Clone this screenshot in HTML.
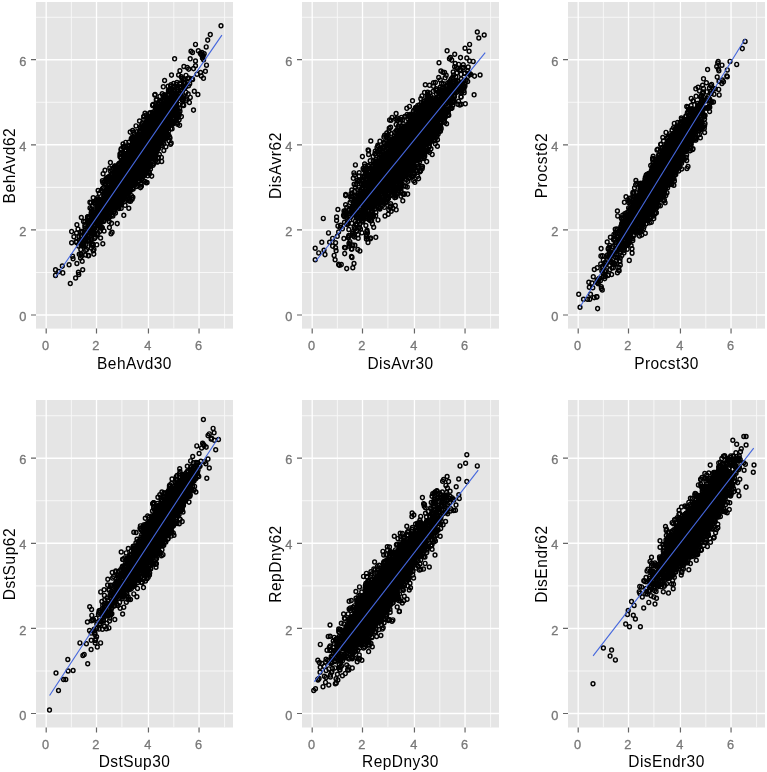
<!DOCTYPE html><html><head><meta charset="utf-8"><style>html,body{margin:0;padding:0;background:#fff;overflow:hidden}svg{display:block}text{font-family:"Liberation Sans",sans-serif}</style></head><body>
<svg width="767" height="772" viewBox="0 0 767 772">
<defs><filter id="gs" x="0" y="0" width="767" height="772" filterUnits="userSpaceOnUse"><feColorMatrix type="saturate" values="0"/></filter><marker id="m" markerWidth="8" markerHeight="8" refX="4" refY="4" markerUnits="userSpaceOnUse" overflow="visible"><ellipse cx="4" cy="4" rx="1.9" ry="2.05" fill="none" stroke="#000" stroke-width="1.45"/></marker></defs>
<rect width="767" height="772" fill="#fff"/>
<rect x="36.0" y="2.0" width="197.0" height="326.6" fill="#e5e5e5"/><path d="M71.35 2.0V328.6M121.90 2.0V328.6M173.80 2.0V328.6M224.60 2.0V328.6" stroke="#f8f8f8" stroke-width="0.95"/><path d="M36.0 272.45H233.0M36.0 187.35H233.0M36.0 102.25H233.0M36.0 17.15H233.0" stroke="#f8f8f8" stroke-width="1.05"/><path d="M46.20 2.0V328.6M96.50 2.0V328.6M148.45 2.0V328.6M199.05 2.0V328.6" stroke="#fff" stroke-width="1.3"/><path d="M36.0 315.00H233.0M36.0 229.90H233.0M36.0 144.80H233.0M36.0 59.70H233.0" stroke="#fff" stroke-width="1.5"/><path d="M160.3 142.0 118.7 169.3 153.1 138.1 134.7 150.3 150.2 116.5 133.8 152.0 141.2 147.8 156.0 112.6 138.6 165.4 139.3 143.0 112.4 186.8 163.8 115.7 136.1 154.1 148.8 137.9 122.3 179.4 172.3 103.7 136.8 175.5 112.1 182.9 146.6 148.2 102.0 205.9 125.7 182.1 146.4 149.8 106.5 210.0 142.9 135.5 98.6 223.7 106.6 211.0 123.1 180.2 118.9 198.8 138.2 169.2 149.8 138.2 122.4 175.6 135.2 152.3 159.1 121.8 126.0 184.5 138.5 175.7 158.9 115.0 161.7 161.4 81.9 236.7 108.0 192.0 148.3 128.9 120.7 156.8 157.6 116.5 144.4 125.5 153.6 156.8 149.5 144.7 139.3 151.4 100.6 238.0 145.1 156.5 151.0 125.0 161.0 132.2 157.4 117.7 151.9 126.0 114.6 176.2 142.3 141.4 147.3 137.7 141.9 143.6 144.7 158.2 153.6 115.0 157.3 133.8 80.8 249.6 156.4 125.4 124.5 192.5 155.8 106.8 134.4 133.7 154.8 118.9 126.6 183.9 97.9 209.0 95.2 214.9 122.1 185.3 172.3 110.7 143.4 143.8 108.7 204.4 130.5 167.4 121.4 179.3 132.7 179.0 96.5 220.0 175.6 107.1 123.5 157.2 119.3 180.9 139.8 148.8 149.0 137.9 136.9 157.4 124.8 173.6 142.0 152.0 146.6 169.3 147.9 141.8 160.4 131.5 121.1 183.3 169.7 121.9 123.5 187.3 90.5 230.2 121.6 178.5 147.8 139.7 168.0 113.1 91.9 221.3 112.7 199.3 147.8 146.0 92.3 214.4 171.8 109.6 151.7 129.7 118.8 182.5 180.1 83.0 138.6 167.0 131.6 159.6 133.2 152.7 121.2 188.9 140.3 151.1 145.6 141.4 159.0 127.6 141.7 139.9 134.0 157.7 154.5 135.6 129.6 157.9 129.9 163.0 105.0 170.3 126.1 191.6 159.3 123.9 122.0 179.2 140.9 152.3 112.9 216.0 132.5 163.1 156.4 137.0 150.8 130.0 143.3 162.3 129.6 148.0 135.1 161.3 146.0 151.4 139.9 148.3 135.7 177.4 123.9 189.0 84.9 226.7 143.4 153.2 126.3 172.0 151.0 165.8 203.5 78.3 129.9 189.0 143.7 119.5 156.6 132.9 107.9 177.3 132.1 169.1 153.0 124.0 131.0 174.0 113.6 201.2 145.8 148.6 140.0 154.1 149.6 165.6 157.3 130.5 138.3 169.0 141.3 166.5 101.5 213.8 138.7 162.0 144.5 149.9 162.7 109.8 172.0 89.3 128.4 150.7 142.2 160.2 118.5 186.9 171.1 113.8 131.7 172.1 136.8 152.2 123.7 168.9 114.6 192.1 162.5 120.6 144.8 125.5 85.6 234.8 143.9 136.0 175.1 103.5 149.6 135.2 155.9 109.4 134.6 168.1 156.3 126.4 128.7 154.8 161.5 121.3 111.4 178.6 152.6 105.4 110.8 178.1 92.4 222.6 106.9 210.3 163.8 116.7 143.4 155.1 167.3 123.2 120.3 172.3 158.8 118.5 111.5 223.3 170.0 116.2 120.6 192.7 146.3 132.1 154.9 127.5 173.5 93.5 163.5 119.8 140.8 142.1 166.3 106.9 129.5 168.5 139.7 143.1 139.3 175.7 76.5 233.0 149.1 156.5 158.8 130.8 133.5 159.6 182.4 90.3 134.2 178.1 151.8 136.4 124.5 201.6 139.6 157.1 111.1 200.6 164.7 100.4 130.1 171.4 146.9 153.3 145.6 154.7 156.3 140.9 137.5 157.8 132.3 162.4 152.7 116.9 106.5 217.4 148.0 136.2 131.1 183.5 145.4 150.2 122.0 166.0 131.0 152.3 155.4 122.0 151.5 144.8 145.6 135.1 138.9 180.8 134.9 167.9 140.8 151.9 179.5 93.8 170.5 106.3 121.4 182.6 158.2 135.8 126.3 166.9 139.8 163.0 123.1 179.7 96.9 207.1 114.5 184.7 135.8 143.7 150.1 128.7 131.2 157.8 154.4 115.2 152.2 152.5 142.6 147.5 168.7 108.1 98.5 215.8 123.6 176.4 126.5 168.1 136.9 162.0 102.8 182.5 145.0 122.7 186.0 92.4 123.0 164.8 165.8 106.2 157.4 123.8 149.6 142.8 132.3 158.0 118.9 181.1 115.2 194.7 149.4 123.5 123.2 174.7 155.5 117.9 173.9 119.7 129.2 177.8 171.2 143.1 105.0 217.3 135.4 153.2 87.8 216.8 180.3 94.0 163.5 109.0 163.3 132.5 158.9 141.3 149.2 124.3 91.7 211.3 167.8 104.8 133.3 167.0 115.0 170.2 169.6 99.5 125.7 142.4 149.2 172.6 161.6 137.2 162.4 111.4 123.9 167.4 141.2 148.2 164.7 120.3 148.0 150.4 152.2 116.8 157.7 114.8 120.3 177.3 116.1 167.1 157.8 140.2 162.8 134.6 130.4 168.5 126.3 185.3 123.4 166.5 84.9 224.7 137.9 148.0 81.9 240.5 133.6 169.8 151.8 132.1 127.4 196.3 168.6 130.9 127.5 183.5 144.0 164.9 116.6 186.9 186.0 100.8 144.7 139.5 147.0 145.5 139.6 174.4 158.4 157.3 164.1 97.2 138.4 152.7 127.6 166.3 111.1 201.2 179.7 108.5 137.9 141.2 162.7 126.6 135.0 161.4 157.2 140.3 129.9 175.0 145.1 153.8 130.0 174.4 105.4 203.3 147.9 131.4 92.2 233.7 136.4 166.1 83.1 244.2 164.0 138.9 139.7 154.9 148.1 160.3 103.8 220.5 179.2 97.7 166.7 112.4 108.7 197.3 159.6 112.1 134.0 145.5 97.2 204.9 125.7 178.1 91.5 209.0 126.0 177.4 98.5 217.6 160.6 113.2 92.3 218.5 153.5 129.2 138.3 166.8 129.9 171.7 76.5 242.4 133.5 157.0 133.9 184.3 132.9 137.1 99.5 202.6 91.4 234.0 174.3 90.3 133.1 165.4 90.1 232.9 144.5 128.0 162.7 141.8 109.5 209.7 128.7 180.3 132.2 172.0 163.3 86.8 160.6 129.9 168.8 124.5 126.5 170.8 121.6 170.8 149.7 125.1 134.8 171.7 114.8 165.9 133.9 160.2 162.8 131.6 167.1 128.8 118.8 174.7 120.8 180.6 151.0 146.1 132.3 162.9 124.3 147.5 122.8 160.4 105.1 209.6 147.5 156.2 127.7 158.9 124.6 188.2 93.8 254.1 162.1 133.8 100.0 227.4 143.0 167.8 110.0 199.8 139.1 165.1 139.1 161.9 138.5 152.1 131.0 173.4 80.5 258.0 116.9 198.3 120.3 171.8 120.3 195.2 178.4 112.4 121.0 175.9 169.1 123.6 130.6 178.9 93.8 217.7 161.5 125.2 146.4 152.2 133.5 168.5 119.2 170.6 134.7 157.6 143.7 157.6 125.8 179.3 102.4 188.8 116.4 190.4 103.2 202.6 164.0 115.9 138.2 162.9 148.8 139.8 147.8 154.8 152.4 139.8 133.3 149.4 125.5 176.4 139.0 136.8 119.9 179.8 142.2 144.6 155.9 129.8 166.5 126.4 144.6 134.7 134.8 144.1 161.3 119.6 108.9 198.2 145.7 150.3 174.2 98.4 136.5 147.8 158.5 124.3 130.9 166.3 145.0 145.3 155.2 134.1 93.9 233.2 125.3 150.0 125.8 183.7 152.4 147.9 117.7 168.1 149.0 135.3 140.2 147.2 168.7 118.9 129.0 169.5 128.4 160.8 110.4 162.6 184.7 82.7 145.4 144.7 158.4 119.5 121.7 179.0 97.1 225.0 165.7 138.6 141.5 145.9 143.0 176.7 117.3 171.7 138.0 163.4 115.8 194.1 151.2 153.1 117.0 206.9 117.0 194.9 122.9 174.8 164.0 126.1 136.3 161.9 141.6 159.1 123.9 171.2 139.2 151.3 108.4 194.2 99.0 226.1 146.2 155.8 158.5 144.3 159.6 114.2 82.7 269.8 140.3 126.8 137.9 161.6 161.3 132.3 103.4 205.1 128.1 174.9 157.3 134.7 145.0 143.4 124.6 169.3 134.7 168.8 155.5 113.5 160.6 141.3 144.8 137.9 139.4 152.7 121.6 193.1 119.4 173.5 161.2 108.5 157.0 149.7 187.6 78.6 100.0 213.3 142.6 148.5 165.4 138.5 139.7 144.3 124.4 162.5 162.7 118.7 110.4 209.9 137.3 162.8 97.4 212.0 136.6 162.1 124.4 193.2 143.9 163.7 94.4 238.4 164.0 119.9 138.6 134.5 126.6 157.5 116.0 191.6 117.9 188.5 118.6 173.7 150.6 131.6 143.3 142.4 139.3 160.5 145.9 139.4 136.5 138.3 104.7 201.9 171.0 84.8 153.5 146.1 171.4 112.9 134.7 159.3 111.4 196.5 142.3 134.5 150.1 136.5 155.8 120.0 162.6 103.8 119.9 204.9 127.4 175.6 160.2 101.5 133.5 167.7 124.5 189.3 114.8 200.4 113.6 206.0 170.5 112.4 154.4 131.0 132.4 159.3 166.9 106.7 116.1 190.3 147.5 134.4 99.2 199.7 174.7 121.4 116.4 200.1 121.8 174.4 113.0 207.2 132.3 152.4 95.8 225.4 141.6 164.3 98.3 212.2 131.2 138.8 113.0 206.6 136.4 160.3 133.1 173.4 145.2 140.5 113.7 193.7 126.4 174.5 97.6 207.3 151.6 141.2 161.7 123.2 153.5 129.3 99.3 213.6 146.3 149.0 133.5 174.4 156.7 125.8 143.9 147.8 143.2 153.1 154.1 142.4 144.7 154.0 146.2 157.9 146.3 124.5 150.6 132.3 114.5 166.5 152.9 157.3 125.1 205.3 149.7 137.6 110.9 198.3 149.5 147.1 130.8 174.9 128.9 173.4 78.8 274.5 109.8 168.1 127.6 178.5 159.6 115.2 156.0 134.0 183.0 88.2 168.7 104.6 112.1 184.8 173.3 99.7 135.0 148.0 165.9 96.4 143.8 147.1 167.1 108.2 108.6 204.8 89.1 217.3 91.2 239.6 147.8 159.7 106.7 210.5 148.2 136.1 157.1 136.1 158.0 131.7 112.6 177.3 147.2 123.6 102.4 180.8 83.5 221.4 154.4 124.7 135.4 153.1 132.8 182.3 135.3 157.7 145.7 146.4 111.7 180.5 180.2 84.0 151.1 148.6 160.3 127.4 172.6 99.3 133.6 159.9 130.0 174.5 181.3 76.7 121.1 202.3 118.1 177.2 158.8 136.8 123.8 194.0 125.0 178.6 136.6 137.2 141.3 171.0 148.9 143.5 141.0 152.5 117.9 190.5 130.4 174.8 168.1 114.9 147.2 141.6 150.0 122.4 157.9 161.6 173.8 102.2 142.2 140.3 122.3 200.0 131.7 158.2 160.8 112.7 165.8 121.9 118.4 181.5 116.9 197.7 112.8 207.8 152.1 143.6 138.5 164.7 123.2 166.5 155.4 143.9 98.2 206.2 159.1 116.1 107.0 187.0 125.2 174.3 159.7 119.8 106.3 211.7 173.1 118.7 159.7 106.8 137.7 144.6 151.9 149.6 138.3 167.0 121.2 148.8 132.9 160.5 156.8 108.3 147.9 125.1 139.3 156.9 184.2 78.9 142.3 165.0 137.7 157.8 150.5 124.5 94.6 202.7 153.7 134.4 141.4 145.7 146.5 155.0 172.5 95.9 119.5 198.8 96.9 220.2 168.4 114.9 146.4 162.3 149.2 148.6 149.2 146.9 158.6 116.0 163.6 112.5 142.0 147.3 136.1 155.2 161.8 118.2 176.3 113.0 134.0 168.7 146.5 147.8 134.0 158.8 155.7 121.6 98.2 228.3 157.3 110.4 93.4 228.9 140.3 165.8 161.1 123.5 93.6 217.8 107.8 202.6 114.0 173.4 138.9 162.5 150.4 145.4 166.3 132.5 170.6 86.3 107.0 205.8 125.2 179.9 123.9 198.9 139.2 165.8 101.5 216.0 146.1 141.5 107.3 190.1 119.1 163.6 142.5 160.0 136.1 157.4 127.8 163.9 118.7 174.3 141.1 137.3 129.5 162.2 136.0 158.5 123.3 146.9 143.5 166.7 154.9 129.8 148.6 133.7 120.6 179.4 111.4 194.0 137.6 161.6 145.8 132.1 91.3 245.1 139.3 168.2 122.1 195.4 157.0 137.8 132.8 170.4 156.6 123.1 106.0 190.4 148.5 152.0 185.8 86.8 155.1 94.4 164.8 108.5 97.9 233.2 102.0 199.1 160.8 122.5 123.6 172.3 122.9 167.4 122.7 174.3 124.3 163.4 131.5 161.1 114.0 179.7 143.1 138.5 145.0 162.2 159.0 144.3 104.4 181.8 122.8 193.1 171.3 121.5 105.0 184.2 128.8 155.9 96.9 217.7 152.0 112.5 175.5 108.7 170.3 114.4 136.4 175.2 167.5 112.5 155.9 122.2 179.6 125.2 159.4 119.7 141.3 173.4 176.0 109.5 144.5 139.0 132.1 137.4 136.3 139.2 129.1 169.0 125.8 188.9 89.4 221.6 175.9 106.7 130.7 157.5 131.5 159.2 132.8 142.1 171.0 100.6 169.4 112.6 125.6 167.7 142.7 154.3 143.0 154.6 142.3 157.1 169.2 113.9 117.9 191.8 169.3 109.6 164.4 136.2 105.7 208.0 137.3 150.0 149.1 149.9 139.4 166.6 136.5 136.6 94.7 224.8 171.5 75.1 136.8 158.8 119.4 176.4 117.0 175.3 129.7 175.6 155.1 141.5 154.1 132.4 139.1 155.4 123.6 167.2 108.8 203.7 92.1 230.4 130.3 176.1 157.5 145.1 135.6 156.2 137.3 162.2 135.4 176.2 144.9 136.4 153.7 138.1 128.4 197.1 109.8 206.0 153.7 115.6 163.7 119.6 132.9 172.0 144.2 145.3 90.6 237.2 163.5 126.4 133.7 158.1 160.9 135.4 173.6 83.5 151.7 176.1 129.5 187.5 128.4 159.4 135.5 156.2 129.4 146.1 143.2 141.6 124.3 162.2 134.4 153.5 192.6 79.5 176.5 122.7 113.0 195.5 113.4 186.3 139.7 149.3 158.0 139.2 108.6 187.0 145.1 151.7 149.5 152.4 142.1 150.0 122.3 179.3 176.9 114.6 137.2 169.5 151.0 136.3 138.6 134.4 150.5 169.1 155.5 160.9 158.3 136.2 131.8 170.6 158.1 118.3 97.2 234.8 140.3 150.1 160.8 120.0 136.6 147.7 118.3 191.9 153.3 144.6 104.1 208.0 104.3 214.1 183.9 96.0 144.3 153.7 153.1 126.3 118.7 186.7 139.9 142.2 143.4 152.0 168.4 107.9 140.5 170.6 137.1 156.4 104.0 204.4 174.3 114.9 84.6 240.0 156.8 139.4 166.7 100.8 131.5 166.9 165.9 124.5 142.4 157.9 129.3 180.0 159.6 122.8 126.9 170.1 127.0 181.6 129.9 176.5 126.2 167.7 130.4 180.8 128.9 142.2 131.6 163.9 152.2 143.0 142.4 145.7 157.4 161.9 177.1 93.5 122.2 185.8 166.5 104.1 157.7 118.0 173.9 114.2 173.5 87.9 135.3 164.0 173.0 109.5 127.3 158.9 186.0 75.4 156.5 137.7 169.0 109.7 140.3 160.5 155.6 142.6 149.9 148.0 122.9 173.1 144.3 169.4 132.3 160.1 154.7 147.3 146.8 147.7 155.7 116.8 138.1 151.4 143.0 154.3 133.3 142.1 133.1 182.5 184.6 88.6 137.4 146.3 110.4 212.0 155.1 126.9 113.8 194.1 124.2 146.2 166.3 105.6 138.1 150.1 165.8 134.8 138.1 160.0 159.0 107.1 112.0 184.2 143.5 157.7 131.8 168.0 157.0 151.1 140.3 152.2 118.4 196.6 148.9 158.9 123.7 188.9 145.3 137.5 86.7 249.6 130.5 201.3 155.1 107.1 150.1 145.5 168.6 118.4 155.6 145.9 142.0 137.6 158.0 116.0 149.0 132.6 149.5 132.3 122.2 168.3 129.3 164.2 116.4 189.7 87.5 217.7 183.5 88.3 182.0 99.8 156.3 126.8 128.0 194.2 135.2 159.3 159.8 134.0 115.0 207.6 130.6 160.5 93.2 197.7 182.0 78.2 158.2 120.8 124.4 185.4 172.7 123.9 176.6 105.3 130.8 175.3 130.2 165.1 111.0 174.7 133.5 153.4 92.0 218.9 135.0 156.5 156.0 149.8 130.8 158.4 156.8 127.9 170.1 119.5 139.5 155.7 84.6 236.6 147.8 132.1 168.4 119.0 119.1 169.9 153.2 134.5 125.7 180.0 142.9 133.2 120.0 184.1 134.1 162.3 141.9 170.8 116.8 172.6 150.7 139.4 96.9 209.2 144.0 151.9 184.1 86.7 140.1 169.3 147.3 149.4 143.7 164.2 149.0 145.3 140.1 145.0 182.8 98.1 136.7 159.7 152.6 134.0 169.9 90.9 144.4 138.2 151.8 157.1 130.6 151.2 136.6 179.3 163.0 138.9 137.7 154.9 147.2 125.4 136.5 168.7 176.3 116.3 133.0 168.0 140.2 152.2 146.4 129.1 136.7 158.1 141.1 157.5 127.3 177.2 160.6 123.2 119.8 177.1 79.2 254.3 114.5 192.8 180.1 87.3 154.8 95.0 159.3 121.1 144.4 175.2 138.9 163.1 152.4 132.0 127.2 176.5 145.7 132.4 172.2 111.2 132.8 158.2 166.6 110.4 138.4 165.3 138.1 163.5 170.6 114.6 138.5 169.8 111.7 194.2 83.7 244.1 145.6 146.7 148.5 155.6 170.6 90.9 153.8 128.6 149.2 125.0 146.4 157.4 127.3 179.2 163.6 114.7 134.3 158.3 137.3 154.5 144.0 134.2 146.1 139.9 133.2 150.2 117.3 192.8 150.2 128.1 141.4 186.2 165.1 114.4 151.4 141.4 118.9 190.0 100.1 211.8 124.1 178.0 133.2 159.3 124.2 188.7 136.9 166.1 175.8 98.1 146.8 151.2 152.5 141.8 167.0 109.3 147.5 141.5 129.7 175.6 139.7 164.3 166.9 106.5 183.8 83.5 88.8 222.1 125.4 178.3 148.4 152.6 163.6 121.3 152.6 138.5 130.8 174.9 127.2 169.6 139.5 121.0 117.5 192.4 123.6 184.0 108.9 190.3 118.1 194.1 130.0 173.6 131.8 174.2 147.4 145.0 115.3 179.8 164.4 113.1 124.8 193.0 99.8 216.1 101.5 228.1 152.9 132.6 153.0 142.1 183.2 79.2 134.3 139.6 126.2 177.6 148.5 140.5 150.5 130.7 126.7 190.8 185.2 83.3 141.0 149.6 118.8 207.1 165.0 119.8 147.2 150.9 164.9 126.6 147.6 144.0 162.7 139.5 122.5 196.0 114.5 176.3 148.3 135.9 94.7 221.9 173.7 105.0 177.8 96.5 115.6 189.0 168.1 86.3 115.8 182.0 91.1 238.9 161.5 116.6 175.9 103.5 132.4 174.7 155.7 151.8 151.4 125.4 159.9 134.5 128.0 182.8 108.0 199.6 137.2 142.5 116.1 198.4 172.4 111.3 91.1 224.7 102.4 227.7 135.9 165.6 126.0 163.5 160.8 100.7 142.8 161.9 126.2 173.1 133.6 159.3 141.4 156.0 146.3 153.0 123.5 180.1 120.9 186.5 137.9 167.3 158.9 130.2 174.2 106.6 136.5 186.5 139.2 154.1 90.9 227.6 105.5 202.9 154.1 158.2 173.3 106.2 152.4 156.2 150.3 127.2 156.8 122.9 169.0 119.0 129.6 154.4 158.8 120.9 169.4 123.9 158.8 135.4 160.5 120.0 116.1 168.5 117.3 169.7 155.9 129.6 126.8 181.5 117.7 170.0 142.0 162.4 131.5 168.5 149.1 166.9 128.2 174.9 115.7 179.1 137.8 172.5 168.9 140.7 115.1 171.0 139.9 146.7 147.5 152.8 150.2 140.9 150.4 116.6 135.8 181.8 115.7 176.9 141.5 145.7 135.1 156.8 143.7 150.1 132.6 155.3 131.6 177.1 148.2 141.7 111.7 169.4 97.0 217.9 144.0 138.0 113.6 211.4 145.3 172.1 161.4 106.8 155.7 128.1 120.4 175.7 157.5 134.4 176.3 100.9 117.7 176.1 129.0 170.7 139.6 161.5 150.8 149.8 153.2 153.7 153.0 165.3 164.3 124.3 144.1 154.2 123.5 147.8 115.4 196.8 128.1 184.8 152.4 114.2 93.5 230.1 141.3 156.8 120.8 169.4 84.9 221.6 132.8 152.0 142.1 143.2 146.3 156.6 150.9 146.6 113.4 197.4 133.5 155.5 150.6 142.2 148.8 128.5 140.7 149.8 131.3 161.9 147.3 170.3 89.4 224.6 130.5 179.5 137.3 146.7 161.9 124.1 140.8 143.7 152.7 127.6 150.4 145.6 135.9 167.8 124.9 161.7 102.3 191.3 140.1 163.0 129.1 188.1 115.1 178.3 101.1 226.6 158.2 128.0 139.9 178.7 143.0 136.1 94.7 210.9 148.2 146.8 167.3 136.3 149.4 174.1 167.8 114.3 127.7 162.5 103.4 203.0 168.4 128.3 129.0 159.8 170.9 104.5 159.2 145.1 110.0 216.8 137.4 168.8 112.4 177.7 147.4 150.7 165.2 95.7 158.4 111.7 99.7 231.4 151.4 140.3 132.6 130.6 151.5 137.1 109.2 188.5 166.1 111.2 143.5 151.7 121.1 188.6 154.7 128.9 106.3 196.0 163.8 111.6 164.5 107.5 130.0 187.2 165.7 127.6 139.0 145.3 143.2 146.9 181.4 116.6 87.6 240.7 164.5 122.4 107.8 202.6 111.9 188.9 156.0 124.8 179.0 113.9 110.7 203.6 151.3 118.6 155.1 143.8 143.8 147.4 139.3 137.0 148.5 142.9 129.5 169.0 132.7 174.7 106.0 211.4 168.3 98.9 164.3 111.4 164.2 115.4 150.3 145.0 158.1 107.5 145.0 113.2 161.3 120.9 165.5 127.0 143.3 162.1 120.0 153.9 143.8 116.7 136.0 167.1 94.8 216.0 155.7 155.8 153.6 144.2 132.6 140.5 144.2 138.1 133.5 152.4 117.7 189.0 108.4 217.6 136.8 162.0 154.7 118.9 146.0 140.5 122.7 169.8 149.9 131.7 107.1 209.6 162.8 119.3 160.4 135.5 140.8 172.0 160.2 118.8 149.5 156.5 103.6 187.5 138.3 151.7 145.0 163.3 135.5 167.1 170.7 122.7 133.7 150.9 147.0 136.9 123.1 176.7 134.3 141.3 117.6 184.7 146.9 147.0 105.3 214.6 129.6 183.0 188.8 78.0 134.9 145.3 150.9 139.4 144.3 144.2 111.9 192.9 142.6 129.2 158.9 123.9 146.4 130.5 163.1 122.6 110.5 206.1 154.6 152.0 129.0 182.6 82.4 232.0 125.9 185.9 112.4 179.8 146.8 149.3 143.4 172.1 115.2 187.1 168.6 118.8 115.3 166.2 130.2 159.4 152.7 148.5 156.2 130.0 118.4 202.0 146.2 164.5 131.7 166.8 161.5 113.5 151.5 144.0 116.9 172.9 155.0 155.2 151.0 131.9 123.1 174.8 129.2 187.6 116.8 181.8 162.3 126.0 141.8 137.4 118.0 204.5 154.0 126.1 123.6 180.8 150.8 120.4 156.3 99.7 107.6 205.1 156.8 133.6 122.6 179.8 152.3 137.9 105.6 191.2 136.7 165.7 150.6 148.7 138.4 157.3 154.6 133.6 116.7 169.7 129.0 176.4 83.3 243.6 132.7 157.4 169.1 105.9 129.9 181.0 148.2 149.8 154.8 124.1 130.4 178.1 148.6 150.8 155.3 137.8 106.6 213.4 134.6 161.6 105.8 192.8 134.6 158.8 163.0 95.7 132.9 163.0 92.3 243.8 113.2 193.2 156.7 138.2 162.9 110.3 140.2 157.1 130.3 185.3 123.6 186.3 143.3 148.5 126.8 179.8 144.8 147.9 138.2 137.4 136.2 183.4 172.1 123.0 134.3 146.7 119.5 180.8 117.5 199.5 141.3 148.2 145.2 136.1 125.7 183.5 160.4 114.1 138.4 158.6 132.4 148.1 137.3 185.1 154.3 111.4 160.9 125.7 118.6 170.3 156.9 137.6 168.7 106.9 124.6 155.5 136.7 157.8 124.1 181.4 167.5 128.1 138.0 165.8 157.7 119.3 160.5 142.8 104.9 195.9 149.8 140.1 139.1 158.4 149.5 149.4 155.4 138.1 119.0 208.4 160.5 117.3 127.7 180.1 165.2 103.1 102.1 218.0 130.9 177.0 165.9 118.2 156.1 136.3 133.2 177.9 147.1 169.3 127.9 187.2 165.6 129.3 158.2 119.9 118.2 176.1 175.3 115.7 155.8 117.6 164.5 138.3 157.5 137.8 138.8 161.4 115.5 200.0 140.4 139.9 173.4 87.2 137.3 170.6 169.8 106.7 107.3 201.2 156.4 125.1 142.0 162.3 128.8 161.9 154.8 126.6 140.4 128.6 146.4 158.3 133.6 164.1 135.7 151.7 170.7 97.3 126.8 171.7 121.0 172.7 114.9 171.9 188.6 85.7 132.4 167.8 154.5 132.6 149.0 171.5 176.0 95.0 137.9 150.4 89.9 202.2 172.4 124.0 158.5 123.9 130.4 159.7 116.7 178.5 144.4 162.6 144.9 181.4 96.2 216.4 150.7 135.9 93.8 217.3 135.2 169.1 116.5 197.5 143.4 150.8 174.5 115.7 149.1 153.0 134.8 158.2 114.8 183.3 159.0 140.4 177.2 122.6 157.1 142.2 168.6 104.6 131.7 169.8 158.3 119.7 166.1 109.2 154.5 137.9 148.6 140.7 126.3 163.0 140.9 158.2 151.2 150.2 147.3 123.7 135.6 142.0 129.2 179.9 136.6 149.1 136.5 153.6 123.0 175.2 102.3 212.9 114.9 199.9 136.7 173.3 170.9 97.8 154.5 133.7 136.8 151.8 168.1 135.7 154.3 121.9 162.1 110.9 154.8 129.5 157.9 103.5 131.3 162.4 172.4 105.4 81.6 256.1 124.4 187.9 134.4 156.3 102.0 202.7 109.2 176.5 154.0 141.5 153.0 129.8 109.3 209.2 159.2 129.0 140.5 161.4 150.8 166.1 140.3 144.5 98.8 224.5 155.9 142.5 156.1 129.6 149.9 154.6 159.3 138.4 129.1 200.9 139.0 156.2 118.4 177.3 86.1 237.8 155.2 119.6 132.2 147.7 153.6 127.0 163.5 124.5 136.7 150.5 158.6 114.6 144.4 146.8 156.4 117.5 148.1 138.0 127.7 186.4 127.8 174.7 163.8 119.2 140.8 168.3 164.2 137.1 125.9 168.5 139.8 167.3 168.3 107.7 138.4 175.0 147.4 159.3 139.7 144.2 171.6 107.2 168.8 135.2 120.7 201.7 172.1 107.5 125.7 185.5 138.7 167.2 179.2 115.0 102.2 212.3 121.3 153.1 158.0 149.0 99.2 193.3 156.7 141.9 159.0 142.4 132.8 154.6 147.0 148.1 145.7 150.4 144.1 128.8 146.5 121.8 171.9 102.2 128.5 184.1 147.4 157.9 116.8 189.2 131.9 154.3 144.7 143.5 120.5 179.0 119.9 169.8 121.2 208.3 119.1 173.7 95.9 217.6 143.5 150.0 155.5 127.9 153.8 139.0 118.8 205.3 155.5 157.3 104.2 202.0 145.4 162.3 123.6 179.0 156.0 152.9 159.2 127.9 164.7 113.6 141.9 157.0 179.0 93.5 120.3 191.6 114.4 197.2 159.0 125.3 140.7 153.8 89.9 221.2 144.4 147.0 132.5 153.2 116.5 167.9 103.9 194.3 111.5 183.4 137.3 151.6 151.2 158.1 162.6 106.0 149.0 131.2 138.8 169.5 139.7 156.8 114.1 209.8 134.4 158.2 111.2 177.1 143.7 147.2 160.6 133.2 119.3 170.1 143.4 139.8 144.7 145.3 167.3 104.8 128.5 173.0 158.8 114.2 104.1 231.0 136.7 152.4 147.7 153.5 165.9 112.5 138.2 166.4 138.9 175.6 139.3 149.1 128.8 208.2 108.3 204.1 162.5 106.1 140.3 132.5 160.5 106.3 127.3 195.3 176.4 102.4 123.4 189.7 134.7 159.6 149.2 164.8 145.0 139.9 156.1 129.2 98.1 199.1 143.4 135.1 131.5 165.2 136.6 178.9 139.8 147.9 128.8 182.7 158.8 127.0 114.1 176.8 91.3 248.1 137.8 161.2 115.1 201.9 167.1 112.8 147.9 138.1 96.3 213.3 127.5 167.0 131.2 176.8 166.8 123.2 125.5 176.1 144.5 146.1 156.4 133.5 120.1 194.0 153.9 141.3 142.5 149.1 99.6 226.4 186.2 99.0 141.8 146.2 149.8 113.1 155.7 145.8 101.3 190.6 130.9 160.7 150.6 152.1 117.6 182.6 149.3 136.6 125.8 161.8 130.8 184.9 112.7 180.4 174.9 108.8 107.9 196.9 134.4 177.2 129.7 154.0 98.0 212.1 151.7 148.8 117.9 180.4 127.9 162.7 148.5 125.2 107.3 190.9 131.1 190.0 146.2 159.3 153.7 136.2 88.6 226.6 157.0 145.6 154.6 120.9 121.5 175.0 85.7 255.0 113.9 206.7 143.3 135.8 129.7 191.5 132.8 139.5 151.7 118.2 194.3 91.2 132.3 160.8 152.2 125.0 146.0 182.6 97.4 197.7 150.9 143.0 92.7 244.1 136.6 146.9 110.4 192.3 103.7 208.4 129.6 182.1 161.6 145.2 154.6 125.5 140.9 148.5 140.1 173.5 124.2 189.3 112.6 204.9 137.9 164.7 147.5 146.7 138.3 140.5 162.4 122.9 113.8 179.6 98.9 213.8 141.3 136.6 173.9 108.6 123.1 168.1 133.7 173.8 161.9 145.6 144.3 174.9 147.0 168.4 147.0 127.8 153.2 136.1 96.8 214.4 127.1 167.7 128.9 159.1 83.7 240.3 144.8 160.7 177.5 89.4 138.8 159.0 125.9 181.9 143.3 143.4 146.0 138.7 123.7 176.0 141.4 179.6 157.1 105.7 97.8 216.9 137.7 176.4 94.1 214.8 163.5 105.7 164.5 106.1 155.3 128.9 158.4 123.4 82.2 261.3 140.5 187.6 163.8 105.9 141.8 150.4 129.2 168.1 158.4 148.5 150.4 120.5 136.8 168.0 162.5 113.3 170.8 128.7 159.4 154.6 137.6 156.6 137.4 153.0 106.8 217.2 155.8 103.2 137.2 166.3 111.9 178.5 129.7 156.2 147.5 162.9 138.9 151.2 140.1 165.9 111.7 193.0 111.4 197.6 97.8 203.7 157.4 139.4 154.3 128.1 121.8 171.4 130.2 148.2 145.1 163.6 121.5 168.1 130.5 159.1 164.9 105.9 109.4 227.6 177.6 124.3 133.2 189.0 90.5 233.3 143.0 156.8 117.9 189.9 145.5 134.9 166.8 100.5 145.8 153.8 170.0 114.3 145.3 169.9 155.8 140.6 166.1 120.7 100.4 218.7 147.8 175.8 142.4 159.7 111.4 196.6 108.8 189.8 137.5 154.8 124.4 198.6 166.4 129.7 140.2 149.5 154.5 133.6 133.7 150.9 161.1 118.3 145.6 150.5 145.0 153.1 128.3 163.2 115.5 198.9 103.5 211.2 150.8 126.4 143.6 155.9 125.9 169.8 132.9 197.2 152.5 153.6 120.2 184.1 151.4 133.0 105.0 207.6 167.6 115.2 121.2 192.4 157.4 131.7 144.9 139.3 163.2 133.8 143.7 167.4 145.0 136.4 123.4 156.5 143.1 134.1 109.0 207.7 153.3 140.0 182.1 99.5 146.0 140.4 146.5 136.6 97.5 225.3 174.9 97.3 131.5 162.6 149.5 124.0 131.6 169.0 128.6 167.2 134.9 183.9 153.0 142.1 133.9 156.0 169.5 136.9 172.5 118.4 114.6 191.8 133.4 168.8 164.7 131.0 162.0 130.5 149.3 135.7 110.6 171.3 130.6 157.2 99.3 209.9 134.9 137.5 134.5 181.6 148.2 129.7 144.9 147.2 137.3 160.0 177.3 108.8 115.9 189.3 85.2 228.6 142.6 159.5 150.8 151.4 131.4 161.8 131.4 148.4 152.1 123.9 145.4 133.8 155.1 146.3 92.9 232.1 137.7 163.0 113.7 169.1 123.6 183.4 130.3 154.2 104.0 196.5 111.9 205.1 164.3 111.7 137.1 142.2 80.7 232.0 131.1 164.0 149.1 128.6 148.4 160.1 138.3 163.2 163.3 120.5 134.4 153.5 78.0 229.1 156.8 138.0 114.7 189.7 141.4 137.8 156.6 116.8 87.6 241.3 133.2 171.0 173.9 101.1 165.9 146.7 176.5 84.6 139.3 158.2 119.9 164.8 162.1 127.8 177.8 117.8 172.1 128.8 159.4 106.6 156.5 139.1 146.0 146.8 110.7 213.0 144.6 158.2 134.9 158.5 106.0 196.9 106.3 203.1 159.8 138.8 127.3 175.2 160.3 129.1 156.7 116.2 144.7 155.5 115.5 212.9 117.3 181.9 146.8 156.4 159.3 111.2 122.5 155.1 176.8 106.1 136.8 164.1 132.0 154.0 111.7 214.9 141.6 139.9 164.8 94.7 128.6 167.8 116.5 186.8 134.6 170.1 168.5 124.0 180.9 90.6 161.4 120.1 119.5 190.5 111.9 182.1 137.1 163.2 141.2 134.9 141.4 171.1 120.4 178.1 163.2 113.5 148.0 131.3 140.0 158.1 146.0 145.7 109.1 197.0 152.2 148.0 169.2 114.9 120.2 203.9 142.2 149.1 131.2 170.9 160.9 125.9 140.3 144.7 137.7 161.6 154.3 130.9 170.0 138.0 120.2 197.7 106.5 180.7 140.5 153.0 148.1 162.8 128.8 168.9 170.9 100.5 127.3 153.4 116.9 196.6 123.0 176.1 140.3 164.0 132.4 185.8 96.3 218.0 117.0 193.6 166.1 120.1 115.2 195.8 154.1 132.0 136.9 131.7 169.5 105.2 180.0 84.3 98.1 190.6 177.4 117.3 166.1 131.9 132.1 175.5 133.6 179.4 128.0 158.2 150.5 154.3 183.0 100.4 145.7 134.9 137.5 168.4 147.7 140.7 160.2 115.5 147.1 152.6 148.7 120.4 140.9 145.2 172.6 99.5 115.4 191.0 102.0 220.6 148.8 152.6 173.3 109.3 114.8 191.5 131.3 169.7 143.1 143.2 166.8 125.2 118.9 184.5 141.6 140.4 122.7 198.5 79.5 242.3 123.9 192.1 169.3 114.9 147.1 141.7 133.4 173.8 156.6 107.6 138.3 174.1 151.6 123.7 129.3 171.4 158.0 124.7 106.6 214.0 149.0 134.5 112.6 188.2 189.4 102.5 108.3 201.6 122.8 181.3 170.0 100.7 163.8 135.0 164.6 105.4 162.7 115.7 90.0 207.9 153.4 151.5 109.4 180.0 111.0 233.8 123.1 193.9 122.6 182.7 124.2 190.6 133.6 154.3 164.9 124.7 146.8 143.9 120.5 182.4 127.4 159.3 176.2 110.7 145.1 135.0 111.9 198.1 139.8 149.5 137.8 150.1 111.7 188.3 117.3 201.0 183.7 97.7 117.2 193.7 145.1 144.4 180.2 93.6 141.4 178.9 138.4 181.8 116.0 179.1 127.6 185.7 112.1 185.8 100.5 220.7 113.7 187.0 160.6 121.6 139.6 167.8 130.2 153.9 138.5 149.9 133.9 185.0 140.7 162.5 151.1 132.9 132.6 147.4 141.1 163.0 141.1 184.2 149.7 153.3 127.1 164.4 154.9 143.1 147.1 127.1 142.0 155.6 158.5 108.2 176.1 116.1 120.8 181.9 141.9 142.5 132.8 175.4 138.1 142.2 138.5 161.6 137.4 152.1 133.7 167.4 129.7 171.3 151.8 121.7 128.2 168.6 137.6 137.2 151.1 139.4 152.3 120.7 114.8 182.6 168.5 91.4 166.8 119.7 149.4 135.7 130.1 163.2 85.6 250.6 156.6 120.6 184.6 85.9 163.7 129.8 138.6 147.8 155.6 120.7 163.2 126.1 150.9 133.0 148.1 117.2 149.9 136.1 128.0 170.4 147.6 145.9 164.3 136.8 104.8 192.0 157.5 131.1 93.6 232.3 123.8 215.3 81.1 239.8 161.8 131.2 158.8 130.2 165.1 118.2 120.9 184.0 152.9 128.5 135.5 148.8 134.5 167.4 144.7 144.1 164.4 126.0 124.4 166.7 107.8 203.1 136.3 162.7 147.5 140.4 143.8 149.0 159.5 133.7 143.2 147.0 131.4 158.1 135.4 161.7 159.2 133.7 131.0 152.8 154.9 132.3 106.3 212.8 126.8 184.1 132.3 167.7 134.6 148.2 168.7 90.5 107.4 192.5 150.1 154.8 119.2 188.2 144.3 132.6 116.6 177.5 157.9 125.8 134.0 153.0 133.1 168.9 116.2 183.6 144.9 141.6 156.4 145.5 168.0 101.6 143.4 153.9 102.1 200.4 150.7 150.9 163.1 103.4 141.8 125.0 178.8 104.4 177.3 91.6 104.0 216.8 107.0 178.5 144.5 163.8 146.2 149.5 168.4 119.3 148.5 121.6 95.4 237.2 94.5 215.2 119.3 170.1 155.4 128.6 107.5 205.9 129.6 165.1 117.2 192.4 100.8 202.5 81.8 231.4 92.9 219.1 133.4 152.2 155.3 137.6 120.8 184.7 105.9 199.9 169.1 105.6 167.5 120.1 103.0 200.4 166.8 108.2 117.1 185.9 189.7 83.8 155.0 141.7 137.4 142.3 127.3 181.0 119.3 164.0 153.4 139.2 150.1 157.9 122.5 171.0 126.3 171.7 135.3 166.5 156.1 133.1 122.0 182.3 145.0 139.3 159.3 140.8 86.0 244.6 129.1 155.2 135.1 155.0 162.9 124.0 150.0 113.0 127.8 177.7 125.4 149.8 176.0 110.9 90.8 221.7 150.7 136.6 146.1 128.0 163.4 113.2 147.0 138.5 133.2 155.9 124.7 164.0 114.5 177.7 143.7 156.3 163.8 126.1 151.8 134.6 128.4 189.5 152.4 157.0 147.9 139.7 156.7 125.6 137.7 164.4 108.1 209.3 140.0 165.3 156.7 128.3 158.8 106.8 163.9 124.5 135.0 154.1 124.0 178.0 166.4 119.7 172.0 94.1 151.2 157.4 85.8 239.4 151.6 134.3 140.7 152.4 149.9 159.7 133.4 132.2 110.8 203.4 140.0 143.3 145.7 140.9 157.8 127.8 137.6 173.8 117.2 178.1 153.8 130.7 138.9 167.2 135.3 149.3 127.2 179.8 158.4 114.7 115.9 186.8 141.8 157.1 147.0 119.7 109.0 181.4 164.1 106.6 168.2 124.4 142.5 155.5 129.5 162.2 95.2 225.1 159.1 134.8 142.4 145.7 162.7 118.0 176.7 116.8 130.5 157.5 135.9 159.6 128.7 145.3 192.2 78.8 161.7 124.7 153.1 144.3 110.6 188.6 121.9 183.7 105.9 201.0 144.1 135.7 133.6 146.5 147.1 141.3 139.2 158.6 171.3 110.7 152.5 148.9 128.0 154.8 150.0 132.7 131.4 182.0 80.9 254.1 168.2 121.3 158.9 108.1 144.8 164.3 154.8 135.0 166.7 114.1 106.7 214.7 131.7 169.7 94.2 202.0 118.5 170.6 158.3 145.4 132.0 160.6 162.4 122.2 129.2 156.1 151.3 153.0 137.4 157.1 140.5 145.4 117.9 198.9 156.6 131.6 128.4 171.3 109.6 192.7 153.4 142.6 153.0 104.6 133.0 156.3 140.9 172.7 147.2 159.0 144.8 160.8 144.3 147.3 100.5 210.3 167.4 106.0 149.9 136.7 100.1 219.7 111.5 200.3 160.4 118.0 126.5 164.2 142.5 166.3 99.9 217.9 98.4 204.1 114.6 197.9 142.9 148.8 126.2 183.9 163.1 107.4 144.7 151.6 163.7 125.7 103.2 201.4 144.8 149.2 93.3 216.0 149.3 126.2 155.3 132.1 118.8 182.7 149.6 122.1 127.2 173.4 120.1 184.1 151.8 126.0 139.0 169.9 135.1 146.2 141.2 153.8 135.8 167.5 135.2 165.8 162.4 134.6 168.1 104.8 92.1 229.9 197.9 94.5 112.6 200.9 156.3 122.7 104.7 209.0 138.5 164.1 108.6 211.9 136.1 146.1 107.1 208.2 144.3 141.2 145.2 171.2 124.3 179.9 136.3 170.3 136.5 162.7 136.2 158.0 151.4 143.6 121.7 173.1 138.3 143.4 154.3 132.9 142.1 165.5 130.0 156.7 139.6 163.4 153.6 135.5 143.6 136.6 120.9 179.9 95.9 219.5 78.5 246.0 180.0 111.2 161.9 128.1 130.7 182.3 143.2 144.8 152.5 142.3 139.0 155.9 177.7 87.2 126.3 163.8 131.6 160.6 127.8 161.3 126.0 165.3 169.0 112.5 119.5 175.6 129.7 152.0 112.1 197.2 171.3 106.1 156.9 149.3 116.6 197.6 148.6 140.9 112.0 199.1 172.1 105.2 141.8 155.2 124.2 178.7 116.5 188.2 96.9 223.6 128.8 161.9 143.4 158.3 142.8 149.9 146.2 130.4 139.7 153.3 127.2 183.5 151.5 144.2 146.3 138.7 143.0 142.0 126.6 181.5 138.1 164.5 105.7 179.3 109.2 213.7 142.4 123.2 157.8 126.5 132.3 172.8 110.8 200.4 147.2 148.5 137.6 162.0 144.8 143.1 127.3 192.6 144.9 134.7 93.8 215.3 122.4 188.6 157.4 148.2 137.7 137.2 108.3 218.8 127.2 168.5 155.6 125.4 131.9 180.2 145.3 132.6 114.4 209.3 129.1 191.1 133.5 178.7 154.0 144.6 135.5 143.9 94.6 234.4 142.7 127.9 139.5 151.8 144.7 135.7 168.1 107.7 120.2 191.3 141.7 155.8 155.0 127.5 98.7 208.5 142.1 127.3 115.0 201.0 142.4 167.5 122.5 193.8 138.1 173.1 137.4 160.3 146.2 141.9 148.7 118.7 144.5 146.9 117.5 193.7 149.5 138.7 106.5 178.0 146.9 154.4 84.1 245.8 173.7 99.9 168.5 104.6 153.4 126.5 121.8 172.4 124.5 164.0 90.9 202.8 140.6 131.1 165.8 104.6 134.0 158.0 188.2 94.1 171.7 116.1 106.8 218.3 139.6 161.9 125.1 173.3 141.6 141.9 155.0 147.6 126.2 157.2 111.6 197.0 121.0 203.6 125.1 171.2 146.8 156.3 110.5 207.0 124.5 177.0 113.4 205.8 130.6 166.9 79.5 239.9 131.7 152.5 101.0 221.7 138.8 170.9 121.0 149.9 113.9 199.0 132.3 140.6 134.2 164.2 163.0 125.9 119.9 156.6 133.8 152.7 118.8 189.5 126.1 178.4 123.0 169.2 85.0 235.5 115.3 182.6 122.7 182.5 126.7 174.6 156.5 125.7 157.3 132.7 154.2 159.1 93.6 219.7 139.6 166.7 172.2 112.4 169.2 117.6 112.6 206.0 134.5 138.9 121.0 199.3 165.6 103.0 104.0 220.9 111.1 201.4 103.9 195.2 154.0 134.1 102.6 205.3 168.4 90.2 156.2 123.1 138.9 140.7 144.9 144.9 137.6 156.8 114.7 189.7 165.2 98.1 132.1 199.3 161.4 118.6 148.3 136.5 126.8 193.3 136.9 155.9 124.9 178.3 134.6 173.6 142.0 149.2 153.2 149.4 131.5 148.4 126.2 189.3 183.7 105.5 122.7 184.0 150.5 139.9 120.6 173.7 90.6 220.0 163.0 120.5 112.1 232.2 135.5 166.2 130.5 169.5 159.2 115.4 183.0 104.7 103.0 202.6 171.7 113.5 103.1 216.9 160.3 125.6 146.5 148.0 156.1 129.9 136.6 160.1 131.6 149.7 152.0 127.6 160.1 138.5 176.9 82.6 134.8 145.0 125.3 164.4 130.2 165.8 156.6 107.1 112.8 197.4 124.5 172.9 101.5 220.9 178.3 96.3 174.4 90.0 123.9 184.4 140.4 138.7 132.7 175.9 113.1 185.9 118.6 164.2 152.5 139.3 162.5 122.8 129.5 155.3 133.5 150.7 132.2 165.6 105.9 199.8 101.8 208.2 136.7 147.0 111.4 186.6 137.3 154.3 124.3 184.7 118.1 203.0 123.2 200.3 100.4 205.6 136.0 125.9 114.0 183.4 123.2 166.4 174.5 104.9 159.4 121.2 139.5 167.3 138.2 155.3 118.6 198.4 133.0 156.5 134.6 176.6 139.3 142.6 174.0 104.8 141.1 144.1 165.6 109.0 172.3 124.2 81.2 254.1 174.1 91.5 147.8 137.7 166.6 105.3 148.2 116.9 153.7 125.6 136.3 139.0 144.0 149.8 131.5 173.3 154.9 129.8 140.3 151.5 94.6 214.8 107.4 190.2 128.0 159.9 150.5 123.0 138.8 160.0 135.2 168.1 132.2 158.7 117.9 174.5 132.2 160.5 139.5 150.7 126.0 150.1 140.4 146.7 117.9 197.3 160.3 130.5 111.9 173.3 123.9 165.6 190.3 97.4 138.5 166.4 125.5 166.5 172.0 111.5 133.3 157.1 136.3 171.9 126.4 173.0 108.8 194.5 166.4 108.0 127.8 169.5 145.4 147.0 170.9 102.4 133.1 155.0 106.9 209.2 156.8 143.4 137.3 156.1 121.0 193.5 174.4 107.1 159.9 96.4 141.0 146.4 166.8 120.9 87.5 235.8 145.5 154.5 89.1 240.1 131.8 168.8 150.6 130.2 125.0 163.6 139.8 144.6 163.8 143.6 159.8 122.7 121.7 189.0 176.6 99.4 126.3 174.4 139.1 161.9 125.7 189.3 141.6 153.3 176.2 102.1 79.0 236.8 147.2 143.7 124.8 186.6 164.3 101.2 139.2 135.7 125.4 178.4 155.6 148.0 120.4 153.7 105.6 183.6 126.5 163.9 120.8 200.2 143.7 128.2 158.6 114.1 155.2 144.2 153.9 163.5 121.8 162.0 122.3 186.4 143.1 148.1 112.8 184.3 141.2 138.6 172.7 109.3 168.5 104.8 157.8 122.3 145.6 147.9 101.0 202.9 86.5 233.6 154.6 136.6 141.4 153.8 118.3 203.2 131.2 174.1 129.2 189.8 125.4 166.1 131.5 184.6 130.2 132.1 138.3 154.6 126.8 173.0 147.9 158.7 81.1 245.5 131.0 146.8 127.1 171.6 161.3 143.1 149.2 131.0 150.3 119.7 137.9 162.9 108.3 200.1 135.0 142.5 129.0 199.2 95.6 203.0 144.5 156.0 108.9 193.5 147.5 128.8 119.9 172.4 100.6 204.1 157.2 113.8 127.3 179.9 86.8 228.6 175.9 111.2 148.5 138.2 155.5 137.9 127.7 188.7 157.5 140.6 148.8 163.4 121.9 196.0 142.2 174.1 126.4 188.8 93.0 245.1 121.6 196.8 137.0 173.9 139.0 137.9 144.5 148.2 140.7 164.3 117.2 223.6 115.8 198.8 107.8 184.7 159.2 133.0 170.9 95.5 156.0 128.5 150.7 139.8 158.4 132.5 108.1 202.9 139.6 160.7 112.1 203.8 112.6 194.0 134.8 150.4 120.9 175.5 163.8 150.5 149.8 134.5 109.6 192.1 170.3 118.5 147.9 133.9 167.4 104.8 81.3 217.5 88.3 255.8 122.9 170.1 166.6 130.2 136.1 159.1 135.3 155.6 95.7 200.8 131.1 164.4 150.0 150.9 132.4 151.2 116.0 182.9 98.6 200.3 193.5 110.1 133.6 163.5 170.5 144.2 165.5 115.2 154.5 135.0 124.0 187.7 117.9 181.3 117.2 184.0 161.6 111.0 92.2 206.5 144.5 147.5 119.8 185.9 144.0 158.7 135.3 146.5 114.8 191.5 143.5 152.8 101.2 202.9 145.5 154.5 136.5 162.6 153.8 135.2 130.7 156.1 161.7 136.5 103.5 221.4 134.6 170.0 134.6 171.0 111.1 205.7 169.6 103.2 88.1 236.0 124.9 154.1 151.9 126.3 95.4 218.6 157.9 130.7 140.3 146.2 162.2 93.7 138.1 169.0 120.2 182.1 123.0 144.1 101.5 221.1 152.5 140.6 112.9 192.6 133.9 169.9 154.2 118.1 168.9 120.8 150.1 141.7 146.8 138.2 125.8 179.1 133.6 161.9 138.1 158.4 161.4 157.4 164.9 109.8 106.3 200.1 142.3 153.3 132.1 154.6 179.1 119.8 123.8 161.9 134.5 169.4 122.3 191.1 177.4 113.0 166.4 112.0 146.7 157.4 100.6 202.1 134.5 179.6 113.8 177.0 104.4 208.1 153.1 113.7 163.0 116.4 144.8 153.1 153.6 138.4 132.9 187.7 108.7 204.0 144.0 172.7 155.7 144.8 160.7 137.8 113.2 185.7 175.5 96.7 138.0 161.0 153.0 137.5 100.8 218.9 103.1 173.7 157.6 122.5 121.2 168.2 139.0 177.7 160.0 127.9 147.9 157.2 87.5 216.9 132.7 168.4 83.3 246.0 142.4 150.2 136.0 158.3 90.1 227.5 120.5 162.4 139.6 143.1 165.2 115.7 135.0 154.1 100.4 215.7 146.7 162.5 154.3 134.6 129.7 198.2 151.1 127.5 161.5 132.1 102.8 243.7 143.2 148.7 143.8 116.6 112.8 201.6 125.9 175.9 172.7 121.9 174.1 86.3 162.2 127.3 134.4 158.2 177.3 89.9 111.2 196.9 150.3 131.1 131.5 195.8 126.8 190.1 140.7 151.1 132.6 173.1 162.9 129.1 171.0 109.5 146.4 137.8 132.1 149.1 139.2 131.8 168.4 95.6 105.0 192.3 174.7 114.2 169.5 122.2 159.2 141.5 139.8 159.3 81.1 235.9 158.2 102.8 104.7 217.4 142.9 141.6 128.4 176.5 146.7 144.9 114.3 211.8 146.2 115.0 141.1 149.0 164.4 118.5 137.4 156.3 163.1 137.8 91.1 213.1 146.4 136.7 158.4 115.6 161.6 102.2 137.1 147.3 131.7 170.6 142.5 153.1 150.8 164.2 156.5 100.1 147.3 159.8 133.1 138.6 93.8 230.2 103.6 201.5 172.3 106.2 127.6 187.7 167.0 102.3 177.5 89.2 143.2 146.6 145.6 134.1 120.8 157.8 150.2 152.4 114.8 194.5 143.8 164.2 141.1 160.7 145.0 149.5 147.3 146.1 133.1 161.7 152.4 115.1 153.6 122.8 147.3 149.4 98.7 201.1 126.1 179.4 122.9 182.3 126.7 173.4 130.0 184.4 146.0 151.3 164.6 80.5 147.1 182.6 126.3 174.0 123.1 185.2 124.4 182.3 146.2 129.6 167.9 123.1 137.4 176.8 135.4 164.5 94.7 220.9 114.9 181.7 153.7 117.5 153.0 126.8 125.3 164.3 164.9 126.5 161.7 133.9 153.7 129.6 146.1 139.1 93.0 211.7 135.2 154.7 176.1 109.0 126.7 181.8 115.1 174.7 137.4 147.2 109.2 221.4 143.9 142.6 109.1 193.1 166.9 125.7 172.5 122.9 55.5 269.9 55.5 275.4 62.3 266.1 62.8 272.9 58.8 271.6 69.1 264.8 76.9 263.5 78.4 272.4 75.6 278.0 70.3 283.5 73.1 258.8 72.6 256.3 71.6 242.7 71.6 231.6 73.9 236.7 76.9 224.8 76.1 241.4 88.7 255.4 93.2 250.7 94.0 249.5 96.8 244.8 221.0 25.7 210.3 34.6 207.7 40.1 206.2 46.9 195.5 44.4 174.6 58.8 191.0 51.2 192.5 52.5 198.3 50.8 201.9 52.5 204.2 53.7 202.4 58.0 203.1 55.4 201.1 54.6 190.2 58.8 195.5 61.0 206.5 65.2 205.4 71.2 195.5 65.7 183.9 66.5 179.9 70.8 178.6 75.0 187.2 67.4 188.7 69.1 193.5 68.6 200.6 72.5 201.3 75.9 197.0 74.2 202.9 56.3 203.6 59.7 200.3 53.3" fill="none" marker-start="url(#m)" marker-mid="url(#m)" marker-end="url(#m)"/><path d="M55.5 277.2L221.9 35.1" stroke="#4466dd" stroke-width="1.1"/><path d="M46.20 328.6v5M36.0 315.00h-5M96.50 328.6v5M36.0 229.90h-5M148.45 328.6v5M36.0 144.80h-5M199.05 328.6v5M36.0 59.70h-5" stroke="#666" stroke-width="1.2"/>
<rect x="302.0" y="2.0" width="197.0" height="326.6" fill="#e5e5e5"/><path d="M337.35 2.0V328.6M387.90 2.0V328.6M439.80 2.0V328.6M490.60 2.0V328.6" stroke="#f8f8f8" stroke-width="0.95"/><path d="M302.0 272.45H499.0M302.0 187.35H499.0M302.0 102.25H499.0M302.0 17.15H499.0" stroke="#f8f8f8" stroke-width="1.05"/><path d="M312.20 2.0V328.6M362.50 2.0V328.6M414.45 2.0V328.6M465.05 2.0V328.6" stroke="#fff" stroke-width="1.3"/><path d="M302.0 315.00H499.0M302.0 229.90H499.0M302.0 144.80H499.0M302.0 59.70H499.0" stroke="#fff" stroke-width="1.5"/><path d="M395.0 170.9 350.0 196.8 434.8 125.8 426.2 126.3 394.3 173.1 400.2 153.8 388.5 169.8 405.4 163.6 354.9 207.2 386.1 184.1 412.4 127.3 418.9 129.9 426.4 125.0 368.7 190.4 371.8 182.5 411.0 128.2 425.0 111.7 414.7 123.8 428.4 114.4 388.1 170.6 468.2 67.0 364.8 203.9 430.7 124.8 439.0 106.4 434.4 108.2 373.8 202.5 447.4 90.7 431.4 116.5 414.5 140.7 389.0 170.7 403.0 151.4 364.3 176.0 423.3 147.1 371.2 179.6 436.1 130.0 443.3 96.6 389.7 175.5 405.9 170.7 351.4 196.6 416.4 170.9 401.1 166.8 436.0 126.4 389.3 173.2 385.8 194.7 434.8 109.7 352.0 195.9 391.5 145.1 387.4 152.9 409.0 155.6 390.6 172.5 387.8 166.6 401.4 155.4 436.5 118.4 465.3 103.8 396.7 170.0 382.5 171.3 384.6 177.1 403.9 193.9 383.8 203.3 408.9 178.2 406.8 130.2 425.0 108.5 379.4 208.4 394.8 163.3 355.1 202.5 428.8 118.6 388.1 168.3 397.0 172.7 406.6 164.6 369.9 218.3 412.7 161.3 416.4 129.1 423.6 132.9 384.4 183.0 433.7 130.7 418.1 135.1 395.9 146.8 400.1 175.5 430.8 101.5 405.7 140.0 388.2 214.2 357.4 206.4 359.5 202.4 430.2 102.9 413.2 144.3 366.4 238.9 386.3 202.0 420.0 155.3 410.8 138.1 434.6 129.1 381.2 201.9 363.8 196.6 443.7 94.9 393.3 190.3 359.5 207.1 428.3 109.2 390.5 158.3 453.7 75.0 363.3 179.6 363.1 188.8 393.6 173.6 387.1 137.9 415.1 128.4 438.3 114.8 409.5 137.2 430.5 130.2 414.7 140.7 435.8 90.4 346.1 214.2 371.7 210.5 362.4 198.7 421.1 136.8 365.1 213.5 393.4 180.3 474.5 76.1 430.4 118.1 423.3 112.0 410.4 149.0 376.9 161.4 420.4 144.4 411.7 147.9 387.2 147.2 340.2 227.2 425.8 121.7 423.1 124.5 396.4 169.6 377.8 145.3 428.0 122.6 389.1 155.1 373.3 180.3 376.7 168.0 383.0 151.9 375.8 237.3 384.4 199.1 400.6 188.9 443.7 114.2 401.6 158.1 391.0 160.9 420.9 143.5 425.7 118.5 344.4 212.9 396.2 159.8 382.0 197.2 419.9 141.5 469.3 74.3 435.0 105.1 414.4 142.2 362.3 197.1 431.4 141.1 422.2 168.4 387.3 170.2 439.5 107.8 406.7 164.0 442.3 111.2 405.5 142.4 418.4 127.0 377.9 163.1 366.3 185.7 459.8 87.3 409.0 138.8 383.9 142.4 381.3 152.0 393.3 178.5 428.6 117.9 365.1 174.4 425.9 123.9 413.4 132.3 411.3 124.8 408.7 142.7 402.7 146.9 369.1 200.8 406.4 164.2 418.8 141.6 437.6 102.9 414.5 142.7 378.1 181.4 353.3 178.3 431.0 129.7 415.2 125.5 409.2 153.9 407.0 139.8 414.7 120.5 376.3 164.1 360.4 218.2 399.4 163.0 418.4 132.9 406.3 150.7 437.4 146.2 420.4 126.7 403.2 171.4 424.5 127.6 387.5 192.9 467.7 71.1 415.1 140.3 433.5 82.8 359.0 195.3 448.5 102.3 384.8 162.1 383.9 202.0 437.6 99.1 378.0 164.8 413.8 147.2 417.1 140.1 375.7 215.8 408.7 141.0 346.8 207.5 422.5 147.5 410.6 134.5 387.4 197.6 439.6 89.5 413.6 172.3 390.5 171.7 374.2 171.8 408.2 165.0 371.2 203.3 393.9 163.0 402.2 156.1 438.5 119.5 439.2 118.4 382.5 184.3 391.9 171.7 357.6 216.9 362.3 187.7 393.6 161.6 378.2 175.6 402.8 145.3 367.1 230.2 384.7 193.5 377.4 152.3 424.8 155.9 394.7 174.6 414.7 126.0 417.9 138.8 422.7 134.4 397.7 120.5 443.5 117.7 373.3 161.2 413.3 163.6 388.3 197.7 411.7 148.3 422.0 127.4 427.6 92.3 399.3 151.9 389.8 165.3 424.0 118.3 377.9 183.6 388.2 181.9 402.3 166.3 412.1 149.1 386.7 197.7 453.4 100.1 424.7 151.1 396.8 139.1 396.8 187.9 363.1 191.7 389.0 174.8 380.6 148.5 430.6 96.3 390.8 173.7 414.9 129.9 374.0 184.8 426.2 146.6 394.2 140.0 411.7 131.4 368.7 184.9 415.5 127.1 437.4 107.4 416.1 148.0 372.3 185.2 392.7 184.3 388.2 134.9 359.5 227.0 383.0 159.8 406.5 158.7 452.1 91.8 373.9 174.3 393.3 180.2 353.9 211.5 395.3 205.6 364.3 197.9 362.3 180.7 400.7 160.2 424.9 138.1 445.4 117.0 407.3 186.9 443.8 121.3 409.7 140.5 398.9 130.6 402.6 142.8 397.7 160.3 419.6 134.6 394.1 156.6 436.9 90.0 396.7 163.7 371.3 191.4 393.8 158.1 382.5 168.5 461.3 79.1 370.7 215.8 359.9 250.9 469.2 72.9 400.1 144.3 391.0 120.3 445.2 97.2 365.9 218.5 418.7 140.6 352.0 257.4 413.5 144.2 418.3 119.6 451.1 93.0 403.9 156.4 428.3 122.0 396.8 155.9 447.4 94.0 392.9 163.1 396.9 156.2 411.7 130.3 382.2 187.4 392.1 166.2 378.5 176.3 392.0 172.2 428.9 136.2 411.2 138.7 415.4 133.8 390.6 180.3 408.9 168.8 411.1 176.1 407.3 167.9 388.8 166.9 373.7 227.3 387.3 177.0 381.7 177.9 435.1 121.7 407.8 159.3 363.5 185.7 426.4 119.7 393.3 182.6 445.4 89.9 345.7 194.4 398.2 173.3 411.7 159.0 464.0 85.9 419.1 129.6 426.4 126.8 421.8 136.0 352.8 245.0 403.0 142.7 411.1 144.7 439.0 108.7 355.6 212.0 390.5 163.8 417.7 158.4 398.6 167.1 442.9 104.4 414.6 135.5 405.1 144.1 389.7 154.2 377.8 184.9 427.4 113.4 435.7 100.9 357.8 199.8 437.3 113.9 396.7 166.0 409.1 146.1 392.4 153.9 393.3 177.1 433.2 127.3 384.8 167.7 391.6 163.2 428.8 109.2 402.5 135.5 439.6 100.0 411.9 177.0 397.7 143.9 449.7 88.0 392.1 154.1 398.6 150.2 401.0 155.4 414.5 129.6 438.3 125.4 352.5 233.6 411.7 143.0 398.2 154.9 432.9 100.7 419.1 134.0 384.9 172.0 374.1 172.2 423.9 115.6 429.4 120.0 357.0 213.6 354.9 196.4 380.6 174.7 399.0 163.8 373.3 193.2 422.7 148.1 415.9 135.5 370.1 178.9 367.5 232.9 416.6 142.0 407.5 166.2 393.7 170.8 432.6 123.7 423.5 144.3 409.6 143.8 434.5 140.2 389.2 184.1 408.1 168.2 412.8 153.0 411.2 136.9 357.4 215.8 412.6 114.7 371.6 197.4 450.2 103.4 398.1 142.1 417.5 131.2 387.3 159.4 440.6 102.0 371.6 167.9 402.2 133.7 414.4 122.4 436.3 123.6 400.5 147.3 365.4 184.5 380.6 179.6 417.7 109.8 360.9 202.2 437.5 113.8 440.2 101.7 412.7 159.0 415.3 170.7 420.6 134.9 423.9 158.4 374.4 170.9 382.6 186.6 362.6 176.5 387.1 169.4 414.7 149.0 464.9 83.5 366.3 188.0 410.2 131.1 389.9 171.4 383.2 197.3 401.2 152.3 421.5 119.1 403.7 141.7 412.4 159.9 413.8 148.3 406.7 139.0 415.5 138.2 376.9 203.1 417.4 123.8 402.8 200.8 374.3 185.7 413.7 147.6 440.2 87.3 406.3 156.1 385.7 202.7 422.0 95.9 409.5 140.2 422.5 129.4 389.1 179.4 397.1 174.0 370.5 220.7 418.5 126.6 434.7 130.8 395.3 150.4 415.6 132.2 425.4 114.1 415.3 143.3 419.0 132.6 348.8 229.5 368.3 199.8 417.0 149.3 390.7 203.8 424.1 125.2 444.6 117.7 386.4 136.7 363.6 201.4 373.5 215.6 393.4 168.4 383.5 167.2 401.5 145.1 444.9 111.4 424.8 121.4 402.6 151.1 437.4 116.8 414.2 143.4 435.2 111.1 376.1 185.7 379.9 172.7 429.6 108.8 426.4 107.9 406.7 164.7 470.9 74.5 370.7 187.0 436.1 109.4 396.3 170.9 349.8 220.1 431.5 119.6 385.9 170.8 420.2 124.4 389.7 176.5 408.8 172.2 407.0 153.7 390.8 171.3 394.1 166.9 382.4 163.2 419.8 154.1 382.5 169.1 426.6 102.4 368.3 214.2 426.2 127.7 414.1 140.6 380.7 169.3 361.6 194.0 360.7 213.8 368.6 150.7 424.5 130.4 444.3 98.8 421.3 124.0 413.3 136.9 447.0 98.7 402.5 161.8 410.4 149.6 406.9 151.7 381.5 157.8 407.9 154.1 371.6 197.7 394.3 176.0 414.0 128.3 400.9 159.8 378.9 191.6 382.6 187.2 370.2 178.7 415.6 131.6 371.1 200.6 389.2 164.2 407.8 146.3 414.8 118.9 409.3 161.4 395.7 191.3 438.8 118.5 453.1 102.3 376.7 187.0 373.3 184.8 441.0 104.7 419.9 131.0 343.9 238.5 345.6 195.6 412.0 149.0 437.3 124.5 364.9 199.8 420.0 126.8 387.7 199.5 379.7 170.2 426.4 118.4 401.9 153.1 406.8 150.3 415.0 115.6 426.0 100.5 393.0 183.9 389.5 176.0 368.6 205.4 425.3 128.8 405.5 165.3 393.1 184.5 370.1 204.4 398.2 165.2 376.3 171.9 423.1 118.3 416.6 128.8 392.0 159.4 355.9 184.7 357.8 221.8 411.2 148.3 395.3 152.4 356.3 225.0 396.8 150.7 423.4 139.8 404.9 156.5 348.2 237.7 354.3 200.9 441.8 115.0 367.7 194.5 367.6 184.6 400.3 148.0 391.9 166.3 415.6 154.1 398.8 150.1 398.1 172.5 408.6 130.1 422.2 134.4 422.6 116.7 410.8 145.8 369.1 194.1 428.0 137.1 381.2 178.0 399.4 140.9 411.7 141.5 427.8 119.0 427.4 135.9 439.4 91.4 407.1 165.7 381.8 155.0 409.0 152.4 435.3 143.7 397.3 157.4 400.8 158.6 375.6 201.5 390.1 189.7 428.3 119.5 420.6 133.0 400.4 159.7 363.4 179.9 408.7 147.0 369.1 205.2 418.6 168.1 379.7 188.1 362.9 193.3 360.3 197.2 403.5 145.0 385.5 178.5 453.3 86.5 394.1 194.8 389.3 175.3 402.4 119.9 343.5 215.2 375.7 183.8 436.1 105.1 427.4 101.3 407.8 148.1 405.1 144.1 385.9 159.6 388.1 170.6 372.0 178.1 432.4 126.5 389.6 119.9 433.9 119.0 416.9 133.5 423.0 106.0 386.8 135.8 395.9 146.4 412.5 135.0 427.1 110.6 431.0 148.7 432.1 117.2 403.4 132.4 418.4 136.9 379.5 154.2 412.6 121.7 384.9 175.0 356.3 200.8 381.5 166.4 428.0 125.0 402.3 178.5 391.8 163.6 362.4 156.6 452.8 101.6 399.6 149.0 372.7 195.7 352.4 207.1 378.3 146.4 427.7 94.2 410.1 165.2 361.5 204.2 363.3 199.6 412.6 141.7 416.8 140.8 376.6 201.3 372.3 212.0 365.3 201.9 453.6 86.1 420.0 136.3 415.4 140.9 368.2 165.5 376.2 189.2 450.9 87.2 427.6 114.6 443.3 111.4 354.2 234.3 358.0 218.0 344.5 222.2 435.8 98.7 416.6 117.1 353.4 236.0 410.7 146.9 458.5 101.2 368.8 213.9 398.3 134.0 388.5 162.4 399.0 148.3 385.0 189.7 428.9 119.8 397.8 192.1 373.8 185.3 422.7 124.7 365.5 169.5 382.3 173.4 368.6 181.9 400.9 119.4 425.3 108.8 414.5 124.3 397.3 158.0 408.7 149.1 401.3 169.8 413.5 146.7 353.1 206.0 401.0 168.0 391.2 162.4 371.6 220.6 400.2 157.1 400.4 134.3 417.4 141.2 438.1 119.5 392.5 161.5 414.3 151.2 437.0 114.5 352.0 207.2 439.5 113.4 407.1 156.5 446.6 123.7 404.4 173.6 365.7 212.7 433.0 112.4 418.5 128.1 413.5 136.5 397.6 166.0 376.0 183.4 403.4 151.2 400.1 132.8 418.3 135.6 407.4 159.0 441.4 111.9 399.5 148.7 398.3 142.3 392.0 177.8 377.1 172.9 403.0 161.0 412.3 116.0 413.3 141.7 414.2 145.5 413.8 169.0 386.9 148.5 406.1 166.9 401.5 152.2 378.9 188.0 401.2 187.6 416.9 136.3 414.5 145.1 406.5 152.3 355.5 221.1 456.2 92.4 462.3 67.7 383.5 172.3 425.2 115.2 403.3 159.9 385.9 178.2 400.6 168.3 436.0 109.0 440.5 111.2 389.0 176.6 377.7 188.7 425.6 136.1 441.6 95.3 399.9 172.2 413.4 121.5 433.7 113.2 362.1 181.3 434.4 108.9 359.1 196.1 406.7 146.0 415.6 128.2 418.4 118.4 382.6 175.7 453.9 87.8 380.7 184.3 436.2 124.3 424.0 111.0 380.8 164.1 436.5 94.0 406.4 172.3 457.6 81.1 421.6 122.2 375.8 163.0 399.3 150.4 420.2 136.3 360.5 199.5 409.1 125.1 416.4 139.3 400.9 151.6 378.3 180.1 394.2 156.6 404.1 142.0 401.5 166.3 415.6 107.5 376.4 198.3 368.9 207.5 353.4 211.5 433.0 101.7 422.1 112.3 396.1 113.6 384.9 168.9 364.9 207.6 421.7 143.7 391.3 172.2 454.2 85.5 397.2 159.7 423.9 157.2 389.1 170.3 418.5 128.8 411.7 154.9 380.4 199.4 400.0 172.6 436.3 99.5 386.2 145.9 424.2 113.8 363.8 214.8 408.0 154.0 394.0 135.7 391.3 133.8 419.7 116.3 410.2 145.2 433.6 135.5 392.7 154.5 375.2 162.0 393.8 163.7 419.3 144.5 398.8 154.2 416.2 133.9 359.0 212.4 391.9 170.3 354.0 263.5 410.0 146.8 421.1 156.2 371.1 203.8 438.1 120.4 442.9 107.2 387.1 156.9 427.7 135.3 411.8 140.2 424.3 145.4 409.7 146.3 401.9 158.4 359.9 213.2 392.3 176.9 443.8 114.3 418.2 160.1 368.7 218.5 399.9 183.8 409.7 139.0 401.7 169.2 409.9 131.8 412.0 133.5 391.4 170.5 419.5 117.3 412.4 147.0 432.2 154.4 420.4 140.8 373.9 188.7 383.9 178.2 410.1 163.5 397.0 150.1 363.3 212.6 379.7 164.0 362.7 198.8 355.4 186.9 372.2 166.5 363.9 206.4 407.3 128.6 391.7 170.1 382.4 172.7 442.0 91.0 419.9 129.4 419.8 109.9 412.7 127.4 396.7 150.5 397.1 166.6 400.1 179.8 397.6 171.1 442.9 113.6 350.9 193.8 424.7 125.4 398.9 153.2 414.0 143.5 416.4 158.3 395.7 170.8 362.7 194.0 379.5 161.8 366.8 167.7 379.7 164.0 371.4 168.7 400.7 161.2 382.3 161.5 401.5 142.7 403.8 169.4 418.4 133.1 378.0 183.0 414.9 118.0 379.3 179.4 407.3 168.1 395.0 161.5 440.3 79.9 436.9 136.5 386.4 173.7 347.2 214.2 424.5 126.7 376.3 177.7 431.4 138.1 408.4 153.0 386.8 177.6 394.9 158.7 425.2 137.3 354.6 237.0 361.7 188.3 419.4 105.1 411.6 132.4 404.1 146.2 404.7 137.6 388.4 173.2 412.4 135.4 429.6 141.8 398.4 190.6 431.8 123.8 372.4 188.6 407.1 142.7 386.3 163.6 404.8 168.7 349.1 209.3 429.4 106.4 433.8 119.5 424.3 136.1 371.9 203.6 386.9 165.9 389.5 187.2 398.9 140.8 359.9 199.7 399.9 163.4 385.7 160.8 445.3 90.6 420.4 136.4 421.2 146.6 403.0 159.3 395.8 174.0 423.7 120.7 371.4 177.5 432.7 98.0 368.2 193.5 453.1 81.5 344.7 253.6 409.5 177.4 372.7 212.0 420.4 171.0 410.7 141.3 404.1 185.8 417.4 109.6 433.1 137.5 402.3 157.0 363.4 204.6 427.6 107.5 379.7 192.8 349.3 215.5 425.2 131.9 370.6 188.5 409.5 149.3 391.8 191.1 366.4 208.5 412.9 151.3 380.0 171.6 433.8 135.9 417.5 109.8 348.6 236.8 422.9 126.6 411.7 139.2 395.6 157.4 434.8 139.5 401.2 148.3 358.0 234.7 402.4 159.1 431.1 124.6 426.2 140.4 378.7 166.7 407.7 194.1 424.8 114.0 430.6 127.0 412.8 162.8 340.6 225.3 375.9 182.4 377.3 202.8 463.7 80.8 409.0 122.1 397.7 161.4 433.6 119.4 444.6 72.4 452.8 91.5 434.8 111.7 430.2 118.4 463.2 85.8 405.7 167.5 389.0 161.2 422.5 121.6 397.2 164.5 417.2 152.8 416.9 142.5 375.3 180.4 425.6 106.2 419.7 148.5 414.4 145.5 440.3 103.1 426.8 119.3 394.1 162.2 401.0 160.3 405.5 136.9 416.1 126.0 412.8 159.8 429.5 85.3 389.8 151.9 398.8 172.5 370.0 198.7 408.8 170.2 402.4 175.6 463.9 90.6 402.0 160.9 418.3 113.2 395.4 160.1 434.2 120.4 352.3 214.2 426.4 131.6 396.2 157.7 382.8 164.9 412.5 100.7 423.2 129.3 434.6 128.1 397.8 147.9 407.0 163.5 366.7 214.2 377.5 182.3 411.6 115.9 450.0 108.4 442.1 88.3 364.8 204.2 402.1 159.0 405.9 157.6 369.4 185.4 406.3 161.4 467.7 81.5 363.0 184.1 439.4 107.3 434.5 111.0 399.3 184.8 410.8 152.9 420.3 139.4 364.5 206.2 433.5 86.3 386.0 187.0 379.4 197.7 390.4 174.0 361.5 211.7 366.3 236.7 373.0 202.0 385.7 161.4 433.4 110.4 437.1 106.0 361.7 203.7 423.5 130.3 397.3 157.3 406.0 128.2 402.7 159.4 387.3 154.2 398.7 136.2 422.1 144.0 438.7 106.3 440.9 110.8 386.1 178.0 429.1 136.1 399.0 156.1 419.9 144.9 359.2 227.7 415.8 119.0 417.5 163.9 407.6 146.7 375.7 166.6 411.2 129.2 381.9 170.7 417.3 144.8 412.2 118.9 386.3 163.6 382.5 175.0 372.7 178.2 362.6 204.8 404.0 139.0 432.6 132.9 397.6 158.1 382.9 179.1 415.8 153.7 390.3 160.2 366.9 206.2 405.5 153.9 401.4 117.4 399.3 153.1 399.0 138.7 400.4 165.1 401.1 142.2 426.5 138.8 394.7 172.7 409.2 150.1 391.2 150.4 449.6 102.6 423.4 126.7 365.7 189.3 388.3 198.4 389.3 139.0 431.5 106.0 390.0 181.6 394.6 171.9 361.4 183.6 424.8 105.5 439.8 103.7 385.4 189.3 390.9 149.2 425.0 107.5 393.8 186.2 377.3 183.7 379.2 157.4 401.4 171.3 389.0 172.2 372.4 165.6 401.7 171.6 419.2 131.4 398.6 188.9 430.3 101.9 351.8 190.0 379.3 178.6 453.2 90.7 450.7 93.2 413.4 134.8 427.2 129.9 411.5 138.6 409.8 134.7 366.4 193.4 416.1 129.3 426.8 124.3 379.7 169.0 442.9 114.1 422.0 134.0 373.5 187.8 375.7 153.2 419.3 109.8 405.0 160.2 455.8 88.3 395.8 165.6 419.1 145.9 422.9 137.5 407.0 136.1 349.8 244.2 389.1 151.9 411.3 151.8 444.5 99.5 404.2 151.5 367.9 203.5 390.1 160.2 391.9 173.3 423.7 126.7 379.8 149.9 388.0 178.7 413.5 122.3 451.4 108.1 392.0 117.6 437.5 139.7 397.0 162.6 404.7 194.1 450.0 97.4 438.5 112.5 429.1 141.0 390.0 167.2 366.4 180.8 394.2 158.6 390.3 175.6 419.2 118.9 425.9 105.0 372.9 203.6 396.9 154.2 421.6 147.1 395.3 173.1 379.0 172.9 438.4 102.5 350.0 202.4 396.5 167.2 420.3 119.3 397.2 130.8 407.2 140.2 412.2 122.0 391.1 166.5 391.9 152.6 423.0 104.1 424.4 123.9 418.5 145.2 421.0 133.7 456.3 82.3 387.6 177.9 428.5 96.9 385.4 201.7 423.0 126.7 435.2 110.4 410.1 123.9 381.4 153.9 394.3 165.8 346.1 217.1 383.8 187.6 408.9 157.5 429.7 117.8 428.7 123.0 416.6 131.0 402.8 160.3 398.8 178.9 426.0 114.1 410.5 120.5 403.9 150.7 389.4 154.9 424.4 137.1 415.2 123.2 354.2 227.0 434.9 106.6 434.7 112.1 406.3 131.0 401.6 143.5 419.6 120.7 433.4 113.6 397.3 135.6 417.9 108.1 377.9 191.7 423.3 124.9 416.3 129.3 400.5 149.8 410.3 155.1 396.1 165.1 401.1 163.9 413.1 153.1 400.2 160.7 372.1 183.8 394.2 175.8 372.0 211.4 414.0 149.0 372.5 197.1 444.6 100.7 391.9 146.4 394.5 145.6 420.8 170.2 414.8 115.0 418.8 149.2 396.5 154.8 427.7 135.3 405.7 116.5 395.5 177.3 382.8 160.2 402.1 153.7 409.3 134.8 370.4 189.8 390.2 189.0 379.9 209.0 457.5 86.4 419.1 135.3 399.3 165.4 433.3 91.3 378.2 183.2 395.4 170.7 384.0 143.2 409.8 142.3 419.7 137.3 384.7 184.4 362.8 211.7 377.8 198.5 375.1 208.4 442.0 116.6 411.4 170.0 431.1 136.5 406.6 144.6 459.9 104.9 369.6 192.7 441.5 93.4 426.0 133.4 381.0 180.4 409.5 127.6 403.6 137.8 392.2 182.2 427.0 125.6 454.7 93.0 376.0 167.2 370.2 160.7 393.9 178.5 372.3 178.6 358.5 193.1 455.8 76.7 415.1 167.4 415.7 154.5 388.7 185.7 419.6 146.3 448.4 114.7 453.9 83.4 431.0 116.1 405.0 154.7 368.0 238.8 452.8 77.8 440.6 130.1 366.0 188.8 389.6 176.5 357.6 197.4 401.9 166.5 356.3 207.4 393.7 176.5 413.8 130.8 385.8 163.8 407.8 147.6 408.0 124.0 424.3 136.6 413.7 180.7 420.8 98.7 383.9 137.1 397.3 150.1 422.7 140.8 401.5 159.0 357.8 249.5 426.6 143.2 393.0 181.8 391.7 168.7 433.6 124.3 427.5 114.7 394.7 156.3 455.2 88.1 447.9 109.8 448.2 98.9 420.0 120.1 436.9 113.7 368.0 176.3 435.5 118.1 395.3 152.8 410.9 161.0 423.0 146.0 393.8 171.0 402.6 128.4 395.9 179.1 369.7 196.9 414.0 134.6 415.1 126.6 410.2 136.9 391.8 166.0 453.5 92.5 385.1 160.8 387.6 143.8 383.6 153.9 409.0 163.2 374.8 208.8 389.6 172.5 421.7 116.1 400.0 135.8 408.1 149.8 440.3 121.1 435.5 131.9 412.0 135.5 401.8 159.4 353.9 172.9 443.3 111.6 429.5 152.3 435.4 82.6 407.7 118.4 396.7 180.6 362.8 222.0 387.7 194.3 395.4 149.3 437.9 115.4 418.2 155.2 432.8 123.5 421.5 102.4 426.8 142.1 352.7 231.7 447.7 82.9 403.9 155.7 469.4 74.0 426.7 140.1 374.2 195.9 421.4 166.5 382.6 148.7 399.8 155.1 415.4 134.4 369.8 205.5 448.4 110.3 421.5 135.9 425.7 142.7 377.4 191.9 378.6 198.9 400.4 150.2 414.4 151.6 384.4 164.1 373.6 169.6 424.5 135.1 389.2 176.5 435.1 114.0 420.8 149.3 353.9 206.2 425.5 114.3 414.9 182.3 436.7 105.3 461.2 84.8 391.8 177.6 396.2 168.5 426.4 134.8 409.3 138.3 421.6 144.3 422.7 109.5 408.6 144.9 393.1 148.8 407.3 169.3 402.2 159.2 392.0 146.0 408.4 151.9 392.1 178.6 357.1 180.3 421.0 152.6 433.0 100.2 405.6 158.6 395.9 136.7 439.1 105.2 395.5 168.2 383.5 146.5 374.7 197.2 368.1 149.9 388.2 160.7 392.1 164.5 397.0 160.3 406.8 142.9 398.6 161.5 426.9 116.9 417.5 135.1 428.7 133.1 398.5 145.3 342.4 228.8 401.1 180.1 396.3 160.5 411.3 167.7 393.6 172.5 406.5 162.9 458.5 87.9 395.0 157.7 389.4 156.4 398.8 167.9 425.1 125.5 402.5 160.9 419.1 129.6 417.6 122.2 417.4 115.4 370.9 207.8 417.2 124.6 374.9 191.2 414.9 139.6 366.4 234.8 401.8 130.7 418.9 149.3 422.5 138.8 378.3 186.3 428.4 96.0 428.2 140.0 375.9 212.5 386.5 198.3 386.2 179.7 377.7 197.9 378.1 172.4 422.3 127.6 394.9 172.4 380.9 175.1 407.6 147.5 439.1 101.4 359.8 202.0 439.3 102.9 435.5 109.9 356.1 197.5 433.3 137.7 428.6 116.6 378.8 178.7 426.1 129.7 442.3 98.3 399.5 167.5 417.4 166.5 362.7 220.1 403.9 147.4 430.4 110.7 415.2 137.9 444.0 115.1 407.8 144.6 424.8 129.3 360.4 203.6 425.8 135.7 428.9 118.0 367.1 201.5 400.5 148.5 406.5 153.4 405.6 186.2 432.4 121.5 355.2 200.2 408.9 146.6 403.3 123.8 416.4 149.9 381.5 159.0 395.0 158.0 399.6 123.1 407.0 132.9 403.6 175.6 413.2 159.4 447.9 90.8 444.2 90.6 420.8 118.4 437.3 123.0 392.9 157.8 402.7 160.4 389.0 130.9 383.0 159.3 365.0 208.3 423.6 101.2 385.1 176.4 406.2 149.1 359.8 200.1 440.4 131.3 448.9 83.0 393.9 153.7 419.8 135.7 400.5 119.4 385.2 191.2 429.7 101.1 398.1 163.2 418.9 113.9 424.4 150.9 379.7 198.5 446.9 86.3 385.8 192.7 394.4 162.3 387.0 179.0 448.9 91.9 388.6 148.0 398.2 163.3 425.9 104.8 397.4 146.4 370.0 184.0 363.1 168.6 439.0 112.1 365.0 166.2 392.1 169.0 379.2 182.7 408.9 123.9 417.3 139.5 372.5 223.9 412.8 134.9 365.7 212.4 404.6 156.0 352.1 193.1 426.8 148.5 371.7 175.9 420.6 106.2 391.4 183.2 382.5 205.4 371.8 186.6 448.9 87.6 420.8 142.1 413.9 131.5 418.5 159.4 450.0 91.4 365.9 225.5 418.1 152.2 414.8 142.1 377.4 184.2 424.4 118.8 416.0 129.1 404.8 152.9 375.2 151.2 462.0 85.0 426.7 161.6 430.2 103.0 411.0 131.4 370.5 189.2 388.5 165.3 402.4 165.9 395.7 147.9 393.4 140.8 377.0 147.5 434.8 140.7 422.8 133.2 436.2 132.0 410.2 141.6 434.4 111.3 402.4 143.9 440.3 102.3 395.5 153.5 436.2 109.3 385.6 183.0 376.4 193.9 423.9 115.1 418.6 178.6 362.1 217.8 370.7 237.9 416.9 131.6 397.5 152.2 413.3 127.5 425.3 126.7 428.0 125.6 364.9 182.8 422.6 120.1 362.7 205.4 378.5 193.7 392.3 140.1 421.4 135.4 455.0 86.9 385.0 216.0 397.8 156.2 431.5 100.3 424.6 123.1 400.9 196.1 395.2 184.8 407.5 139.7 443.4 106.8 410.5 150.2 440.1 111.8 431.5 133.7 428.4 134.6 427.4 108.5 409.9 157.5 426.1 126.1 443.4 83.8 382.9 167.9 432.8 103.5 443.5 109.1 363.3 184.3 428.3 108.5 400.3 169.2 388.8 160.8 414.4 174.1 392.9 171.4 414.6 135.2 422.1 122.9 435.1 129.6 366.1 194.7 389.3 161.0 392.6 151.9 423.1 124.6 411.0 134.2 386.9 163.4 422.1 125.5 410.1 134.5 366.8 214.0 371.5 188.8 414.2 120.5 405.1 156.6 380.1 197.7 421.6 149.6 346.3 212.3 375.5 197.8 422.4 128.2 407.9 181.2 373.9 206.8 358.3 181.2 413.3 119.8 369.0 166.4 380.7 193.8 459.1 89.8 403.6 150.3 388.9 151.1 432.4 124.5 347.5 221.1 378.9 179.6 435.3 122.6 383.2 182.0 351.3 211.5 461.1 97.0 422.9 116.8 418.1 135.5 385.0 188.3 369.2 172.4 405.0 156.2 430.2 101.5 400.2 134.6 403.2 143.3 401.5 156.1 347.0 224.4 375.8 172.9 452.3 93.5 435.6 134.8 439.3 114.2 410.2 133.9 414.3 142.7 420.8 125.2 406.3 163.6 398.6 187.5 395.9 145.3 402.9 131.5 436.2 103.4 409.5 167.3 383.6 190.4 433.6 116.3 427.1 141.4 412.1 149.9 429.0 114.9 393.8 145.9 355.4 164.9 353.0 214.8 423.7 142.2 392.8 168.2 456.7 73.1 440.2 125.6 442.1 101.0 382.3 182.7 415.5 108.6 451.1 78.9 359.8 195.8 447.7 102.4 439.5 104.1 412.5 142.2 416.8 112.3 406.0 132.6 431.9 102.6 418.0 147.9 422.5 117.9 389.5 164.5 429.0 99.7 407.6 164.2 383.9 176.1 381.2 177.1 389.6 182.8 364.9 168.9 399.6 170.9 418.7 139.0 369.3 202.9 366.1 209.5 397.7 147.8 425.6 126.3 457.5 68.6 429.8 110.3 357.8 189.7 393.8 163.7 402.5 144.9 404.0 163.2 395.9 170.7 425.3 125.1 432.5 114.9 379.7 165.4 388.9 164.9 400.2 159.7 432.9 108.0 448.8 115.2 423.9 156.6 432.7 118.3 395.9 141.0 387.4 178.6 427.8 115.1 437.4 101.2 391.3 161.6 406.8 108.3 406.3 147.6 379.3 170.2 404.2 155.8 416.1 121.8 422.2 131.0 374.3 197.7 423.2 131.2 421.6 140.7 356.9 204.6 404.5 147.3 387.8 173.1 348.8 235.5 450.3 89.6 380.5 180.7 405.1 167.2 394.7 165.2 404.0 148.4 435.2 106.4 403.8 155.6 407.8 143.7 364.8 215.1 392.2 194.5 399.8 167.9 420.3 135.4 419.7 147.4 411.2 154.2 404.5 150.4 373.1 179.1 440.9 71.0 360.5 228.9 457.7 86.9 390.1 180.6 386.1 174.7 378.3 203.3 390.7 158.9 376.1 183.4 344.0 211.1 441.5 98.1 410.7 144.9 408.1 142.3 444.6 90.1 369.7 198.7 460.9 96.7 374.4 204.3 397.6 167.4 411.7 149.4 427.3 149.9 446.2 75.3 446.2 93.9 434.7 106.1 402.3 148.6 435.8 109.9 375.4 189.2 416.5 160.6 406.3 155.6 392.8 181.4 375.8 180.8 424.0 116.9 406.9 161.3 382.3 184.4 395.2 161.5 414.7 148.8 415.8 132.2 414.9 157.1 406.0 172.6 377.0 193.4 445.4 95.0 385.9 173.7 415.6 129.4 359.5 213.3 425.2 127.0 397.9 146.3 407.2 114.6 407.0 141.2 428.9 113.1 401.8 136.3 359.9 196.5 437.6 111.4 409.9 163.6 401.0 149.9 404.0 131.7 363.3 215.9 456.4 67.4 394.0 155.1 389.6 177.1 444.3 120.0 379.3 174.3 395.3 171.4 409.3 147.5 395.4 146.6 438.6 92.6 387.2 164.4 379.8 200.2 375.7 192.9 424.2 128.9 410.6 116.5 355.0 202.5 461.5 84.6 421.4 150.2 356.3 224.4 419.2 111.7 397.5 169.4 421.5 123.6 393.8 164.2 411.5 120.2 408.9 150.0 372.2 208.4 365.7 199.7 400.3 141.4 425.3 126.0 369.7 204.3 427.5 127.1 393.5 186.0 395.4 161.7 391.7 167.1 396.5 177.7 416.0 118.2 404.7 158.6 406.1 152.7 394.6 132.4 415.1 140.5 381.1 186.8 407.1 144.0 401.5 126.0 402.4 153.1 450.8 92.2 462.1 82.8 415.6 142.5 414.3 145.6 387.3 185.8 425.5 132.4 347.1 222.9 440.4 113.6 427.0 100.6 416.4 118.0 378.7 206.9 414.1 132.7 357.3 201.5 387.9 180.4 423.0 125.7 409.2 116.8 423.1 130.7 354.6 191.5 403.4 149.9 427.4 120.9 404.7 160.6 405.6 136.8 379.6 172.8 417.4 144.5 406.0 149.8 386.8 169.3 444.2 98.6 368.0 188.3 439.3 115.7 378.5 180.3 376.0 168.1 359.4 213.7 359.1 175.9 380.1 199.6 395.5 184.0 430.7 108.6 365.4 204.6 372.1 199.6 402.9 166.6 396.1 124.5 445.1 77.8 351.3 200.2 402.8 132.4 386.8 172.0 424.4 129.6 415.4 130.9 366.8 183.4 391.1 143.7 423.6 128.6 401.9 160.3 404.5 144.4 376.1 173.1 352.8 267.7 410.0 136.4 394.7 193.4 378.3 175.9 462.4 85.1 366.8 195.3 384.4 207.3 371.4 189.9 396.4 158.6 354.9 245.3 391.4 173.4 376.4 159.4 427.0 109.6 393.8 168.1 375.4 197.7 442.1 104.3 421.3 132.9 440.2 114.3 420.6 130.5 378.4 162.2 443.3 110.7 443.0 112.6 380.9 175.0 384.5 156.0 425.7 115.4 377.7 167.6 408.6 138.3 379.9 141.2 395.8 167.4 411.8 135.8 409.9 157.0 388.1 160.6 391.2 189.5 387.9 193.8 434.0 112.2 423.6 122.2 418.9 123.5 409.6 170.0 392.8 154.3 379.3 188.2 397.1 118.0 380.6 191.8 423.0 148.1 402.2 154.7 407.5 128.4 411.4 145.9 433.9 130.4 460.7 90.8 375.1 193.0 402.6 194.1 409.1 115.6 393.4 156.6 387.2 176.8 434.5 118.7 408.2 147.5 374.5 194.3 376.4 182.2 396.2 171.5 429.6 126.4 399.6 188.6 359.1 187.4 405.2 158.5 450.0 101.5 446.0 96.1 407.4 171.8 429.3 118.3 464.6 73.0 426.6 127.2 351.4 256.6 369.8 179.6 422.5 120.2 354.8 229.0 414.7 109.6 405.9 166.4 415.1 150.9 394.2 143.8 379.4 167.6 439.6 111.7 446.1 90.7 393.1 175.6 397.1 176.3 422.7 137.7 391.1 147.0 397.5 143.1 404.1 147.8 409.5 106.4 413.1 129.7 374.6 194.3 445.8 91.4 372.5 179.1 394.7 197.6 427.7 138.6 392.1 144.4 399.2 175.9 416.7 137.6 392.3 148.0 427.3 95.2 383.0 181.9 390.2 207.2 399.0 158.2 384.5 164.0 398.8 166.4 438.2 133.9 365.0 209.5 358.5 193.1 433.1 102.7 406.9 158.4 432.7 113.9 426.9 130.1 423.1 123.8 421.6 143.0 426.6 124.2 430.1 131.0 431.1 103.4 461.4 87.5 391.0 165.9 405.5 163.4 366.8 231.6 398.4 162.5 433.5 132.8 446.9 89.6 426.9 109.8 423.6 133.6 363.6 217.7 400.1 138.6 411.9 151.8 388.8 157.9 403.7 139.4 377.3 188.7 386.3 145.8 384.4 169.8 374.4 175.4 428.9 120.8 390.1 184.5 387.1 169.1 415.9 142.5 398.2 143.1 418.5 150.8 438.6 107.7 361.1 194.3 388.7 143.5 363.1 211.0 387.8 169.5 399.4 176.1 393.8 186.9 442.0 112.5 410.6 128.3 419.8 119.0 420.6 132.4 395.9 174.5 396.9 143.7 419.1 130.5 428.4 117.2 374.9 179.4 427.1 106.9 442.5 95.7 400.4 157.9 393.7 169.8 418.6 137.2 423.8 131.0 440.2 119.5 426.5 136.8 389.2 128.2 402.0 129.2 392.0 175.3 438.1 110.7 412.3 146.5 371.6 183.5 369.9 202.2 419.0 134.4 436.0 109.9 429.3 105.7 414.1 143.6 393.3 166.1 381.8 197.9 386.0 189.3 409.2 148.8 376.0 202.0 428.3 151.1 410.2 161.0 422.6 134.1 453.4 102.1 405.3 154.0 430.2 131.3 418.9 129.6 404.4 139.2 411.7 120.6 409.3 136.8 406.8 151.2 393.6 150.6 408.2 167.1 395.8 197.3 396.1 137.6 422.9 129.4 409.6 164.4 415.5 118.7 374.4 163.8 397.9 151.4 408.2 157.4 417.8 105.4 381.4 186.8 410.8 148.3 466.0 80.4 395.1 162.2 430.1 142.2 405.4 159.4 425.5 120.0 386.8 142.9 428.3 126.9 380.1 185.3 392.2 160.3 366.8 175.1 409.2 127.8 383.7 183.3 437.0 132.5 474.1 94.8 379.3 158.0 390.1 161.2 375.4 173.4 385.3 161.3 391.9 156.9 427.0 97.9 363.5 194.4 354.5 175.1 413.4 149.5 344.2 216.4 454.6 96.5 432.4 124.5 413.3 176.0 422.1 129.2 397.5 160.4 383.4 157.6 380.1 188.4 427.1 134.9 444.1 110.8 375.0 202.5 428.8 110.5 436.3 103.4 427.1 151.4 365.2 184.8 441.7 115.8 360.2 193.5 384.4 194.5 408.7 127.7 393.4 189.8 436.2 123.7 431.9 114.1 410.4 160.6 364.8 191.8 432.9 131.7 416.9 125.5 372.4 171.4 389.9 207.2 449.7 83.0 344.8 216.1 452.9 105.0 421.0 131.1 367.4 197.8 425.3 84.7 425.1 130.0 386.4 163.4 405.1 157.1 359.0 203.4 440.0 103.6 400.1 162.9 367.1 184.5 396.6 168.5 403.4 158.5 356.2 217.5 379.8 174.1 447.0 92.4 417.6 176.3 402.2 172.6 371.1 194.6 437.0 111.5 395.8 189.3 353.8 201.0 377.6 151.2 402.8 157.2 404.2 160.7 387.3 190.7 431.9 124.7 393.8 178.2 408.3 149.7 413.2 140.3 358.2 238.2 449.7 89.5 366.4 192.7 356.4 230.7 378.7 167.1 361.9 179.8 378.5 197.6 434.3 110.3 433.2 125.5 450.6 102.1 364.8 204.6 435.4 138.1 367.2 198.6 393.4 177.3 367.2 205.9 388.5 178.0 389.5 183.8 396.0 144.8 418.1 137.0 381.6 188.6 373.2 206.2 436.7 123.1 387.1 168.1 406.9 139.7 413.5 110.8 403.7 161.0 410.0 137.8 375.4 187.0 385.2 182.3 361.3 210.3 402.1 162.5 419.3 130.3 441.5 92.9 418.1 143.5 351.4 207.9 430.4 121.0 369.9 200.9 375.6 188.3 405.3 168.4 399.0 137.1 364.3 207.6 403.5 162.4 461.8 92.3 409.5 159.0 395.5 173.8 420.2 159.5 431.6 128.7 412.8 135.2 364.6 164.1 423.2 119.9 406.8 140.5 384.5 158.1 447.6 112.2 425.7 111.6 406.4 139.2 400.9 153.0 401.3 159.6 370.1 185.4 419.8 123.4 373.0 217.0 381.7 174.9 419.5 126.5 385.2 160.8 412.1 166.3 411.8 152.1 411.8 154.7 383.6 160.8 368.6 154.4 392.2 157.3 373.8 175.4 428.9 139.0 397.3 169.9 398.4 150.1 376.0 189.5 423.2 136.2 413.9 147.5 423.3 131.3 438.4 102.3 401.7 148.3 380.3 164.2 426.6 124.2 421.9 107.3 370.3 238.8 392.7 170.1 400.7 130.4 388.6 176.0 363.5 219.0 408.1 159.3 410.0 143.5 424.8 117.7 400.8 169.9 410.8 138.8 448.1 111.7 411.5 142.1 373.6 193.7 414.5 129.5 387.2 165.8 460.0 69.6 371.4 210.3 391.2 211.2 418.8 124.6 416.6 131.7 377.9 186.7 444.6 111.4 430.3 137.1 393.5 167.3 425.4 120.5 413.4 129.5 461.3 89.4 439.4 126.7 426.1 117.3 363.9 169.9 445.3 98.9 419.6 161.8 415.8 120.9 390.4 195.7 438.7 102.0 422.5 166.6 400.5 176.0 423.8 126.3 419.6 132.6 408.0 141.9 443.6 92.1 424.3 117.6 402.2 180.9 425.6 139.5 424.4 101.4 378.0 190.5 429.4 146.6 392.2 153.6 446.5 103.4 407.1 152.1 409.7 127.0 403.5 137.4 400.2 156.4 401.5 133.5 415.9 138.7 427.2 122.7 404.0 138.7 394.5 168.9 431.4 117.8 396.1 153.1 379.6 179.3 430.8 126.3 454.6 66.7 418.7 133.9 375.8 168.9 406.2 156.6 411.5 137.7 423.7 138.6 398.0 134.9 393.2 164.7 369.5 192.3 395.9 119.2 418.4 155.2 393.5 163.7 406.2 149.6 393.5 162.5 367.1 190.7 416.6 151.7 409.9 156.4 431.6 109.8 379.5 190.1 430.6 115.5 412.2 141.0 434.3 100.8 385.7 156.1 369.5 175.4 416.9 159.0 378.8 173.5 400.2 155.3 433.4 101.3 369.0 188.5 418.0 115.8 394.2 183.3 373.1 156.4 352.3 212.2 419.2 129.1 416.4 140.8 389.9 179.4 403.1 139.2 391.8 169.6 377.1 162.4 414.1 118.5 452.8 77.3 406.0 139.5 417.4 137.0 386.2 181.3 409.6 160.7 407.5 149.9 460.6 70.2 452.0 108.1 407.7 145.5 436.8 115.6 449.0 109.0 437.7 115.1 402.0 159.9 399.5 183.8 395.4 195.6 401.1 191.1 439.8 93.3 442.9 96.7 423.0 140.7 417.5 123.7 394.7 160.2 443.0 110.4 463.5 67.6 426.0 143.4 408.2 174.0 403.8 175.3 396.3 172.8 370.8 171.2 431.2 103.0 398.7 180.9 408.3 149.9 420.7 114.3 407.2 128.9 356.7 231.1 365.5 178.6 359.4 200.0 391.4 165.5 388.5 157.3 375.8 204.3 367.2 193.1 375.3 195.9 456.3 85.5 367.5 203.7 432.4 112.0 431.9 99.6 390.4 169.4 407.7 153.9 377.4 193.2 387.6 176.7 374.6 194.1 432.6 107.8 372.3 198.3 411.8 166.0 399.0 157.5 382.4 175.1 382.1 171.0 404.8 147.4 385.4 186.0 412.7 143.2 422.6 117.9 393.7 186.5 405.8 137.4 429.1 134.7 413.0 145.3 430.0 110.2 413.8 131.7 395.2 158.6 406.4 145.8 442.0 95.5 399.2 171.0 420.4 133.2 446.6 99.0 446.3 97.6 432.4 125.0 384.6 135.3 389.2 161.7 443.9 87.6 442.1 105.2 407.7 139.3 452.6 90.8 416.4 136.5 416.5 129.9 375.9 192.5 430.9 110.0 394.2 141.6 440.0 122.6 360.3 218.0 448.3 114.4 398.7 147.8 417.4 118.5 418.1 126.1 419.2 145.8 411.6 142.6 380.6 170.9 379.9 167.0 404.3 140.7 413.7 161.1 351.4 248.9 397.7 171.8 419.9 156.7 396.1 130.7 354.4 227.6 411.4 121.2 418.4 124.3 408.8 152.4 445.3 105.4 399.2 147.0 388.5 152.1 435.3 126.3 411.7 150.4 457.9 104.3 398.4 153.1 411.4 158.3 406.5 152.9 436.8 122.0 425.3 150.8 441.8 106.7 379.4 185.7 393.0 141.3 389.4 169.3 429.2 146.8 399.4 142.3 396.4 165.7 442.7 101.0 401.5 140.4 461.3 104.3 440.6 126.0 388.5 197.7 418.2 127.9 453.8 98.7 396.4 151.1 390.1 158.0 409.2 158.0 410.1 149.4 404.3 129.5 354.1 184.2 394.2 138.5 417.0 135.5 406.5 138.3 440.9 95.4 365.2 183.0 383.0 181.3 415.3 126.0 419.2 138.5 401.0 178.2 438.7 77.5 393.6 192.0 400.9 167.6 418.3 136.1 377.5 191.9 419.6 120.4 386.7 180.3 410.6 161.1 409.9 140.9 417.4 148.1 372.9 192.9 369.9 206.1 344.5 247.5 448.9 84.9 397.5 146.3 408.7 152.1 381.2 180.3 399.5 178.4 401.8 172.6 371.1 193.4 401.0 142.3 359.6 224.2 399.8 163.7 406.5 172.4 455.4 87.3 400.3 180.7 430.0 134.0 388.7 209.8 383.5 179.2 453.2 72.0 387.6 157.3 372.1 214.6 402.6 128.9 452.6 99.0 358.4 200.0 359.6 200.8 386.8 133.1 427.5 140.4 418.7 127.5 365.6 200.0 389.8 178.1 458.0 81.0 415.7 156.5 397.8 128.0 400.1 144.1 412.6 165.8 388.6 166.8 429.5 143.2 398.2 153.3 399.5 160.5 389.2 141.7 424.5 92.5 399.9 173.4 394.2 163.7 392.9 183.0 361.5 189.4 399.6 149.7 386.1 153.5 390.6 127.2 391.1 171.1 418.7 127.8 397.1 193.9 361.3 194.9 394.6 162.9 434.3 110.0 454.1 95.6 370.8 141.0 385.0 189.4 449.8 101.4 411.8 149.2 450.3 81.0 417.1 127.5 406.8 140.2 399.2 175.0 396.4 143.6 464.5 73.5 407.3 160.0 392.8 208.3 361.5 204.6 396.2 209.8 405.6 132.4 449.5 81.9 368.0 242.4 406.9 137.2 396.4 150.5 392.6 178.4 397.5 167.1 398.8 163.2 421.9 111.8 405.2 158.1 390.6 167.4 401.3 161.9 400.8 168.8 378.6 176.7 422.3 151.1 361.9 232.8 406.1 176.4 383.3 165.2 404.8 116.4 377.2 175.6 384.1 175.7 382.5 175.4 406.8 139.9 422.6 130.7 362.5 221.0 401.4 133.9 419.2 132.4 427.9 124.7 449.7 87.9 364.0 176.4 413.0 139.5 430.6 111.0 351.8 223.3 400.9 161.6 436.9 103.6 416.2 119.1 386.7 165.6 439.1 97.3 430.0 128.1 423.5 147.5 427.0 142.6 428.4 114.7 404.6 176.4 363.8 183.3 381.7 174.0 379.2 158.7 372.2 200.8 409.4 158.4 461.0 74.4 383.8 188.2 403.2 155.8 408.2 145.3 386.6 174.5 423.4 126.0 418.1 130.1 381.3 183.4 387.8 170.3 381.0 171.9 399.3 184.9 399.1 131.3 423.9 124.1 388.6 182.8 437.2 114.5 427.6 111.7 431.4 121.5 407.6 144.8 368.7 181.2 375.0 168.7 436.4 113.2 375.5 186.2 396.4 168.6 397.1 162.0 345.4 211.1 416.1 132.7 404.0 161.7 423.9 116.9 396.1 169.5 426.3 133.9 403.6 161.1 406.6 179.4 429.3 103.1 424.4 153.9 372.6 191.2 414.0 135.7 435.3 128.9 407.3 135.6 424.1 114.5 440.2 98.9 413.6 144.8 424.2 113.0 414.3 173.4 425.4 104.8 431.2 116.1 404.7 147.7 427.0 128.8 384.4 163.8 396.5 173.7 417.5 137.8 416.0 136.2 408.1 136.0 423.4 151.8 396.0 159.9 407.7 146.7 410.1 131.2 390.5 182.4 435.2 127.5 383.4 177.6 406.6 149.2 378.3 193.0 389.8 175.3 390.1 154.5 352.2 212.2 423.0 119.9 379.9 202.9 397.9 163.4 414.0 160.1 415.6 126.9 406.8 133.0 442.9 72.2 427.4 118.3 437.0 116.2 383.0 148.0 376.1 161.2 444.2 117.4 387.3 179.4 378.0 219.9 424.0 144.8 413.0 166.6 434.1 129.4 396.1 147.7 412.3 131.7 409.0 129.1 385.0 193.7 387.4 167.7 426.3 123.1 435.8 124.1 435.9 100.1 398.9 139.8 377.4 183.5 403.7 132.6 397.2 160.8 384.7 143.5 429.9 104.9 464.2 92.8 445.3 109.4 392.6 149.9 407.1 144.1 441.5 83.3 347.9 224.0 416.5 154.0 383.0 165.6 413.9 145.1 349.4 246.2 404.8 162.9 399.2 147.8 400.2 155.9 354.5 212.5 356.1 203.4 437.3 106.1 404.5 141.9 399.6 162.0 388.6 153.7 407.0 145.3 423.5 138.1 398.7 145.8 429.1 103.3 396.7 177.4 403.9 143.4 391.4 139.7 398.5 151.2 401.0 182.8 411.0 141.1 437.8 96.7 420.7 117.3 389.0 169.9 384.8 174.4 409.5 151.7 417.6 155.0 423.6 139.2 379.4 173.7 396.8 166.1 399.4 185.8 446.0 109.3 374.8 154.1 441.2 128.4 426.0 123.1 419.9 171.7 391.1 145.8 399.5 131.6 409.6 133.7 406.7 128.1 411.3 129.0 414.6 138.7 421.6 113.5 369.1 219.7 366.3 200.7 356.8 223.7 447.1 89.2 415.1 121.5 412.5 120.5 384.9 157.3 373.2 184.7 418.7 116.9 370.1 171.5 415.5 131.6 372.2 181.9 350.7 217.1 430.2 131.6 434.1 101.1 373.8 180.9 416.5 124.9 395.8 153.7 428.6 100.0 367.9 217.3 444.5 99.8 446.1 85.8 398.0 137.4 414.7 138.5 345.6 204.7 412.5 138.6 428.9 127.0 411.8 145.4 430.9 116.0 365.4 171.2 402.1 168.9 430.5 130.5 412.8 148.4 398.2 179.7 450.8 94.2 438.2 132.2 359.3 181.0 419.9 122.9 400.0 179.5 437.8 108.8 429.2 130.5 381.6 172.6 383.5 166.6 397.0 158.7 401.7 185.7 409.3 115.3 425.8 111.8 377.8 182.0 430.2 139.6 431.2 121.6 341.3 264.6 425.4 114.8 432.2 112.2 433.5 117.8 408.3 138.5 398.4 125.9 412.8 145.4 394.9 157.7 403.4 156.5 390.6 206.1 428.9 100.2 391.3 155.2 400.3 142.5 399.6 154.9 429.7 93.0 395.7 153.3 439.0 111.4 412.0 126.7 362.3 198.7 426.0 137.8 374.6 184.1 359.2 172.8 406.9 168.5 396.2 164.3 449.3 98.3 407.9 150.7 442.5 97.7 401.3 143.8 378.6 203.4 408.0 134.8 394.9 139.6 368.2 210.8 403.6 176.6 436.1 114.9 411.6 152.7 414.3 144.8 419.6 140.1 402.8 171.4 432.4 105.2 369.6 175.2 409.6 160.7 414.9 134.7 409.9 131.3 429.2 114.7 426.3 137.7 414.0 156.7 410.8 114.2 408.4 169.7 437.4 120.1 413.3 143.3 455.6 81.4 451.1 108.1 412.7 152.7 400.5 134.1 429.7 101.9 408.4 146.4 410.0 155.9 363.5 214.3 410.2 135.4 404.5 167.7 369.8 179.5 445.9 114.4 441.0 122.6 410.3 122.1 400.6 168.9 414.6 142.6 367.1 199.7 380.0 207.4 412.1 142.1 391.0 163.9 403.4 139.6 425.1 142.2 460.4 92.4 417.5 136.4 392.4 159.6 402.2 140.4 410.8 170.4 400.4 170.0 393.6 155.9 400.2 154.2 436.1 88.7 376.1 169.4 444.7 122.5 411.6 118.2 455.5 90.7 378.1 184.1 412.9 139.8 411.2 159.4 404.0 126.2 377.9 197.7 384.2 192.2 391.3 161.0 386.2 165.7 439.0 92.7 397.1 179.2 409.2 142.0 412.3 142.5 385.9 192.2 315.2 259.7 315.2 248.2 318.7 252.9 324.0 250.3 325.0 254.6 321.8 242.2 323.3 218.4 328.5 232.9 329.6 242.2 332.6 246.1 335.6 247.8 336.1 250.7 334.1 255.4 335.1 259.7 338.6 264.4 339.4 265.2 335.6 242.7 337.9 209.5 336.6 217.1 336.6 220.5 337.9 226.1 332.6 238.4 337.3 236.3 338.6 232.0 346.7 268.6 345.4 247.8 351.9 249.0 348.9 243.5 349.9 241.8 477.3 32.0 484.2 35.0 478.8 38.0 469.6 44.4 465.0 48.2 469.1 51.2 447.1 50.8 454.7 54.2 449.4 58.8 450.4 57.6 460.5 57.6 466.8 58.0 473.2 61.4 469.6 61.0 439.0 62.7 455.2 63.5 458.7 64.4 463.3 64.8 451.7 60.1 480.1 75.0 467.9 76.3 464.3 87.4 465.0 86.1" fill="none" marker-start="url(#m)" marker-mid="url(#m)" marker-end="url(#m)"/><path d="M315.5 261.3L485.2 52.7" stroke="#4466dd" stroke-width="1.1"/><path d="M312.20 328.6v5M302.0 315.00h-5M362.50 328.6v5M302.0 229.90h-5M414.45 328.6v5M302.0 144.80h-5M465.05 328.6v5M302.0 59.70h-5" stroke="#666" stroke-width="1.2"/>
<rect x="568.0" y="2.0" width="197.0" height="326.6" fill="#e5e5e5"/><path d="M603.35 2.0V328.6M653.90 2.0V328.6M705.80 2.0V328.6M756.60 2.0V328.6" stroke="#f8f8f8" stroke-width="0.95"/><path d="M568.0 272.45H765.0M568.0 187.35H765.0M568.0 102.25H765.0M568.0 17.15H765.0" stroke="#f8f8f8" stroke-width="1.05"/><path d="M578.20 2.0V328.6M628.50 2.0V328.6M680.45 2.0V328.6M731.05 2.0V328.6" stroke="#fff" stroke-width="1.3"/><path d="M568.0 315.00H765.0M568.0 229.90H765.0M568.0 144.80H765.0M568.0 59.70H765.0" stroke="#fff" stroke-width="1.5"/><path d="M607.3 259.3 647.4 185.4 654.6 177.5 654.3 207.7 651.8 182.6 645.4 204.6 651.0 190.9 654.1 176.4 655.0 195.4 691.5 124.6 648.7 176.5 675.2 152.1 653.5 194.5 680.5 144.4 639.7 213.3 678.0 162.2 661.2 167.6 601.8 271.1 639.5 230.0 665.1 155.2 649.9 202.7 659.8 176.0 688.7 126.1 663.3 172.6 654.8 198.3 671.6 184.1 654.6 190.9 664.1 167.6 673.9 168.2 625.7 236.4 639.4 195.5 674.3 123.4 666.2 180.0 692.4 120.3 666.7 168.5 688.7 116.5 651.4 203.8 694.3 114.3 682.5 159.8 666.6 162.2 642.7 187.3 688.0 130.6 646.9 174.5 664.0 173.4 633.6 208.5 659.1 184.9 675.3 155.3 652.5 187.8 654.0 202.0 642.8 214.1 656.9 187.8 664.3 150.7 690.6 126.3 617.6 257.9 646.6 211.2 612.8 254.2 692.8 137.0 639.1 208.0 660.1 195.0 701.7 127.9 675.5 143.1 695.9 140.1 687.9 107.0 655.1 197.0 690.7 144.3 652.8 181.1 669.5 149.5 640.1 193.9 647.7 203.7 631.9 223.6 677.3 147.8 666.3 156.9 662.2 162.2 647.7 188.1 661.6 159.2 649.3 218.1 652.2 194.6 643.0 190.5 676.5 155.7 694.5 122.2 677.4 157.1 662.1 174.5 682.1 149.0 662.5 195.0 653.2 182.6 676.2 146.3 704.0 115.9 704.3 128.5 651.2 194.1 674.8 167.5 667.3 154.1 692.9 127.3 681.4 161.3 639.5 217.8 634.8 197.2 681.1 146.3 672.5 166.9 664.9 172.6 653.4 200.7 675.3 143.8 673.1 172.6 683.0 134.6 642.3 194.1 637.9 197.3 660.1 178.2 655.2 189.1 655.2 184.1 655.9 180.5 682.9 134.6 619.4 242.6 656.5 179.3 670.5 168.3 623.1 245.4 651.5 177.5 634.0 213.8 674.8 145.4 645.6 181.0 647.5 204.5 663.6 177.6 643.0 208.1 706.7 91.9 661.9 189.4 658.4 186.6 648.2 181.8 662.6 189.9 635.1 208.8 656.6 163.9 640.0 203.9 671.2 168.3 682.5 146.2 674.4 165.0 677.0 150.7 653.1 176.6 686.2 123.7 651.7 214.4 698.7 123.2 657.2 176.9 685.0 140.9 667.0 192.7 642.5 202.1 670.6 153.8 663.5 170.8 647.5 197.0 640.8 191.2 653.7 201.9 660.1 179.4 647.3 192.0 635.6 185.0 667.0 173.5 600.7 264.1 686.0 116.0 688.4 122.7 659.9 166.7 632.5 206.5 677.9 168.1 670.8 150.6 665.6 175.1 652.4 171.0 627.0 224.6 636.5 211.1 673.5 153.1 719.2 94.9 646.1 182.5 666.8 183.6 682.5 143.0 597.1 282.6 646.4 186.7 645.8 198.7 708.7 107.6 663.5 163.0 661.6 154.1 661.4 185.4 642.6 188.5 676.5 157.8 652.1 190.9 674.8 155.1 665.4 179.4 683.9 120.4 657.2 171.5 640.9 199.9 645.1 215.1 634.2 210.1 663.0 181.3 673.4 139.7 675.2 172.1 695.4 111.5 656.7 198.7 654.0 201.9 647.6 193.4 671.5 148.4 676.5 137.7 620.3 245.0 676.0 157.3 671.0 148.4 651.2 209.6 687.8 144.8 649.0 184.4 651.4 184.5 669.0 161.0 689.2 115.9 680.0 163.2 683.6 133.6 662.3 147.6 675.7 156.2 690.6 141.8 701.2 96.1 674.2 147.5 652.0 174.7 675.1 144.3 648.0 200.0 680.8 145.7 661.3 187.0 663.5 140.9 637.6 222.3 661.9 176.8 637.1 220.4 669.5 156.0 646.5 181.2 676.2 156.1 670.8 153.8 633.1 210.8 650.7 165.6 649.9 194.2 658.1 173.8 681.6 123.4 649.4 208.7 683.9 138.1 686.3 133.3 655.9 194.7 643.4 204.6 674.6 150.5 657.4 167.0 695.3 109.2 657.1 186.4 612.8 263.0 659.1 160.5 675.9 168.0 654.6 190.2 633.6 231.1 681.6 168.9 630.4 220.7 658.6 194.0 646.7 204.2 656.2 167.9 667.4 137.6 688.0 146.8 682.0 151.9 674.2 163.6 686.0 150.1 693.0 101.0 670.4 149.9 694.3 113.1 653.5 197.2 650.0 183.4 659.1 175.4 699.2 114.0 660.0 169.6 673.5 139.9 633.6 219.5 670.8 163.8 648.8 205.3 670.1 144.7 667.7 158.7 671.9 184.5 652.6 186.1 665.5 158.6 634.3 235.3 694.5 137.9 667.7 152.6 675.9 154.6 692.9 140.4 685.8 135.2 651.1 186.4 678.3 158.4 651.4 198.8 624.2 233.9 671.5 159.0 683.8 119.3 631.8 207.0 657.6 174.2 680.0 152.5 692.6 149.4 654.6 185.6 641.0 211.4 676.0 162.6 667.6 156.4 670.1 139.3 686.6 154.9 643.9 197.6 650.3 186.7 681.5 153.4 643.1 211.5 685.9 116.5 682.3 133.3 675.5 128.6 675.7 160.4 638.9 222.1 659.5 181.7 685.2 127.1 644.5 186.5 652.7 166.1 642.4 211.7 665.4 183.9 631.9 210.6 673.9 144.6 684.3 131.7 666.4 150.2 709.1 106.5 640.7 225.3 655.9 159.8 611.1 252.4 646.0 201.9 656.3 168.3 653.0 162.5 670.5 157.7 652.5 168.7 664.8 167.7 691.1 105.5 680.7 141.7 668.8 149.0 642.0 205.3 663.2 164.4 650.0 189.4 610.5 261.3 655.9 181.4 633.3 211.3 656.3 183.2 693.9 128.2 685.1 132.0 648.7 177.9 651.9 189.9 637.2 230.0 693.1 133.5 641.5 205.7 642.9 185.2 656.8 192.7 652.3 195.9 695.1 126.3 660.8 162.1 655.0 189.3 657.4 165.2 630.4 201.4 676.1 160.7 664.6 183.4 695.9 138.7 656.1 173.2 615.2 264.3 656.3 189.1 687.5 146.4 621.8 223.2 663.6 163.4 632.9 213.3 670.9 178.8 658.8 187.8 696.1 119.6 651.6 191.1 655.9 179.5 635.0 198.9 632.7 212.9 662.1 164.4 678.0 149.8 645.1 205.0 650.6 196.7 678.8 148.4 648.0 214.1 651.6 196.4 649.3 193.4 657.3 186.2 677.6 149.8 656.8 202.2 636.8 220.2 626.8 230.4 628.6 207.9 648.0 194.4 709.8 99.3 673.2 166.1 654.0 185.6 622.4 243.3 693.2 115.9 648.1 201.7 650.2 184.9 616.5 254.6 654.0 202.7 654.8 201.0 646.7 188.0 624.2 241.2 674.1 160.3 672.0 130.0 624.5 247.4 682.4 142.3 663.6 186.5 670.8 171.1 648.8 189.0 662.5 178.5 621.4 218.5 642.9 214.8 664.6 177.5 664.8 193.6 660.7 175.7 644.2 210.9 674.2 156.4 689.6 139.2 679.2 142.0 643.4 210.8 668.7 162.4 658.4 180.9 681.8 151.1 664.0 170.6 675.9 152.1 661.3 169.0 690.4 150.6 637.9 195.9 626.0 230.5 637.2 208.7 673.3 150.1 628.3 243.1 658.3 176.1 638.4 216.9 689.0 121.8 659.9 179.5 644.0 213.4 639.5 199.9 633.8 210.2 656.3 178.7 629.8 227.7 662.1 155.6 641.9 211.8 653.5 184.1 671.0 161.1 614.4 253.8 684.1 133.2 677.9 159.1 631.3 217.2 661.3 171.2 630.9 227.0 646.3 206.2 647.2 219.8 647.1 196.0 659.8 158.0 638.2 218.3 689.8 139.2 641.7 213.0 684.1 135.5 675.9 143.1 680.2 141.0 693.7 123.2 691.6 139.6 679.6 128.5 629.0 230.0 642.7 199.6 622.2 236.5 660.2 175.9 664.0 161.1 632.4 219.1 702.6 85.2 660.0 151.4 672.6 146.5 598.6 279.1 638.1 202.4 663.4 166.9 636.5 205.9 643.3 201.8 658.6 189.3 662.6 182.3 687.9 132.6 626.8 220.2 663.4 171.3 645.4 205.8 665.3 169.5 678.9 139.2 640.1 213.2 676.3 156.2 653.7 184.6 657.5 172.5 634.3 230.5 645.9 202.8 634.2 217.6 697.2 123.7 671.7 152.1 697.5 107.0 643.4 214.7 668.5 136.5 668.4 156.2 649.6 175.2 659.7 168.1 702.8 127.4 649.1 207.1 675.4 149.1 665.9 161.0 609.4 251.6 643.2 224.4 671.0 165.7 667.9 149.8 678.6 141.2 601.3 286.7 676.5 156.3 638.6 214.1 685.9 140.0 641.7 194.1 657.9 166.5 648.5 180.3 671.6 169.9 660.4 189.2 668.3 179.6 634.0 220.8 651.7 187.6 673.4 170.2 673.3 152.6 685.1 134.1 668.0 165.9 614.7 244.9 640.8 217.8 665.2 179.7 660.6 159.3 683.6 143.3 668.7 151.9 656.8 188.3 657.0 205.6 636.6 207.9 624.8 246.6 687.4 142.4 639.0 195.3 676.4 167.3 631.5 225.2 663.3 158.7 668.9 140.2 666.4 177.0 649.2 191.5 685.5 143.3 628.1 214.3 683.7 144.3 682.6 126.2 645.1 220.8 659.0 169.2 659.3 161.1 639.9 201.2 684.6 137.4 681.8 147.4 668.2 177.9 644.5 190.6 649.6 182.4 674.4 149.9 668.5 176.8 659.7 186.5 679.0 148.2 627.9 199.7 687.4 112.5 617.1 229.8 657.9 195.1 669.5 184.1 670.0 160.6 672.8 151.6 630.8 205.6 680.5 154.4 658.3 167.2 641.6 210.0 680.5 138.6 680.1 151.7 650.6 197.3 664.0 177.3 660.3 178.8 648.9 205.5 662.8 181.9 656.2 180.1 662.7 186.7 637.0 218.2 679.8 152.8 689.8 132.9 671.2 146.4 633.2 228.3 670.4 142.8 699.5 134.4 650.8 201.5 647.2 189.5 632.0 248.8 691.4 131.4 670.8 155.0 677.8 164.7 640.9 191.1 664.7 148.9 658.7 177.9 634.5 204.1 669.2 151.1 665.5 172.6 670.9 163.8 676.9 127.3 643.1 200.7 650.2 193.6 659.1 187.2 664.4 199.9 628.1 229.5 631.2 222.1 662.1 173.8 671.8 160.1 701.0 101.9 694.5 118.3 650.7 188.9 683.3 141.9 681.7 146.2 675.1 151.5 668.2 171.1 674.6 141.0 667.3 161.8 672.5 156.7 671.7 135.6 643.0 194.5 657.1 193.5 628.5 236.6 628.0 228.9 656.9 186.5 647.5 181.7 669.1 153.6 637.9 201.8 645.8 187.0 674.3 143.8 652.3 211.4 662.5 183.4 683.3 133.9 652.0 186.4 652.9 167.0 646.8 183.1 658.4 163.7 680.3 151.8 640.8 207.7 660.4 164.6 668.6 174.9 656.5 189.1 621.8 218.1 640.9 183.4 705.0 123.6 640.4 208.4 658.3 192.2 671.7 180.1 662.8 181.3 675.3 146.5 691.7 119.0 688.5 128.5 630.7 209.3 645.5 209.0 682.7 144.0 641.6 189.5 699.2 105.7 628.2 236.8 652.7 201.7 679.0 146.5 685.3 134.6 670.2 157.2 639.9 210.8 672.0 156.3 677.2 156.8 681.9 143.1 661.6 181.5 676.9 164.5 665.6 166.2 658.4 188.2 657.7 174.1 635.9 211.8 657.0 149.9 640.7 188.8 676.2 155.6 675.0 156.4 667.4 172.5 672.7 172.1 656.1 165.5 633.1 212.6 674.9 159.8 658.7 158.9 662.4 165.2 654.9 171.7 665.3 173.3 652.4 215.0 684.1 131.6 664.7 177.5 657.3 197.3 679.9 139.4 676.9 143.8 643.0 214.4 652.7 188.5 632.7 215.3 657.2 180.6 639.2 216.5 667.4 148.5 658.2 182.6 658.6 165.9 672.2 158.4 667.3 168.5 652.3 174.5 709.8 103.8 664.4 165.7 656.7 175.8 669.0 149.7 688.5 132.1 620.3 258.0 659.4 196.5 663.2 191.3 644.5 214.2 641.8 208.2 661.4 178.0 687.4 139.0 645.2 201.6 693.2 132.4 665.6 168.7 664.4 168.9 658.6 155.1 642.8 207.3 667.5 167.8 678.4 151.4 641.9 215.0 671.9 149.2 675.8 166.5 693.5 101.0 632.7 238.6 597.0 280.2 636.5 203.4 679.5 137.8 668.3 180.5 689.1 120.7 681.2 137.1 666.3 149.2 666.4 166.7 636.0 214.1 683.5 157.5 671.6 152.2 645.1 212.0 661.9 169.1 668.4 143.4 636.3 224.5 654.2 182.7 624.0 240.4 640.9 213.6 660.0 197.6 649.1 198.3 639.8 205.1 668.5 141.3 674.9 135.6 670.4 161.7 679.9 134.9 700.2 113.2 671.9 167.8 662.1 178.4 663.0 162.0 648.3 187.2 682.8 159.8 645.7 193.3 675.9 155.1 651.6 182.6 677.2 147.7 692.1 139.6 654.7 199.8 659.5 178.1 681.2 143.2 688.8 129.5 655.2 197.0 661.8 150.0 650.8 217.4 657.5 165.4 652.7 189.9 674.0 163.7 662.2 154.2 679.2 147.9 606.1 263.7 687.5 139.0 667.3 159.0 631.7 216.0 629.6 208.9 645.9 185.8 699.9 112.6 654.1 192.4 638.8 215.1 667.7 177.2 648.0 200.4 662.0 179.7 657.0 177.4 657.9 178.2 677.3 157.5 685.6 131.6 693.0 148.7 650.1 193.3 643.6 228.6 623.6 239.9 643.4 196.3 690.2 126.7 685.0 149.7 652.8 190.3 626.4 232.8 659.9 183.6 648.7 193.4 656.7 189.4 664.6 179.2 664.3 181.3 685.6 131.8 663.5 182.0 596.8 296.9 689.0 122.4 607.8 275.4 652.0 205.9 663.3 162.1 648.6 202.3 626.8 237.5 640.9 217.4 626.1 225.1 675.9 145.2 676.6 140.6 668.6 171.6 689.3 138.0 661.5 187.7 671.8 162.7 674.5 174.6 708.7 108.1 698.2 121.3 669.7 160.3 674.9 132.0 644.6 196.7 665.8 170.8 675.4 152.3 647.5 209.9 668.4 147.5 667.4 162.8 656.0 177.8 612.7 259.5 658.8 187.7 668.0 175.1 648.6 204.4 675.8 158.5 675.7 143.0 663.9 178.4 658.2 173.0 655.1 175.1 610.1 253.7 709.4 88.0 650.6 216.8 672.7 153.9 696.5 123.5 644.7 186.1 691.2 123.0 693.4 127.0 666.7 165.4 663.8 166.9 706.4 82.7 651.1 194.7 687.7 129.3 671.6 164.2 640.9 203.9 692.9 119.9 661.2 172.2 631.5 224.7 624.7 216.4 630.6 211.6 649.2 187.7 655.0 190.1 692.5 119.4 636.8 211.7 665.8 156.5 650.6 184.5 670.7 169.6 672.2 146.5 656.1 161.4 659.6 170.0 665.5 184.8 658.3 182.8 668.9 147.8 686.7 149.7 642.7 191.3 670.4 140.4 626.7 212.7 672.8 169.3 632.1 219.7 676.9 133.8 649.8 182.5 632.4 223.4 665.6 176.5 661.3 173.4 663.7 163.2 647.8 205.3 630.4 224.4 641.5 190.5 640.8 191.2 640.1 204.8 652.2 172.0 686.6 134.4 685.2 142.3 638.0 217.6 671.9 168.1 630.5 227.8 694.8 123.5 628.6 202.6 676.8 138.0 626.0 196.8 624.4 243.9 703.7 97.5 629.0 230.3 668.7 177.4 671.3 147.2 654.8 190.7 622.1 228.4 634.5 187.9 654.6 182.5 657.5 180.4 626.6 237.0 700.5 127.4 662.9 173.6 672.7 164.8 655.3 180.9 617.4 248.4 683.9 134.4 657.3 171.0 650.0 178.3 650.7 202.7 657.6 188.1 651.6 178.9 694.6 128.4 662.8 137.5 629.3 260.4 655.3 187.5 714.0 94.2 656.0 173.8 668.1 178.0 630.2 224.0 660.9 172.2 650.8 177.7 681.6 163.2 646.9 204.4 695.0 127.4 641.1 195.6 640.3 186.5 650.2 173.0 663.5 178.5 642.8 201.5 684.2 140.2 664.6 169.6 620.8 247.8 679.1 144.5 715.2 88.7 636.2 208.5 670.5 161.8 617.4 211.0 670.6 178.1 646.2 204.9 646.8 203.6 654.3 182.2 648.5 184.3 681.7 143.0 657.8 149.2 678.3 143.4 668.1 147.4 666.6 166.7 633.4 226.9 632.9 192.4 642.4 213.5 676.5 166.8 707.7 107.4 660.4 173.3 662.6 156.5 637.6 215.1 653.5 189.0 645.7 195.8 653.5 177.4 634.5 226.1 653.9 182.2 663.8 176.2 662.1 167.8 678.5 141.4 657.7 168.2 668.9 141.9 680.3 149.8 664.5 178.6 624.6 231.4 639.5 207.9 647.9 194.2 636.0 205.0 675.3 149.8 632.7 209.8 655.7 183.1 604.7 278.6 661.6 165.1 683.7 137.4 638.0 197.3 667.7 156.2 657.6 187.1 629.5 221.9 686.9 133.9 669.5 162.1 656.4 195.8 695.8 116.1 667.9 162.1 630.5 236.2 651.3 185.9 661.6 168.9 659.8 188.1 671.2 176.3 631.2 217.5 663.3 162.2 666.9 161.7 698.0 134.4 686.0 146.6 672.4 150.5 658.1 189.7 634.9 204.8 659.2 165.0 659.9 184.9 649.7 189.5 655.7 174.9 677.4 143.7 657.8 184.2 644.1 203.6 662.0 173.7 650.7 173.4 700.3 104.5 660.6 162.5 679.1 143.4 678.0 138.6 677.8 138.7 654.8 185.9 670.8 166.9 668.3 158.7 690.3 132.4 649.6 198.4 659.4 189.4 681.4 157.5 639.7 207.2 633.9 228.2 646.4 206.2 672.3 160.2 658.0 192.2 639.5 203.3 663.9 160.6 646.4 209.9 663.2 175.0 686.5 136.8 616.4 249.6 622.4 236.2 646.5 194.0 669.0 169.0 679.7 137.5 671.4 178.9 670.8 170.3 634.4 202.1 670.4 164.4 663.9 166.3 675.8 132.1 644.6 182.4 613.7 263.1 670.1 168.4 647.3 204.2 678.4 155.0 637.8 207.2 663.9 190.8 673.1 151.2 659.9 176.8 676.5 126.4 672.2 173.6 648.2 188.2 668.5 169.4 718.7 89.4 649.0 184.6 638.4 201.7 677.2 164.0 648.6 185.6 663.8 173.2 697.2 121.2 656.4 187.0 703.4 107.7 671.4 164.9 665.0 166.8 700.4 137.8 631.8 211.9 608.8 256.6 677.7 154.8 671.0 161.5 678.2 141.5 678.4 136.3 689.8 124.2 656.2 212.7 653.2 172.9 653.9 185.1 670.9 148.4 684.1 147.0 637.3 214.8 685.4 138.8 637.9 206.1 639.3 202.0 641.4 202.6 635.6 213.0 642.0 196.0 682.4 129.5 672.0 150.6 675.4 156.2 657.2 172.0 686.6 144.6 664.3 167.2 663.1 156.1 639.7 224.8 667.2 177.6 640.4 232.0 673.3 135.8 650.2 190.8 631.2 216.3 687.5 130.9 645.9 201.0 674.7 163.5 685.6 134.5 656.7 192.5 678.6 141.5 692.4 109.0 646.1 175.2 649.8 203.0 639.9 213.9 645.6 215.5 674.5 172.9 679.1 160.3 650.0 195.0 672.5 147.5 651.8 177.5 689.1 141.0 662.7 166.2 658.3 182.4 683.2 138.6 653.1 177.3 637.4 203.3 659.8 167.4 638.2 207.7 636.9 211.5 662.1 171.0 617.7 236.3 647.2 198.3 645.3 195.6 674.0 153.6 679.6 131.8 700.5 122.5 647.7 200.7 653.8 185.7 622.8 238.0 620.3 265.0 663.1 160.5 689.5 114.4 642.2 223.2 623.8 250.0 650.5 177.9 635.6 232.3 645.8 198.4 636.2 217.2 645.1 205.1 677.6 145.6 640.3 220.2 657.3 198.4 645.7 206.2 653.5 189.1 680.9 142.2 659.1 169.7 649.7 177.5 677.0 145.0 629.6 226.7 649.7 188.3 643.5 216.2 638.4 219.5 662.4 181.5 637.2 230.5 631.2 215.3 681.4 154.9 659.6 192.9 644.5 212.7 654.2 170.5 670.0 148.3 657.4 178.4 630.4 218.1 690.6 148.4 646.6 208.3 690.3 125.1 689.4 142.1 693.3 139.6 652.9 196.6 670.8 152.5 703.4 92.4 683.3 152.0 621.6 218.3 656.8 195.9 695.6 119.6 653.0 189.0 657.9 184.6 613.9 234.4 683.0 133.0 640.2 209.1 659.2 167.4 641.4 214.5 669.8 157.6 701.5 95.7 630.2 221.0 666.6 146.1 698.1 128.0 675.7 165.7 662.1 176.8 656.3 185.1 630.2 230.7 661.9 158.9 627.5 224.2 664.2 186.9 637.4 220.7 670.8 155.6 668.2 177.3 656.6 176.6 657.1 192.6 657.5 181.5 651.1 188.4 650.7 207.4 625.4 241.0 628.8 231.7 642.7 203.6 645.1 202.8 685.4 151.8 682.6 146.3 698.9 124.8 675.6 155.2 652.7 178.3 675.9 142.8 670.9 147.9 654.9 193.9 642.6 223.2 676.4 161.8 688.3 132.7 609.7 265.4 700.8 124.7 662.2 175.3 638.0 199.4 669.3 165.9 675.8 148.3 666.0 145.6 598.2 283.7 664.8 160.9 656.0 198.8 680.9 153.3 626.1 233.6 644.3 190.4 688.0 131.1 658.8 183.8 627.6 222.3 681.1 127.6 703.0 92.2 669.3 171.3 647.0 190.6 626.5 236.8 672.4 149.6 672.6 145.1 635.6 227.8 680.0 122.4 650.0 212.8 629.8 223.6 655.2 202.9 660.3 184.5 600.9 256.1 622.0 224.0 676.1 130.9 671.3 162.3 668.5 173.7 652.9 198.1 695.8 88.8 668.2 152.8 664.8 184.7 656.3 182.0 678.7 148.2 662.1 162.9 686.8 140.6 659.0 196.9 654.1 194.0 685.7 127.0 682.4 140.6 658.3 185.3 675.9 165.5 697.6 103.5 615.4 242.5 654.9 190.4 624.8 213.7 666.1 170.1 648.4 180.4 698.0 117.5 626.2 232.7 648.5 199.7 650.5 185.0 651.2 185.0 626.4 245.3 691.2 98.4 647.5 203.0 683.9 147.9 617.1 233.3 644.5 209.3 633.0 222.0 665.1 165.5 628.8 216.9 657.1 198.2 683.7 149.4 686.9 168.4 692.3 119.3 639.2 207.0 663.2 165.3 673.5 152.2 638.7 217.8 673.3 149.5 653.6 204.4 692.0 136.1 664.6 173.1 674.5 137.7 650.7 205.5 653.2 156.3 669.7 169.6 663.9 187.7 698.0 114.7 704.4 115.2 675.4 145.7 647.8 182.4 682.1 159.4 658.9 173.2 667.2 171.8 646.1 196.3 676.5 156.6 632.4 223.1 670.2 157.5 647.2 181.9 702.7 113.2 651.2 182.6 648.3 178.8 648.3 204.4 677.8 137.5 639.1 214.0 622.2 232.9 655.7 178.6 678.9 152.1 633.2 204.1 621.0 226.5 673.8 153.9 639.4 210.4 627.3 229.0 698.5 109.5 692.7 119.1 629.2 241.5 674.2 147.3 652.3 183.6 651.8 193.6 671.7 166.9 619.5 260.9 649.2 190.5 620.8 247.8 690.0 134.1 669.8 133.9 674.3 170.4 664.5 190.9 685.7 128.6 665.4 188.0 660.1 183.0 663.2 172.0 656.9 192.5 665.0 156.9 668.0 164.7 643.4 202.4 652.5 196.9 662.8 184.4 663.6 174.5 656.0 163.6 610.2 259.5 645.6 194.7 663.2 167.7 605.4 276.2 687.4 126.3 684.4 145.1 653.3 207.0 689.7 150.6 637.9 206.2 688.6 111.8 667.7 158.5 656.2 195.9 673.9 185.2 673.9 136.8 614.9 240.3 644.7 219.6 611.8 253.2 643.6 204.1 694.9 123.5 650.2 204.5 642.5 201.1 645.6 192.8 666.4 182.1 683.5 136.5 655.8 209.0 669.7 155.0 650.3 195.1 621.5 230.0 609.5 254.5 654.5 203.6 633.9 231.0 633.4 219.6 670.6 154.5 703.5 88.4 614.8 263.7 633.7 221.3 629.0 201.3 648.0 195.2 659.6 188.0 632.8 240.4 645.1 196.3 639.7 199.9 655.7 192.3 653.8 177.7 643.3 191.7 681.5 127.8 660.6 168.5 656.8 184.8 680.3 153.1 637.7 197.8 650.7 206.4 640.2 192.0 666.5 156.4 682.1 145.3 661.5 194.3 649.3 203.2 629.4 242.8 671.2 171.1 671.7 153.5 601.1 248.6 687.6 144.9 678.7 156.8 692.7 124.2 674.0 151.4 651.6 202.3 672.1 141.0 633.6 218.7 633.8 210.9 653.7 177.7 633.3 203.1 693.4 119.4 664.4 176.5 704.1 100.3 669.9 162.3 652.9 207.1 633.3 226.7 618.4 270.2 668.1 166.2 666.6 171.9 644.0 206.5 650.9 209.5 690.9 122.3 647.6 194.9 665.9 156.3 594.2 297.6 659.0 184.1 640.6 215.6 679.1 142.6 661.3 182.8 658.5 191.7 678.1 144.2 650.0 191.5 651.7 190.9 637.7 215.1 690.6 130.0 654.7 175.1 671.1 148.9 624.9 224.3 644.0 201.3 675.8 158.2 682.8 148.2 636.8 217.3 682.1 143.5 654.8 191.6 625.8 245.6 679.0 159.1 686.0 128.1 665.2 176.8 638.0 213.3 678.3 153.5 685.2 134.7 689.8 133.0 659.4 166.2 666.4 165.4 639.2 223.2 647.8 196.8 691.3 139.8 669.3 167.2 647.2 188.3 651.3 206.2 656.7 176.8 669.8 163.1 681.2 133.4 681.2 144.4 662.0 164.4 702.8 108.1 666.4 154.8 639.6 207.8 669.0 171.6 664.1 169.2 666.0 167.8 630.1 234.4 676.9 167.7 662.0 154.4 696.1 126.9 649.4 222.8 671.7 169.3 643.3 212.6 642.0 211.0 699.5 90.9 655.3 187.6 653.4 181.2 653.1 183.2 670.3 167.8 620.0 261.4 658.2 160.3 606.0 270.8 669.0 172.7 646.8 192.8 687.7 143.2 666.8 172.9 664.9 159.6 619.1 249.2 656.2 181.0 643.4 208.3 657.4 165.6 650.3 210.3 656.2 212.7 654.1 185.8 678.9 151.8 617.7 215.9 625.8 232.0 669.6 161.5 646.9 190.2 633.8 216.7 680.3 139.3 657.1 197.8 660.8 179.6 650.3 177.2 672.8 177.9 680.4 149.9 690.8 124.7 636.0 208.1 640.5 208.2 622.0 232.1 677.0 142.0 684.6 137.5 675.6 160.9 656.0 178.4 699.2 120.9 648.2 202.1 693.2 111.1 652.0 184.7 668.5 175.9 654.0 205.5 646.6 207.5 668.2 161.8 685.6 130.5 674.4 155.1 624.4 202.3 701.3 112.7 657.8 197.7 661.5 176.0 681.5 133.6 675.4 148.5 678.8 144.2 644.2 188.4 646.0 188.2 640.3 191.9 645.1 205.4 649.3 189.6 689.1 128.1 681.2 142.0 674.9 133.1 639.5 204.0 662.9 166.5 678.1 160.5 668.0 166.7 653.7 180.1 661.3 172.3 684.4 148.0 680.4 137.2 652.4 188.1 662.0 161.3 667.2 157.3 624.8 221.9 640.3 216.6 661.7 179.7 658.6 168.0 660.7 144.6 651.7 180.4 684.0 126.6 688.0 134.4 670.5 135.8 666.2 161.3 655.7 180.1 663.9 163.8 670.5 162.9 644.0 192.6 710.9 90.9 662.8 171.5 664.3 182.8 662.9 181.8 644.9 202.4 659.0 200.2 646.0 206.5 625.9 229.7 622.3 236.5 640.1 183.9 646.4 218.6 635.9 216.4 662.8 177.4 640.0 204.6 673.6 157.4 656.1 190.1 632.1 218.8 665.8 171.0 632.8 196.6 661.0 177.9 650.7 185.5 653.0 176.8 668.6 157.6 671.2 160.1 695.0 120.9 646.6 199.3 651.7 198.1 675.5 150.7 659.4 159.0 655.4 167.2 625.4 241.0 710.5 85.5 630.7 223.1 664.0 171.0 629.4 228.0 671.1 149.0 682.9 149.6 666.4 175.1 635.5 202.0 675.3 170.8 665.1 173.3 699.9 104.5 645.2 200.0 649.1 196.1 642.5 183.6 626.7 215.1 669.3 157.2 644.4 189.6 688.3 131.3 659.2 181.5 668.1 149.7 677.9 132.7 690.9 139.0 666.4 148.7 635.9 180.6 685.0 125.5 620.5 251.4 624.9 223.9 649.4 201.4 653.3 172.3 693.1 122.6 636.1 214.4 640.8 215.2 619.1 242.2 624.2 231.2 704.6 125.8 637.9 217.2 630.5 233.5 656.7 169.1 644.9 197.6 643.1 207.6 647.2 184.3 653.2 184.7 670.6 161.2 642.1 208.4 651.5 176.2 640.7 205.2 655.0 202.0 626.7 236.0 672.0 160.9 674.0 178.7 701.7 98.7 667.5 150.0 665.4 176.9 642.0 193.1 657.3 174.3 645.6 196.0 668.8 171.2 648.4 174.1 624.7 228.8 667.3 172.0 671.8 143.5 645.8 197.0 649.9 200.9 619.0 234.3 639.9 201.3 647.9 215.8 685.5 135.8 652.7 182.7 682.6 130.4 658.6 165.4 661.7 171.2 636.9 209.6 663.6 182.1 689.7 130.2 645.5 206.4 685.5 126.4 621.4 225.2 664.6 174.5 653.4 209.6 676.4 146.7 608.1 249.0 672.6 158.7 646.5 212.5 651.6 181.8 700.9 119.3 652.6 186.5 679.7 147.0 629.8 216.7 704.6 119.1 658.7 164.5 656.8 177.2 653.7 162.2 666.8 176.3 669.3 184.7 615.8 248.9 676.9 165.0 686.9 133.2 651.3 222.3 650.1 182.8 678.4 145.7 649.5 185.0 654.5 185.7 689.7 143.7 665.6 155.6 671.0 137.8 641.2 189.6 655.6 188.2 694.2 119.9 653.4 180.0 664.0 175.5 682.1 140.9 679.6 143.1 698.0 105.3 611.6 274.5 623.6 218.4 706.4 100.7 636.4 212.6 660.1 181.2 644.6 188.7 666.3 158.2 656.3 179.1 628.9 214.9 678.9 152.0 633.1 209.9 636.0 223.1 646.1 201.3 676.1 130.4 664.0 175.7 677.7 155.8 665.2 169.2 658.2 175.7 656.8 174.3 663.7 168.1 691.0 125.7 666.1 163.8 652.6 158.4 649.2 209.3 647.5 191.2 634.6 206.3 636.3 223.0 671.9 149.4 653.8 177.8 674.4 181.0 681.6 119.4 664.5 149.1 629.3 218.5 690.8 134.3 648.4 194.6 660.2 181.5 610.9 262.0 648.8 173.6 684.2 159.8 654.5 207.6 676.0 156.3 662.4 162.6 667.0 174.7 673.0 146.2 647.7 201.6 669.7 160.7 649.7 191.5 660.5 170.0 646.0 190.8 644.1 202.4 665.0 177.4 686.8 147.9 646.0 183.7 629.3 220.1 650.8 177.5 644.7 206.5 646.2 189.8 678.3 135.9 633.1 204.1 659.6 175.5 642.5 188.1 644.2 213.8 680.4 145.2 682.2 150.6 672.0 169.9 698.1 112.6 678.2 135.8 637.3 219.1 644.5 204.8 643.1 208.0 678.3 152.1 688.5 120.5 635.9 202.2 665.9 181.6 669.9 153.9 655.2 177.5 676.4 156.4 663.8 187.6 678.4 148.3 663.8 182.6 652.9 181.4 665.3 162.4 637.0 196.3 664.0 174.6 624.9 229.5 650.0 194.4 646.4 191.7 684.6 142.9 646.8 201.3 649.6 203.3 679.3 144.3 650.1 189.3 674.8 132.9 650.9 185.1 679.1 147.7 642.0 192.4 608.5 248.1 599.5 278.2 605.0 262.5 642.4 206.6 675.6 153.2 652.6 185.8 643.0 204.7 694.4 127.6 641.1 201.4 667.4 169.4 658.4 198.2 652.3 194.5 658.4 166.3 691.5 119.9 683.0 133.2 657.4 177.4 667.1 173.5 647.1 212.8 634.9 231.2 649.6 192.5 632.6 223.3 674.5 150.9 642.1 211.2 630.0 199.9 664.9 177.2 649.0 178.4 684.7 143.0 651.5 174.8 622.7 215.2 607.2 242.0 646.6 180.6 687.7 125.7 667.3 180.6 679.5 163.5 690.8 124.1 642.2 193.9 671.0 173.3 643.4 189.1 659.3 176.0 664.8 179.9 623.5 232.1 633.0 193.7 656.8 187.0 640.3 201.5 609.4 253.9 628.9 231.7 690.4 114.8 647.8 178.7 685.8 127.7 656.2 164.4 655.5 180.5 669.5 151.9 668.9 173.2 646.9 183.8 665.9 167.7 665.4 186.6 669.4 161.9 633.3 235.2 673.5 167.2 668.3 154.7 674.8 144.9 673.2 167.4 665.1 202.8 655.3 177.6 653.9 200.2 649.5 185.6 634.2 206.5 676.3 147.0 666.5 143.9 698.1 108.0 658.0 181.6 656.2 188.2 663.7 171.5 656.4 178.9 671.9 173.3 639.3 213.8 635.8 215.9 653.5 204.7 642.0 221.1 646.4 195.7 669.6 178.6 646.0 186.1 656.9 176.3 651.3 198.5 634.3 230.3 664.7 167.7 668.1 160.5 624.3 223.8 663.6 201.1 657.8 175.2 638.1 203.8 655.0 196.2 687.6 129.5 600.4 280.8 655.7 189.4 661.5 190.9 642.6 197.0 644.1 201.5 671.3 163.6 679.0 151.6 654.3 182.4 652.4 172.8 645.8 183.5 668.8 161.5 677.1 159.6 679.6 139.8 654.9 213.8 684.5 121.2 702.1 100.9 653.7 192.5 643.2 206.0 643.7 211.1 639.1 206.2 709.8 107.2 647.6 203.9 654.6 205.4 671.3 160.1 641.9 210.8 673.2 166.5 667.3 179.9 684.9 143.8 629.0 232.6 668.2 173.5 664.1 178.0 650.0 196.3 649.8 203.6 657.9 171.4 676.4 146.9 645.3 193.8 680.1 155.7 611.0 262.0 660.0 175.4 651.6 190.8 684.6 145.7 665.0 176.1 680.2 139.1 639.3 195.2 676.6 133.7 686.1 138.8 656.9 173.6 655.7 174.5 647.2 194.1 656.7 180.1 660.5 175.6 648.8 180.0 662.8 162.7 712.0 102.1 674.7 158.9 645.0 209.6 702.5 106.5 658.7 183.8 656.8 177.7 656.5 166.7 659.6 182.4 659.9 164.8 682.8 138.2 684.4 139.7 688.0 133.7 639.7 210.2 636.0 207.5 652.2 168.1 633.7 217.5 655.0 187.3 664.4 156.2 689.1 122.6 653.2 194.8 643.3 188.7 656.6 184.7 651.8 186.3 657.0 172.9 637.4 218.4 652.7 189.5 634.7 211.8 613.4 267.7 659.9 180.5 667.3 184.6 665.7 165.1 629.8 227.1 672.8 167.8 665.9 175.3 650.9 209.8 657.5 182.0 669.2 172.0 671.0 159.1 672.1 148.4 673.7 160.8 664.1 182.2 685.7 122.7 669.9 168.1 644.7 189.1 662.2 168.5 669.9 148.6 652.2 196.9 695.9 137.9 630.9 232.7 663.9 169.2 680.7 125.0 675.4 161.9 669.4 156.7 709.6 111.5 653.1 191.4 661.8 162.0 660.6 165.1 648.5 190.1 661.4 173.4 673.7 150.0 662.6 162.3 672.6 158.4 651.7 191.1 647.5 194.7 672.4 153.7 661.9 192.5 662.8 175.1 686.5 138.6 654.8 185.5 670.8 167.1 650.6 180.4 644.1 193.9 643.2 202.7 660.9 144.2 662.6 159.2 655.0 170.2 645.5 195.9 648.3 184.9 657.8 187.3 671.5 174.3 688.5 109.3 704.6 132.5 661.5 188.5 602.7 272.5 721.9 83.5 640.0 207.2 690.3 111.3 669.4 148.1 675.8 174.4 664.6 175.7 643.5 200.5 666.6 167.8 661.8 195.4 645.6 209.9 650.0 180.5 680.3 144.9 629.9 231.2 631.1 245.5 674.7 142.8 629.8 198.3 652.1 197.4 677.1 138.9 644.5 200.0 657.0 192.8 628.4 243.2 659.4 173.5 701.7 111.0 687.0 141.5 689.2 127.3 652.8 182.6 666.0 132.4 693.5 124.3 682.0 149.9 660.8 186.1 667.0 159.7 685.6 126.9 657.3 182.1 671.9 146.8 677.3 147.8 691.8 129.2 657.2 188.3 652.2 187.7 650.4 188.4 656.9 184.6 624.3 245.2 672.2 168.5 623.4 222.6 657.2 186.4 643.2 183.0 662.0 187.7 657.0 181.4 654.0 188.6 659.5 191.1 637.4 231.9 640.8 216.5 674.8 140.2 680.3 154.4 668.6 159.5 668.9 156.1 687.9 125.8 663.5 196.6 678.9 154.5 639.5 232.1 670.3 156.0 641.5 198.8 619.5 230.7 617.8 237.2 626.7 217.2 694.9 109.9 659.0 173.7 653.1 177.6 643.1 213.1 662.3 169.5 644.0 213.3 672.2 164.3 658.4 177.3 680.4 129.5 639.5 212.9 655.4 176.5 677.6 148.3 686.8 119.5 678.6 139.6 679.5 151.5 654.3 174.5 645.5 194.1 652.4 189.5 678.4 128.9 658.9 177.8 668.5 173.6 672.0 181.2 654.0 202.3 646.2 183.5 597.6 308.6 648.6 183.6 675.2 172.5 667.2 185.2 649.1 183.3 666.7 185.5 638.1 218.6 621.4 249.3 635.3 219.3 654.8 172.3 640.3 188.1 655.4 202.2 713.5 102.0 686.7 106.5 650.4 178.9 645.3 177.5 658.7 157.2 663.4 169.7 663.4 179.3 656.2 166.5 664.3 152.1 658.5 173.0 673.5 127.7 621.8 255.6 624.0 252.8 604.6 271.6 638.4 223.3 695.9 117.7 665.5 175.3 702.6 93.6 708.4 96.8 657.6 174.9 638.2 217.1 719.0 81.2 673.0 159.9 642.3 214.8 670.9 156.0 653.1 208.7 668.4 168.2 688.4 138.5 676.8 129.9 699.8 116.2 638.0 231.3 662.2 174.7 610.9 252.4 669.7 156.2 663.1 161.9 664.9 160.1 699.1 108.5 670.7 144.3 690.5 133.6 634.5 211.2 654.5 182.5 669.7 156.6 617.5 239.6 647.2 199.9 662.0 175.7 692.1 124.4 644.2 226.2 642.3 200.7 662.7 161.5 644.3 204.7 665.0 172.7 628.6 229.4 662.4 153.8 706.2 107.9 685.3 119.4 660.5 191.3 681.4 149.6 691.9 109.0 680.2 151.0 651.1 206.2 679.8 142.4 642.9 209.0 642.2 205.8 640.2 202.2 641.0 212.2 693.6 118.2 648.9 196.9 624.4 233.5 682.9 143.4 640.0 223.5 647.0 206.7 691.5 133.7 673.4 147.1 664.2 179.0 660.4 192.9 692.8 122.6 660.8 163.2 642.0 204.2 647.7 199.6 700.5 128.6 664.0 165.5 646.2 186.5 663.3 174.2 659.2 175.3 661.4 188.3 635.6 223.1 648.3 193.5 643.2 205.8 640.0 203.0 630.6 221.8 659.5 182.3 693.8 129.4 635.5 210.0 675.3 165.5 683.1 131.9 639.8 212.8 689.8 144.6 653.8 196.6 670.0 165.1 667.2 138.4 633.4 221.1 671.9 171.8 664.8 158.7 656.0 194.5 667.6 187.7 671.2 155.3 649.0 183.2 636.4 192.8 665.3 164.5 667.6 173.4 676.2 150.7 663.9 155.6 664.6 151.5 615.7 257.5 643.5 184.4 689.9 131.5 642.5 224.2 629.5 218.2 658.8 175.9 681.9 158.3 663.0 182.4 626.0 231.1 642.4 199.7 677.8 160.9 613.9 239.1 681.8 151.8 656.5 192.4 666.3 158.9 675.2 139.3 667.2 170.7 649.5 195.4 641.0 203.0 613.5 239.8 656.0 189.9 634.7 219.3 684.3 145.1 619.2 270.8 622.2 230.4 685.9 142.7 637.6 201.6 644.4 206.9 647.9 181.2 685.4 132.8 668.8 151.6 677.6 163.0 655.7 190.6 686.7 140.7 671.3 138.4 612.6 246.4 669.4 167.3 647.7 220.5 674.6 164.4 659.4 155.2 645.5 205.1 655.8 176.4 665.8 195.4 686.8 130.0 641.2 195.2 647.8 191.2 632.5 231.7 673.2 167.7 630.9 217.2 673.3 167.5 631.1 238.8 661.5 172.7 649.9 204.9 676.4 170.8 623.8 237.5 625.8 233.4 649.9 207.9 666.0 167.3 684.0 125.7 666.5 155.2 688.4 121.1 643.6 202.3 685.5 133.9 653.4 197.8 642.0 215.6 656.9 190.0 616.3 260.4 645.4 178.7 633.8 204.4 691.2 144.3 631.7 215.5 627.7 228.0 638.0 207.5 628.7 222.7 627.9 218.2 657.2 194.0 663.6 181.7 603.3 273.9 675.2 142.9 605.4 265.2 648.7 195.3 656.7 184.2 639.4 201.2 602.4 266.2 651.0 175.2 679.9 124.5 693.6 115.8 641.9 214.8 639.5 222.6 672.9 157.4 661.8 171.0 664.5 168.8 649.1 190.1 680.3 144.1 630.2 209.6 655.9 183.0 641.7 192.0 707.0 98.6 674.1 157.9 650.8 189.6 665.6 173.2 684.9 135.7 640.5 231.4 698.5 114.0 661.6 163.2 662.7 159.8 622.0 245.7 619.8 253.2 632.4 207.5 654.5 199.9 624.2 235.3 709.5 100.4 654.8 181.5 636.2 204.9 641.7 191.1 653.8 218.6 661.7 177.7 686.2 157.6 641.7 213.7 658.6 195.8 659.2 181.3 660.5 182.0 648.8 191.9 637.8 206.6 643.1 202.9 661.5 167.1 652.0 177.7 703.2 109.6 672.1 159.4 673.5 164.5 695.1 131.4 626.1 224.4 683.1 139.4 686.7 160.6 646.5 207.0 660.0 174.7 679.5 145.7 630.1 235.5 711.2 93.4 626.2 230.7 698.9 130.7 673.6 166.7 651.6 183.9 657.3 191.2 653.2 190.2 620.9 227.3 650.7 183.0 698.7 108.0 635.5 230.0 669.8 169.9 663.9 171.4 641.5 207.4 676.4 143.3 633.6 208.2 681.3 132.2 668.5 147.7 655.5 185.1 694.8 132.3 666.8 151.5 629.7 223.2 667.3 163.2 647.0 202.5 656.3 185.1 639.8 183.5 665.5 188.0 670.1 153.0 660.5 172.3 644.6 190.0 661.9 178.8 670.7 159.5 669.7 166.2 635.5 218.8 707.2 108.1 653.1 169.2 648.6 183.0 657.8 173.3 642.9 198.9 657.4 186.4 652.6 204.0 656.8 177.5 703.5 116.9 690.3 134.5 673.7 165.3 662.6 177.6 644.2 207.6 682.7 126.9 691.5 110.6 677.1 150.0 699.3 107.6 642.9 204.4 643.6 199.6 686.9 138.8 682.1 137.7 643.0 220.9 617.4 272.8 615.2 229.2 713.2 89.3 681.6 142.6 645.0 194.6 666.1 165.2 603.3 260.1 653.6 198.6 693.9 133.7 667.0 151.6 644.8 197.9 647.3 204.8 635.5 230.8 648.3 175.6 674.4 142.8 645.1 194.2 655.6 199.3 647.9 202.8 640.9 220.1 641.1 228.0 649.5 199.7 695.4 124.8 696.1 96.3 678.0 163.4 624.8 222.8 669.7 157.9 643.5 191.7 626.1 230.0 656.0 172.2 661.6 175.1 651.9 176.6 686.8 126.3 671.3 175.0 674.9 155.6 687.4 113.4 639.9 189.9 653.6 195.7 685.6 132.3 672.9 137.8 671.8 152.4 677.1 156.6 652.5 180.7 645.9 196.9 665.9 185.2 682.1 136.1 620.3 238.5 694.9 113.5 648.3 175.0 664.8 148.8 684.6 120.0 667.6 146.0 676.9 160.2 646.8 208.7 674.4 149.5 662.7 171.8 669.3 156.6 643.4 207.7 694.0 115.5 643.7 184.5 654.2 186.4 626.5 231.3 661.0 180.1 641.7 228.3 656.4 184.1 627.7 230.8 653.7 183.2 639.3 217.1 628.5 211.7 651.0 178.8 634.2 196.7 641.7 235.0 639.8 214.8 670.5 148.1 670.0 155.3 673.7 150.0 638.3 210.8 673.4 143.2 643.8 205.2 669.6 162.5 653.2 158.6 629.7 227.4 652.1 177.0 685.2 133.8 632.3 211.2 646.0 197.2 650.3 173.8 602.6 255.7 676.6 150.6 653.7 190.6 631.6 227.7 655.2 192.5 671.2 141.2 677.2 128.3 649.0 212.8 667.2 172.7 654.8 181.8 655.5 172.4 667.6 176.5 642.5 209.3 701.0 108.3 689.4 119.3 652.2 197.4 662.0 161.1 646.7 206.2 669.2 150.8 680.9 149.7 657.0 183.9 615.5 234.2 661.9 168.0 697.1 108.1 668.7 163.6 657.4 183.5 662.1 151.2 655.0 162.5 634.7 211.5 687.2 127.8 647.5 203.8 665.5 146.5 619.1 245.9 661.5 168.7 665.9 151.3 660.4 205.8 660.6 178.3 646.7 211.8 637.4 217.0 674.7 152.9 636.3 230.1 653.3 173.9 677.5 122.6 652.7 190.7 666.6 165.7 656.1 163.1 620.9 234.9 609.9 269.6 658.4 172.0 640.0 214.9 638.5 196.2 667.3 171.8 681.3 118.1 654.3 198.6 668.6 164.7 661.6 196.6 652.9 158.7 647.9 194.8 661.2 177.3 671.8 152.8 658.2 176.9 647.8 189.8 633.9 192.5 644.2 183.0 659.1 182.1 691.1 122.7 684.6 138.0 653.4 180.5 665.3 178.9 657.4 183.9 627.9 244.6 652.0 182.2 684.8 144.1 640.2 194.4 683.4 137.2 658.1 194.5 610.4 237.2 639.2 231.8 636.7 183.2 689.5 109.8 651.4 170.6 645.0 179.7 677.0 135.4 653.1 187.2 654.6 191.7 649.2 191.1 639.5 236.0 662.3 167.4 658.9 178.2 665.8 164.2 636.3 221.7 658.8 194.2 669.0 161.0 674.7 157.8 649.8 196.9 637.0 212.5 700.4 97.1 655.9 168.0 677.5 162.2 635.7 213.3 645.3 233.2 678.5 167.4 656.3 194.6 665.5 170.8 664.9 169.6 670.0 157.5 665.8 167.1 663.3 172.6 636.3 230.0 657.4 175.2 655.0 195.4 656.1 175.6 694.3 125.7 673.0 134.1 657.6 191.6 654.6 179.5 643.8 190.4 683.7 144.5 682.4 144.9 659.9 157.7 669.6 150.5 665.3 164.1 648.0 201.3 636.5 220.0 664.0 187.8 651.9 170.3 656.4 180.4 641.1 199.1 615.6 232.6 657.1 182.1 675.8 135.4 653.8 215.9 638.8 195.3 645.3 193.4 635.4 215.7 699.1 105.4 650.2 178.1 637.7 218.5 607.4 255.0 665.7 170.3 673.1 155.9 692.7 113.8 627.7 231.8 692.2 135.2 665.8 169.0 689.6 110.5 675.5 135.8 652.6 177.5 647.8 176.7 691.1 127.3 632.9 225.5 677.2 157.0 711.6 84.4 643.6 192.3 678.9 158.7 652.6 159.4 642.8 193.3 624.2 250.3 701.5 129.1 643.0 200.5 665.4 165.4 661.8 186.1 631.5 222.4 633.4 220.4 647.7 198.0 668.5 149.7 650.3 206.7 646.7 199.4 628.0 243.0 645.4 199.5 624.3 232.6 640.7 183.6 622.8 247.8 640.4 206.2 650.4 194.1 645.8 199.0 643.9 210.8 679.9 167.0 698.9 122.7 695.7 129.3 665.1 158.5 651.6 192.5 668.0 148.5 667.0 176.0 632.1 253.1 659.7 187.9 653.7 191.0 677.7 126.2 675.6 172.2 682.1 133.0 676.9 154.3 638.4 218.7 644.4 191.2 662.6 179.5 658.7 157.6 620.0 230.3 660.8 166.2 653.0 189.6 669.4 156.9 656.3 170.9 691.3 134.9 687.9 132.9 700.6 121.3 646.1 203.8 655.0 182.1 661.7 194.6 652.3 188.3 680.3 151.7 654.9 175.4 612.0 267.8 659.7 181.3 663.2 174.6 673.8 142.7 642.0 205.7 666.5 157.0 670.7 170.4 675.2 167.9 662.9 174.9 661.2 168.5 671.7 170.6 683.9 134.6 678.5 151.9 678.6 157.9 602.8 268.1 697.8 119.6 643.2 222.5 649.3 196.2 637.8 222.5 643.1 221.4 649.2 187.9 651.7 174.2 657.6 184.0 640.6 206.9 660.7 185.5 695.9 120.5 672.6 174.1 686.0 141.1 641.2 206.1 682.7 149.7 654.5 190.3 669.1 163.3 670.3 141.7 723.5 81.8 660.1 193.5 676.8 160.4 661.6 183.9 673.2 152.7 690.2 116.6 651.3 205.8 657.7 180.8 682.8 137.4 646.4 203.5 640.2 212.3 704.4 116.8 658.4 168.0 660.6 170.7 702.2 123.0 666.5 166.0 646.1 223.8 699.7 110.9 654.7 172.8 656.4 205.3 640.7 213.5 647.1 201.7 664.5 147.9 657.3 173.9 649.6 184.3 690.8 130.7 666.2 166.6 606.9 257.0 646.4 197.7 659.8 171.4 636.2 217.3 653.2 201.9 678.1 148.4 674.1 171.5 676.6 162.8 655.1 191.4 655.6 168.8 688.8 125.7 679.7 129.2 656.1 208.1 632.4 218.2 660.2 160.5 658.5 184.8 654.5 181.2 644.5 212.3 618.7 240.4 621.4 240.5 676.8 167.2 629.6 214.3 623.9 235.2 671.2 155.0 653.5 205.7 665.0 160.1 627.0 240.4 628.7 219.3 634.4 230.4 632.1 208.7 684.3 142.2 680.2 144.4 661.0 180.7 667.3 183.4 627.7 230.9 639.8 196.0 666.0 153.6 663.4 175.1 630.3 210.4 649.8 194.0 630.5 236.8 639.7 210.4 627.4 228.5 617.0 229.0 678.6 170.9 671.3 138.6 651.0 181.1 666.1 160.0 645.2 214.8 601.4 288.5 635.5 204.7 674.5 156.8 665.3 157.1 667.2 177.9 661.2 167.2 691.5 120.6 662.3 187.2 685.6 139.2 647.7 176.5 689.6 137.9 649.7 180.6 655.4 183.6 649.4 203.5 710.5 101.4 705.1 115.6 654.5 165.8 638.8 227.5 634.8 230.3 660.6 175.3 673.9 144.1 656.5 204.0 672.9 166.1 670.4 163.0 634.2 222.0 637.0 213.2 668.2 171.0 696.5 118.9 677.9 140.9 636.1 227.8 664.7 187.0 683.2 148.5 634.3 216.9 698.1 87.3 637.3 204.1 702.7 102.9 688.0 166.5 657.9 200.6 669.6 154.7 672.5 163.6 687.4 141.4 669.7 153.0 609.8 245.4 681.4 137.1 698.3 113.0 651.6 209.8 637.7 215.1 646.0 189.8 690.1 131.4 664.9 185.5 658.6 205.5 677.4 153.7 638.0 206.1 661.1 183.2 620.1 243.8 641.7 201.7 650.4 197.6 640.6 209.3 689.6 136.9 659.3 185.9 663.2 166.4 694.5 115.8 634.8 219.8 652.6 204.0 660.8 171.0 661.0 166.3 665.2 160.5 629.4 218.3 613.7 251.8 664.6 172.0 646.6 192.0 681.5 136.1 647.6 186.2 696.8 127.3 627.2 249.2 712.7 87.9 653.9 180.3 697.0 114.5 653.1 181.5 647.5 213.0 621.0 246.6 701.7 102.9 671.4 163.7 619.3 244.3 660.3 160.4 668.5 154.9 624.0 240.1 663.9 167.1 630.5 231.8 632.0 216.7 654.0 200.1 700.3 129.9 635.7 198.9 609.7 247.2 678.8 156.6 615.9 242.6 657.1 206.9 655.1 183.0 676.2 138.7 580.0 307.3 578.7 294.2 583.5 299.3 587.5 299.3 589.8 299.3 590.5 294.2 596.8 296.7 602.3 289.9 589.3 287.3 592.8 287.8 588.8 282.2 592.0 283.1 593.3 276.7 597.8 282.2 598.3 281.0 594.3 269.5 597.3 267.8 603.6 276.7 608.4 275.0 618.9 267.3 745.1 41.4 742.3 48.6 730.0 61.4 736.7 64.4 718.2 61.4 717.7 63.1 716.7 66.5 722.0 65.2 718.9 70.8 718.4 69.1 707.6 69.5 727.3 69.9 727.3 76.7 726.8 75.9 703.5 78.8 717.2 77.1 722.5 80.1" fill="none" marker-start="url(#m)" marker-mid="url(#m)" marker-end="url(#m)"/><path d="M580.0 307.0L745.2 38.7" stroke="#4466dd" stroke-width="1.1"/><path d="M578.20 328.6v5M568.0 315.00h-5M628.50 328.6v5M568.0 229.90h-5M680.45 328.6v5M568.0 144.80h-5M731.05 328.6v5M568.0 59.70h-5" stroke="#666" stroke-width="1.2"/>
<rect x="36.0" y="400.0" width="197.0" height="327.5" fill="#e5e5e5"/><path d="M71.35 400.0V727.5M121.90 400.0V727.5M173.80 400.0V727.5M224.60 400.0V727.5" stroke="#f8f8f8" stroke-width="0.95"/><path d="M36.0 670.95H233.0M36.0 585.85H233.0M36.0 500.75H233.0M36.0 415.65H233.0" stroke="#f8f8f8" stroke-width="1.05"/><path d="M46.20 400.0V727.5M96.50 400.0V727.5M148.45 400.0V727.5M199.05 400.0V727.5" stroke="#fff" stroke-width="1.3"/><path d="M36.0 713.50H233.0M36.0 628.40H233.0M36.0 543.30H233.0M36.0 458.20H233.0" stroke="#fff" stroke-width="1.5"/><path d="M148.2 539.1 115.1 598.9 158.5 522.7 161.0 523.2 160.9 515.2 166.9 511.7 129.6 561.2 119.0 590.5 144.1 534.3 147.7 527.9 156.8 527.9 128.0 562.9 143.9 547.4 123.1 584.2 162.0 524.8 183.5 483.7 174.9 502.4 142.4 565.2 155.3 564.3 172.4 501.1 148.7 531.8 149.1 533.8 149.5 530.2 150.4 552.8 167.5 509.9 152.6 536.3 171.1 536.1 121.4 595.9 177.6 499.4 158.7 534.2 169.3 499.1 161.4 539.0 163.1 533.5 178.3 497.4 137.7 574.5 156.4 553.5 188.6 485.9 175.8 491.6 154.6 530.1 126.6 570.8 157.3 539.4 197.9 463.0 175.0 505.8 156.1 537.7 133.9 583.3 138.8 553.2 147.1 559.7 158.2 526.6 177.0 506.2 158.0 529.2 156.6 558.4 171.3 504.6 171.6 518.9 166.9 508.7 180.4 506.4 161.6 527.6 158.4 542.5 189.7 489.2 143.5 557.1 130.1 582.4 155.8 525.3 195.1 473.6 160.5 514.3 118.9 576.5 156.5 521.7 178.4 496.1 170.8 518.2 117.8 590.3 180.3 510.3 120.2 608.3 157.7 519.8 159.9 522.9 144.8 530.1 168.5 533.5 146.4 563.2 145.9 547.7 164.6 519.8 156.5 538.5 149.6 525.2 155.3 530.2 156.9 540.1 151.9 516.0 109.1 590.3 185.6 473.5 151.5 545.2 180.0 471.5 169.5 531.4 181.9 492.4 138.2 565.8 161.3 518.4 171.0 504.8 109.8 618.0 175.4 515.6 152.5 524.2 137.2 563.0 146.4 565.6 143.4 542.6 176.5 485.2 166.7 513.1 144.2 546.4 184.7 483.0 189.2 491.8 142.9 552.6 135.9 543.1 161.6 525.9 150.9 533.2 145.8 555.9 160.5 533.8 168.6 519.6 188.5 480.9 167.5 503.2 139.1 565.8 153.8 507.6 157.9 553.0 166.6 524.7 141.6 553.9 172.2 510.1 192.8 471.2 154.5 509.7 172.3 491.0 175.9 513.1 160.2 535.9 178.1 502.4 149.2 546.0 171.9 496.8 189.9 496.3 179.5 506.7 168.9 507.9 187.3 492.2 140.8 555.8 164.9 503.1 145.8 538.3 184.6 489.1 141.5 556.1 157.0 517.5 142.9 557.9 183.9 487.2 174.2 509.6 165.0 493.0 187.5 497.1 160.2 505.3 118.2 581.9 145.1 527.7 170.5 502.6 180.3 499.1 145.8 547.0 121.3 582.5 148.5 555.1 151.9 543.5 120.6 586.0 166.3 518.9 142.7 554.9 159.5 541.9 187.8 471.0 162.8 536.9 145.7 536.8 170.4 501.5 155.9 542.4 147.6 554.0 169.7 510.3 166.6 528.7 170.2 520.5 143.4 547.9 157.3 532.0 143.6 546.3 157.3 514.6 176.6 504.8 153.2 536.9 161.8 531.3 184.6 496.8 166.4 523.7 187.4 476.2 147.0 543.7 117.7 596.2 169.7 513.7 141.2 554.0 116.1 591.8 144.0 534.9 147.9 528.4 147.3 544.3 197.6 473.1 152.9 534.8 158.7 513.6 165.9 513.3 158.4 516.8 120.8 576.3 155.1 512.9 146.7 527.5 157.7 536.0 155.0 543.7 172.8 504.5 187.6 484.3 150.1 527.9 153.5 545.7 158.2 541.9 116.9 594.6 200.9 461.3 178.4 491.5 153.1 549.2 111.4 597.9 163.8 545.3 142.7 561.7 133.1 578.6 149.4 527.7 158.8 520.3 107.8 579.2 136.9 577.3 142.5 541.6 156.2 532.6 127.1 575.9 185.3 489.1 178.7 499.4 147.0 570.2 133.7 569.4 151.4 551.3 141.4 552.4 149.3 538.6 146.4 551.4 114.4 598.5 163.9 519.1 159.5 539.7 137.5 545.0 142.0 548.8 161.6 528.4 172.8 513.3 167.0 508.6 135.6 563.4 191.7 466.6 166.2 510.8 158.4 525.5 149.2 537.8 171.9 496.6 182.3 488.1 169.4 503.8 122.1 589.0 150.5 537.6 178.5 502.4 162.4 545.8 137.3 553.1 153.5 516.7 157.7 519.2 142.1 554.2 160.7 516.5 175.8 511.2 138.4 562.3 155.7 548.7 177.5 504.9 175.7 493.7 155.9 545.4 154.4 543.0 142.1 582.8 153.4 550.3 188.1 489.2 118.3 571.6 172.1 512.9 148.9 517.6 154.7 541.1 182.2 498.9 181.1 486.9 138.2 543.7 147.4 546.5 144.8 563.9 164.9 500.4 139.3 562.4 173.5 506.2 155.3 539.8 152.2 532.4 178.7 508.8 121.5 576.8 163.7 520.3 146.4 547.9 166.9 521.4 146.9 553.9 160.8 532.2 121.5 580.0 118.6 574.9 186.9 490.2 163.5 535.2 155.3 537.3 165.6 513.2 147.2 544.6 107.7 603.9 167.2 518.3 162.2 512.4 129.4 567.8 173.7 499.3 121.2 573.4 160.5 524.2 168.8 495.9 172.6 510.7 140.5 555.5 139.6 558.9 153.4 528.7 142.2 547.4 145.1 560.2 150.5 533.9 185.6 494.5 174.7 511.4 133.5 567.7 157.6 538.1 145.1 553.7 167.0 511.9 149.2 535.5 142.9 555.9 116.2 589.0 150.4 539.8 160.1 543.8 172.9 503.3 195.9 492.0 166.6 525.9 180.3 500.3 135.5 566.0 117.7 594.8 151.5 551.4 154.4 519.9 146.5 560.2 149.9 523.1 136.9 596.7 134.4 558.0 161.4 514.3 149.4 555.0 171.2 523.8 156.8 544.2 131.4 588.5 181.3 488.5 184.0 489.6 152.2 558.3 141.9 547.1 164.9 512.5 151.6 534.6 141.2 582.3 152.3 539.2 163.4 511.4 125.3 595.6 166.4 514.9 128.5 589.2 175.3 513.2 169.5 523.4 150.3 550.0 155.3 529.7 158.4 531.8 173.1 498.1 199.1 465.0 151.6 536.9 144.7 548.5 154.3 544.7 150.3 534.8 154.5 534.0 114.9 600.5 182.1 502.1 158.0 526.2 142.1 556.8 182.1 486.6 135.2 560.7 173.4 514.6 176.3 497.5 137.5 562.4 122.7 572.6 159.0 530.8 156.7 530.2 171.6 509.7 115.4 598.3 162.5 528.1 161.7 538.9 168.4 516.1 138.5 561.4 106.6 614.6 173.5 501.8 97.3 647.0 169.9 523.9 104.4 605.7 162.6 539.5 162.6 536.2 162.4 523.8 150.6 542.0 164.7 530.1 175.6 512.8 147.7 568.5 171.7 514.9 160.8 530.4 122.2 592.9 133.6 549.6 165.2 524.0 182.1 505.8 164.2 528.6 167.4 499.3 176.8 498.2 181.5 499.9 172.6 526.5 106.5 611.3 149.2 561.5 167.6 517.6 101.9 601.5 136.1 565.4 137.7 565.5 171.7 497.6 174.5 511.0 144.9 526.6 159.7 527.9 91.8 615.4 155.3 527.6 156.1 538.2 156.8 520.0 100.7 591.9 172.5 494.6 125.3 565.1 151.3 534.8 169.8 507.6 156.0 563.6 151.2 548.7 199.8 466.1 156.5 523.1 112.0 593.5 156.5 543.8 164.0 526.8 152.7 550.5 162.7 531.0 186.4 489.2 190.3 478.9 143.0 566.3 162.6 517.0 150.0 551.2 175.9 511.1 161.7 517.6 153.9 552.0 156.2 546.3 149.0 543.9 152.3 539.1 164.1 527.8 160.4 532.2 153.7 524.8 147.5 536.7 124.9 589.4 129.3 573.2 169.8 505.5 179.3 507.2 151.5 543.6 156.4 542.0 149.8 533.3 173.8 510.3 156.5 541.1 143.6 524.9 137.6 582.7 122.6 590.8 148.0 550.4 145.7 548.4 160.7 521.7 183.5 505.5 106.9 613.0 143.0 549.2 147.5 556.6 139.8 567.6 193.5 462.8 156.1 543.9 165.8 508.5 140.1 560.9 161.2 527.2 179.4 509.3 139.2 555.0 160.2 531.2 138.0 566.2 164.2 513.0 138.0 567.6 96.1 618.4 180.1 488.1 122.3 580.0 178.2 488.7 121.2 552.0 130.6 575.7 140.0 579.8 152.3 528.7 136.4 578.9 178.8 481.6 166.5 514.2 145.2 573.1 158.3 526.7 190.7 478.7 149.9 547.6 140.5 559.8 178.9 503.5 124.5 587.3 196.0 462.5 165.8 493.0 144.9 555.7 125.1 575.1 153.7 533.5 186.6 483.3 171.6 524.8 136.1 571.8 169.9 507.7 151.8 522.3 179.7 500.5 155.3 549.1 161.7 534.2 171.5 504.8 117.8 595.5 169.1 497.1 138.9 567.5 135.7 571.9 173.5 525.6 158.8 520.9 166.4 522.1 166.6 517.7 153.3 525.0 153.3 533.8 169.4 504.8 158.9 534.1 128.9 574.8 116.2 594.0 149.8 554.8 135.1 559.0 152.5 550.8 162.3 518.8 133.2 546.3 157.1 544.2 169.2 521.2 166.9 529.8 183.6 480.5 183.4 496.1 141.1 539.7 104.5 626.4 148.0 544.4 108.6 615.5 160.0 520.2 186.5 485.2 173.1 503.1 159.2 530.8 178.3 496.8 175.1 507.4 152.1 525.3 195.6 473.8 177.9 504.2 177.0 513.4 123.0 587.8 148.0 541.8 150.7 544.4 155.4 537.9 177.9 512.3 164.9 513.9 143.9 546.4 144.0 553.7 151.0 520.2 160.5 529.5 151.8 517.9 169.6 521.8 147.0 578.8 171.6 531.3 91.6 609.4 134.2 563.1 192.3 481.9 156.6 546.9 185.6 493.6 171.8 509.4 173.4 489.4 146.9 532.6 114.7 605.6 152.7 544.7 147.9 526.0 146.7 554.2 181.3 504.1 164.3 514.9 165.1 521.0 154.3 535.6 181.8 509.7 190.2 489.2 166.5 522.4 96.8 628.6 153.2 548.6 123.7 569.3 116.1 599.2 151.5 529.3 147.9 554.8 170.3 512.7 170.5 504.0 127.2 573.6 156.2 544.3 152.0 534.2 174.1 512.4 176.9 492.2 164.1 505.9 161.4 512.4 145.3 552.7 161.4 533.7 155.8 525.0 108.8 608.3 159.6 537.7 180.0 499.4 149.2 546.9 151.8 541.6 170.4 502.8 145.4 555.7 156.0 530.8 171.7 502.8 168.7 522.3 107.6 585.1 134.0 568.9 172.7 492.5 162.1 534.7 177.2 513.3 180.4 492.5 159.6 543.7 173.0 520.4 116.8 588.9 161.1 506.7 160.5 525.8 150.1 525.7 159.1 539.3 134.2 576.7 142.3 554.7 162.3 529.7 173.0 514.9 166.3 509.7 150.7 528.6 163.9 531.9 171.9 504.1 175.6 508.1 137.5 575.6 179.4 486.8 151.3 551.3 155.5 539.6 154.0 537.6 136.1 566.6 142.2 565.0 135.3 564.4 187.9 477.4 146.4 545.8 154.1 540.9 187.3 493.9 140.1 567.6 164.6 513.9 184.5 498.6 122.9 576.3 172.3 511.0 131.9 561.6 123.5 590.9 180.3 500.9 180.0 493.9 137.3 554.2 156.5 554.6 119.0 582.3 163.0 530.0 112.3 586.9 159.1 518.3 124.8 576.7 139.4 545.4 152.5 551.8 172.4 516.0 137.6 555.5 174.1 499.5 140.4 555.4 133.4 566.5 155.8 533.0 150.5 526.6 180.6 505.8 152.8 550.5 167.5 518.2 163.7 527.8 151.7 537.8 167.2 515.0 154.9 547.0 155.5 555.2 119.6 602.4 170.0 506.4 144.3 546.7 168.0 519.1 166.6 515.7 140.7 545.0 154.6 532.0 158.9 541.5 149.6 548.0 154.2 544.4 160.2 533.1 144.1 550.9 166.0 521.7 157.9 532.4 128.8 566.6 159.0 519.5 157.5 509.3 115.2 598.2 162.4 521.1 162.7 534.0 145.4 556.7 143.1 569.6 177.1 475.6 151.8 549.0 155.2 527.4 161.6 516.0 159.8 494.8 162.2 508.8 190.9 484.4 151.1 538.2 173.1 512.7 151.9 546.9 166.4 527.0 143.0 546.0 127.4 587.0 152.0 535.2 169.4 507.8 141.6 567.3 163.1 530.2 153.7 538.2 180.4 501.6 160.5 521.0 180.9 511.0 156.2 526.7 159.9 516.2 158.7 537.9 150.8 568.8 185.6 484.4 145.3 536.5 133.0 552.6 163.8 493.2 184.9 476.1 166.6 522.9 175.9 519.2 140.0 562.7 155.3 543.2 141.3 570.3 138.9 562.2 130.1 577.4 164.6 503.8 136.8 575.2 150.4 568.6 170.9 525.2 157.4 537.7 163.4 537.8 152.5 527.5 122.4 575.4 114.3 592.2 170.7 526.3 99.0 629.1 142.1 548.4 183.3 475.4 148.5 543.8 182.8 476.7 153.7 540.7 186.9 477.5 166.6 506.3 143.1 561.2 162.0 549.7 184.5 495.8 148.9 539.1 147.9 539.4 170.7 507.2 153.6 531.6 161.1 527.4 177.5 511.0 135.9 580.2 126.5 584.3 149.3 544.6 162.7 514.5 158.1 545.7 166.9 497.7 173.4 509.7 170.1 503.8 139.7 560.8 157.3 532.0 157.2 524.7 127.9 586.6 147.0 569.1 152.4 530.1 161.0 533.8 155.0 531.6 156.9 519.6 172.9 523.9 169.4 515.7 174.3 497.7 161.5 529.7 166.7 518.2 182.7 497.1 158.2 538.8 108.8 589.3 162.1 510.6 151.5 540.4 169.5 513.5 153.7 530.8 138.5 561.2 167.3 510.1 180.7 504.6 153.8 535.6 186.9 481.3 155.6 540.8 197.1 473.4 143.0 558.0 169.3 526.8 124.8 589.0 133.3 573.6 181.6 485.3 158.6 539.8 171.5 504.2 137.9 563.5 153.3 531.6 125.6 563.5 174.0 495.2 185.8 482.2 178.7 488.2 153.9 542.8 161.1 524.0 131.8 561.6 138.3 560.1 169.9 515.0 173.7 493.9 163.1 532.5 146.6 545.3 184.4 499.6 114.7 605.7 143.1 563.2 162.1 515.0 167.6 521.2 152.3 545.1 146.8 537.3 123.8 607.3 176.2 485.4 176.5 499.8 167.2 531.1 152.9 532.3 154.2 539.4 147.2 540.1 149.6 540.2 164.0 533.8 133.2 572.1 147.7 546.6 145.5 552.6 183.6 491.9 116.9 582.3 194.0 470.1 144.6 555.4 158.0 552.7 129.6 578.2 156.5 538.1 156.2 550.9 171.1 509.4 156.2 523.8 169.5 503.9 160.2 518.5 168.2 529.8 161.4 531.3 183.7 486.0 148.2 547.8 164.5 531.0 151.3 528.5 150.2 525.6 157.4 503.6 149.5 547.2 149.7 564.9 104.7 599.7 176.6 504.1 151.8 541.9 178.7 496.5 161.7 528.2 103.3 619.5 164.6 524.0 153.4 529.3 163.2 520.4 156.7 518.4 154.9 542.9 174.2 507.3 140.8 551.7 137.1 558.1 167.2 514.9 165.0 512.4 147.1 552.1 156.0 541.8 138.7 550.5 162.4 520.4 153.4 535.5 150.5 540.6 172.1 502.4 186.5 490.2 171.1 489.3 170.0 529.7 170.2 521.4 157.1 536.3 171.1 500.4 170.3 530.9 164.6 519.9 146.4 532.3 181.7 480.0 167.6 513.8 161.3 518.7 147.6 541.9 168.0 513.0 161.7 529.4 166.0 525.7 148.2 556.2 148.0 534.8 157.9 542.3 179.8 501.6 152.8 551.4 151.5 530.1 146.3 544.8 168.8 517.1 164.2 531.7 160.4 522.1 170.4 506.6 157.9 529.4 119.9 581.9 150.4 540.7 154.1 533.2 152.9 546.4 158.7 534.4 160.6 531.3 175.9 500.8 122.8 559.4 184.8 497.8 113.1 596.5 155.4 530.0 172.7 500.6 158.1 530.5 151.5 549.8 156.5 527.7 141.3 554.3 145.2 570.8 131.0 573.2 167.7 512.3 177.9 496.3 146.1 542.5 183.9 485.5 154.6 520.4 134.9 557.5 161.9 492.1 157.0 545.3 149.6 553.9 137.3 570.2 100.4 620.8 171.4 516.5 177.3 508.8 148.5 553.5 125.9 574.0 129.0 575.9 168.4 520.7 147.7 571.8 170.8 510.0 150.3 559.4 157.9 519.0 152.6 536.0 148.7 522.8 135.6 578.0 175.5 482.8 145.1 566.5 152.1 517.1 132.7 577.4 91.1 633.1 147.0 548.9 159.4 510.5 188.5 494.1 169.6 489.8 124.6 570.7 148.5 547.3 141.7 543.9 146.0 544.1 156.4 524.5 100.8 614.1 147.7 542.6 158.8 538.2 169.5 520.8 145.8 557.8 154.0 547.3 160.7 516.9 182.3 478.3 175.0 506.8 156.0 520.9 137.3 579.5 181.6 496.1 164.6 518.4 159.3 530.4 99.1 610.8 149.1 534.7 142.0 544.0 121.5 587.5 153.6 502.8 189.4 482.0 147.7 540.4 167.3 516.1 139.7 547.6 162.3 523.1 169.8 518.8 128.9 565.4 148.7 533.0 154.2 531.9 161.5 531.9 152.2 540.8 146.2 553.3 155.8 538.3 119.9 597.2 169.7 531.2 140.4 553.1 141.3 555.8 134.0 584.1 102.7 605.3 145.4 545.3 138.5 561.4 146.3 537.8 136.4 571.6 171.9 515.2 160.6 534.4 139.1 567.4 126.4 578.2 131.7 577.8 180.2 490.2 144.9 541.3 187.3 476.3 166.4 523.1 151.3 541.7 163.9 515.6 158.0 537.8 177.0 492.7 98.4 614.2 177.1 479.2 147.7 550.4 146.7 534.9 166.0 510.2 168.8 525.9 132.9 581.7 129.1 570.5 141.4 547.4 154.0 537.5 141.6 570.7 115.9 583.0 188.0 478.4 182.7 486.9 156.5 516.6 167.3 493.4 166.7 511.8 150.6 531.5 117.3 584.4 129.1 569.8 141.4 542.5 164.3 516.5 165.0 512.6 144.5 528.8 157.1 509.9 161.7 544.4 146.6 529.0 143.2 549.1 134.5 573.0 168.9 514.3 137.5 588.4 156.5 544.5 160.0 505.4 173.9 499.4 180.7 496.7 159.0 511.9 177.8 511.2 168.1 510.4 160.8 538.0 100.2 610.5 180.2 495.4 156.6 520.5 164.3 533.7 171.6 505.9 168.4 502.1 147.6 534.6 155.1 553.6 151.7 538.9 153.1 547.5 150.7 541.4 169.0 522.3 175.1 511.0 165.2 519.7 178.5 496.4 176.9 506.0 164.5 516.1 161.0 529.2 138.6 541.0 157.9 544.9 170.5 499.5 163.8 516.8 161.4 555.8 171.9 503.5 122.5 580.8 138.1 560.7 154.2 542.9 149.6 548.9 104.5 604.0 190.2 470.1 175.1 498.7 141.3 567.4 160.0 529.4 164.9 541.5 186.3 486.6 151.3 531.7 111.9 613.7 174.5 502.2 159.6 534.2 174.6 509.2 166.1 527.3 148.2 535.7 177.9 493.0 162.3 522.3 160.3 516.9 169.0 532.3 176.5 499.3 128.9 589.2 186.6 482.5 147.7 516.1 176.6 501.0 177.4 503.3 165.0 510.6 132.5 574.6 159.0 530.6 153.6 544.6 147.2 546.5 113.9 592.8 157.2 545.4 154.9 529.3 159.8 538.7 132.7 585.3 159.6 513.1 161.7 528.9 155.3 519.7 165.2 526.6 161.9 515.8 174.7 492.4 166.3 522.2 171.8 524.5 161.0 519.6 149.1 558.2 166.5 529.2 157.2 533.9 160.3 532.7 176.0 521.5 147.6 559.9 146.0 553.0 171.2 503.7 169.2 518.8 143.9 555.8 111.8 585.5 137.0 539.2 157.1 530.6 143.3 569.6 147.2 533.5 174.5 503.2 165.9 515.5 151.9 529.4 126.5 582.8 161.5 505.2 162.1 533.2 153.7 551.8 133.7 564.7 162.7 536.5 141.0 564.0 194.1 490.3 169.8 497.3 180.9 490.4 160.7 526.9 150.1 549.4 158.8 547.4 149.8 561.9 142.6 551.6 176.9 489.3 145.4 538.8 143.5 587.6 174.8 523.5 153.7 507.7 173.9 504.9 155.2 530.7 158.0 528.4 122.8 567.0 157.5 534.1 189.4 481.4 187.3 480.6 168.1 510.9 166.0 507.4 175.4 497.9 147.0 540.6 178.5 506.9 102.4 617.4 149.1 549.8 142.8 544.3 152.7 532.6 153.0 540.5 165.3 524.1 157.4 552.0 106.8 623.2 153.1 542.1 148.7 536.1 155.8 534.3 142.7 567.4 129.1 587.8 168.4 524.1 183.3 492.3 152.9 539.7 187.7 476.0 165.6 511.6 199.9 466.2 171.2 505.3 188.6 496.1 138.6 580.2 157.9 524.9 164.3 509.9 133.5 561.9 190.7 486.2 134.3 575.7 157.1 517.0 173.8 505.5 183.4 481.5 132.7 586.5 166.5 522.1 166.4 523.7 121.0 588.4 180.7 489.5 140.3 528.1 173.3 517.1 180.6 494.9 179.4 491.6 187.0 487.4 161.8 525.1 158.1 544.9 112.9 601.6 158.5 505.5 171.7 524.0 133.4 571.4 162.5 518.6 174.0 502.7 166.3 509.6 130.7 568.1 165.7 515.6 159.8 534.3 161.2 538.4 105.2 613.3 181.5 480.1 185.3 489.1 158.5 537.5 159.6 519.9 160.9 538.6 161.3 531.1 141.2 530.0 156.2 533.7 111.4 604.2 164.3 517.0 159.2 505.8 151.3 532.7 175.2 503.7 169.9 511.9 162.6 513.7 178.5 488.7 162.5 532.8 172.2 514.4 145.0 545.9 128.2 597.1 137.5 573.1 156.5 516.4 153.8 529.4 180.2 489.3 147.7 536.0 136.1 532.5 176.0 491.7 152.8 540.7 163.0 509.2 179.7 468.7 179.6 500.1 115.8 570.9 173.5 490.8 157.6 534.4 178.0 504.4 150.8 546.6 188.9 486.2 147.0 550.5 137.9 553.8 172.0 516.6 142.4 548.0 143.1 556.5 133.7 579.5 165.7 511.1 116.2 581.5 170.4 498.8 169.3 517.4 168.2 507.2 165.9 517.5 136.5 558.8 175.0 490.9 146.6 555.0 150.6 538.8 135.2 564.5 144.6 532.6 157.3 522.7 146.5 545.3 138.7 561.9 162.1 515.0 151.6 541.7 170.6 500.6 153.7 545.0 148.7 547.3 120.4 590.1 174.1 508.5 168.7 513.6 133.5 556.3 140.8 537.2 104.0 614.5 153.2 539.9 198.1 470.0 179.2 501.3 170.0 492.0 152.0 535.1 165.0 534.9 148.0 549.1 146.1 574.7 146.6 529.9 177.6 504.5 148.2 560.3 162.8 526.8 146.5 551.9 192.1 472.2 147.2 555.5 166.0 532.3 141.7 534.4 168.7 519.0 154.2 541.9 159.7 537.8 146.0 541.3 147.5 536.3 171.2 502.5 177.0 503.4 180.5 483.6 150.9 563.5 141.3 560.2 122.7 596.8 171.7 505.8 161.1 528.2 151.0 535.8 148.8 550.0 171.4 530.9 173.9 501.2 95.4 640.4 178.0 487.1 185.3 485.8 180.7 507.6 117.7 575.3 102.3 608.7 143.3 562.1 135.5 551.5 141.2 573.4 189.0 502.1 165.9 542.1 127.0 572.1 161.5 521.9 162.6 531.7 144.1 545.5 167.6 523.3 151.8 555.5 142.0 548.0 123.7 584.2 138.3 563.6 147.5 523.3 159.4 514.6 174.0 502.4 154.5 519.2 176.7 484.0 155.9 535.3 121.2 574.3 143.5 554.7 153.6 538.0 154.8 533.6 167.2 519.1 153.7 551.3 141.0 557.6 127.4 579.7 171.9 524.4 169.9 509.3 139.9 568.0 164.7 520.6 151.7 548.0 181.5 502.4 161.4 533.0 180.2 489.8 146.1 538.7 114.6 584.2 175.5 500.0 165.3 524.7 144.5 564.2 133.4 560.9 158.5 520.2 180.7 495.6 141.0 555.6 144.4 561.2 179.1 507.7 162.3 503.0 143.7 552.0 157.4 528.4 166.3 500.6 163.9 532.9 158.8 529.3 160.5 512.4 158.5 520.5 153.4 531.1 150.3 539.4 157.2 520.3 171.8 501.0 152.4 543.9 142.6 541.8 168.7 510.7 161.8 530.8 155.2 535.8 166.0 522.9 149.9 550.8 151.2 536.8 126.3 602.3 158.8 513.5 137.3 559.1 171.1 511.2 149.0 526.7 131.0 577.0 140.5 563.2 154.2 519.7 146.2 554.0 151.4 533.7 181.8 488.4 181.8 486.3 164.5 504.3 142.6 552.4 167.3 519.6 165.2 534.3 157.3 533.0 194.0 481.1 152.9 529.7 116.1 586.3 130.7 571.8 136.6 550.3 153.8 502.7 140.0 563.4 142.7 547.5 142.9 552.7 157.6 528.7 162.4 533.9 148.1 559.3 165.1 505.8 165.0 520.7 173.8 521.0 170.0 515.9 133.8 586.2 178.1 507.0 165.1 520.4 164.7 506.1 138.6 566.7 151.5 535.3 152.7 557.9 138.0 553.9 181.0 499.5 152.7 535.5 186.8 492.5 155.4 538.6 147.1 528.1 111.1 594.7 165.4 512.0 168.1 526.0 164.8 539.2 165.2 512.2 186.5 497.8 121.8 586.0 152.0 520.8 162.8 517.5 108.1 600.0 181.9 490.2 159.3 543.9 170.4 505.5 148.8 529.1 167.3 526.4 159.6 538.0 126.1 566.5 100.8 621.1 179.0 493.5 145.9 539.8 133.5 568.6 141.3 557.5 127.7 588.1 144.1 558.4 158.0 533.2 176.0 514.9 158.2 529.9 151.1 522.2 169.0 500.7 142.6 544.8 166.0 524.9 147.1 562.8 135.6 556.8 174.6 493.0 166.2 501.6 151.0 549.2 141.0 546.1 164.9 503.3 174.2 503.0 128.9 576.9 165.8 523.3 162.4 525.5 162.8 503.8 167.1 530.3 119.4 580.9 180.4 500.2 143.3 526.3 154.4 521.5 140.9 548.8 129.9 555.2 182.5 490.5 159.5 527.2 140.0 558.5 142.4 544.6 168.7 510.8 138.9 567.8 170.2 503.7 171.8 508.9 145.7 560.9 168.2 509.7 193.7 490.0 147.9 548.6 158.8 536.7 93.2 631.2 173.4 492.9 93.7 620.0 153.0 527.7 164.2 525.6 143.4 572.9 159.0 523.1 177.4 508.0 99.9 623.7 165.3 519.1 143.3 550.3 187.0 478.2 174.1 517.4 140.4 567.4 164.5 525.0 184.2 485.7 164.3 524.5 172.6 501.7 143.4 546.6 120.7 592.4 178.8 505.4 177.3 504.8 146.4 539.4 148.0 544.6 156.4 546.5 180.3 496.8 177.4 505.4 145.2 555.8 164.6 522.3 149.6 528.3 146.4 546.6 126.0 570.7 157.3 535.1 152.3 542.7 111.0 614.7 156.5 535.4 150.7 556.0 142.3 554.9 155.0 528.5 165.0 518.2 146.5 568.0 174.6 505.8 186.1 499.7 163.4 503.6 182.3 508.8 147.4 524.8 162.2 530.2 169.3 513.9 162.2 526.8 176.6 479.9 156.1 541.4 160.0 519.2 162.3 501.2 189.6 491.5 151.6 539.2 109.5 604.4 190.8 489.3 161.0 536.1 147.3 575.0 164.1 519.9 134.6 564.2 126.6 573.6 158.5 516.3 146.4 559.8 164.9 539.9 152.4 530.6 140.7 548.8 134.5 552.2 180.8 488.2 149.6 553.7 111.6 591.2 134.5 568.8 110.0 595.3 128.9 563.7 165.1 523.8 190.1 485.3 193.8 478.0 121.3 585.8 168.0 522.9 191.7 490.3 142.2 559.8 170.3 511.9 163.7 524.3 150.3 541.9 190.6 460.9 179.7 519.0 155.1 530.8 122.7 559.3 117.8 582.4 175.2 490.5 149.4 549.6 190.9 466.9 116.6 604.3 176.9 496.4 140.9 550.7 143.7 556.7 206.8 478.3 170.7 519.8 149.3 545.8 177.5 509.8 182.2 505.1 128.3 588.1 168.8 501.3 185.1 497.1 163.7 515.3 174.2 493.4 165.2 507.4 146.7 541.1 136.9 561.1 175.8 495.1 142.0 566.0 151.6 535.1 170.1 503.5 147.7 546.3 157.7 532.6 133.1 558.7 153.3 539.3 96.8 624.0 162.6 525.8 135.0 584.2 163.3 515.4 122.0 567.7 181.2 493.1 154.0 544.2 164.7 535.9 162.6 510.0 178.3 509.7 131.3 562.2 178.2 498.8 148.2 524.2 170.3 499.7 142.2 545.1 156.7 537.1 194.9 476.1 155.9 526.0 138.4 560.9 155.3 540.2 135.7 562.0 159.6 545.2 174.7 485.5 162.6 513.5 165.6 535.5 151.8 531.6 127.0 573.6 169.9 523.4 175.4 497.8 158.7 531.6 182.7 489.1 163.3 511.4 159.7 533.4 154.5 548.1 133.7 548.2 165.2 521.7 132.6 584.8 134.5 554.5 138.7 553.5 154.9 527.6 153.2 535.2 162.5 525.4 162.7 515.5 188.2 474.7 163.9 531.9 148.2 547.3 179.7 492.0 161.3 524.2 171.0 507.5 151.9 538.5 162.5 519.3 188.8 495.7 150.3 521.0 187.2 485.8 142.4 562.6 188.2 489.6 153.8 535.8 148.3 574.1 150.1 523.7 168.3 502.0 179.5 485.1 158.3 517.8 162.9 521.2 177.6 500.8 153.1 537.3 150.9 545.6 176.0 510.4 157.0 522.0 176.3 515.2 184.7 480.6 142.8 553.8 168.6 510.5 149.7 573.1 167.8 535.7 150.5 542.0 103.6 610.5 136.3 561.2 174.8 490.3 170.4 518.4 171.9 518.9 157.4 534.0 160.4 527.8 160.8 535.8 168.5 504.2 155.6 546.0 157.2 532.0 137.8 559.3 137.1 555.2 146.2 559.2 183.8 492.0 152.4 552.1 112.2 572.5 152.8 538.2 168.6 518.3 169.6 525.2 169.9 484.9 164.2 515.3 195.8 474.7 145.6 561.5 180.8 506.7 182.1 490.5 147.0 527.9 141.8 555.8 155.5 531.8 179.3 498.8 111.6 601.5 157.0 542.0 175.2 507.9 129.2 573.0 161.0 500.1 139.3 550.7 184.9 501.1 167.9 513.0 159.1 539.7 174.9 503.0 129.7 560.2 137.4 567.4 169.0 507.8 185.3 486.2 160.8 538.1 165.2 529.8 170.5 497.9 166.0 525.9 136.0 550.7 127.4 563.5 160.9 526.3 149.3 529.0 147.9 545.1 152.8 503.7 149.0 547.1 156.7 519.4 154.9 541.3 154.9 535.2 186.6 480.7 172.6 493.0 153.1 536.9 163.7 525.4 161.2 537.3 173.0 501.7 181.5 485.8 139.4 565.9 149.7 536.8 117.9 591.4 168.5 505.5 147.6 545.9 167.3 512.8 153.6 518.0 182.5 491.3 110.5 605.5 124.8 586.7 185.7 495.8 184.0 478.6 188.1 488.9 177.8 515.0 145.7 563.2 194.8 467.2 143.5 565.4 155.9 530.8 103.5 620.4 179.4 487.0 139.1 558.7 166.4 517.0 91.2 640.3 152.9 529.0 143.4 545.7 140.0 573.8 155.6 533.2 122.3 598.8 159.8 545.6 177.2 501.0 149.1 540.2 171.2 509.2 154.0 532.8 159.9 525.9 148.6 530.0 169.2 510.3 149.9 523.8 161.7 534.5 143.5 558.4 144.3 578.0 181.1 492.3 167.5 510.0 158.2 520.9 193.5 468.1 104.6 614.4 173.5 507.2 180.8 502.1 147.9 541.4 167.4 514.4 182.8 479.2 116.4 589.7 171.1 509.4 155.2 543.9 163.3 521.3 157.3 524.6 110.5 603.7 172.5 505.8 152.5 524.7 107.0 598.0 139.2 562.2 159.8 525.4 170.3 518.9 125.6 584.8 171.5 502.1 181.9 500.8 127.2 589.6 173.4 514.6 150.5 533.2 156.8 521.0 154.6 519.1 170.3 512.9 163.4 520.6 145.7 536.4 136.2 561.5 159.0 538.2 164.2 524.9 172.5 493.6 151.3 544.5 162.6 519.6 120.5 585.1 148.3 529.5 143.7 532.6 145.0 534.0 174.0 507.3 161.8 525.3 179.0 502.7 160.3 538.5 134.0 567.5 162.5 527.3 171.6 502.6 131.9 576.1 143.3 569.4 156.3 526.5 128.1 599.4 135.5 563.8 166.1 521.8 180.7 494.7 155.1 530.1 167.9 530.0 145.7 550.2 170.3 511.4 188.8 482.9 183.2 474.8 161.7 528.4 163.9 538.2 172.3 506.5 163.8 530.1 154.0 540.4 155.2 542.9 157.2 547.0 94.1 629.2 155.2 525.4 171.2 500.3 148.2 534.0 133.1 574.3 128.8 580.5 176.3 494.7 155.0 530.4 179.1 514.4 165.4 525.8 165.1 531.3 140.4 525.9 165.6 519.9 130.4 563.0 182.5 477.8 129.6 559.4 113.9 599.3 174.0 488.6 149.5 532.8 170.9 515.6 188.5 495.9 195.5 478.1 154.1 526.7 144.7 536.7 156.0 527.1 166.1 506.0 125.0 571.8 154.9 530.5 149.2 528.9 161.3 525.4 156.0 516.9 164.6 502.2 150.3 534.2 172.0 479.1 161.0 497.0 176.6 500.0 155.5 544.7 110.5 612.2 169.8 518.3 174.4 522.6 174.2 491.8 171.6 505.0 143.7 553.3 169.4 504.5 158.6 550.4 170.1 518.7 165.3 511.5 145.9 538.3 178.6 493.9 158.0 536.4 190.3 494.8 187.8 479.1 149.8 561.9 141.5 553.0 173.9 497.8 142.6 565.3 155.2 551.2 119.6 584.4 156.6 533.6 159.7 526.0 161.0 527.2 180.2 500.9 174.6 503.4 144.7 548.4 169.4 485.9 128.1 557.9 169.3 510.2 159.9 537.9 137.9 561.9 167.5 516.7 169.8 502.4 153.1 551.5 184.6 486.9 145.5 580.9 170.8 521.6 157.6 524.0 161.1 526.5 164.8 504.9 175.5 514.9 142.8 546.7 164.8 511.2 157.6 506.6 148.3 530.8 181.6 486.0 161.3 527.6 176.0 508.8 152.8 528.4 129.9 563.6 171.3 512.6 189.7 477.6 166.5 517.9 182.0 501.6 171.0 508.2 153.1 538.3 169.5 522.0 160.5 529.7 176.1 476.9 181.7 481.9 166.6 517.3 186.9 472.1 174.5 500.3 167.8 501.3 161.3 536.5 157.8 534.3 180.1 492.5 161.3 528.3 204.4 461.7 168.8 519.0 164.7 514.5 144.0 544.2 161.6 526.4 155.4 510.2 170.3 507.5 149.5 550.6 112.6 578.1 171.3 506.8 129.8 589.4 161.2 524.8 170.0 513.3 167.9 500.7 150.7 540.4 139.3 562.0 155.4 544.0 147.0 556.2 158.9 526.7 152.0 540.1 151.5 548.1 104.4 595.4 115.7 571.7 123.1 575.4 146.3 538.6 183.7 489.9 165.4 515.2 153.8 524.9 193.5 467.6 182.0 503.0 180.7 496.0 147.5 557.7 162.6 543.4 169.2 522.1 146.4 529.6 146.1 555.8 150.7 540.0 135.7 557.4 168.3 491.1 162.5 519.2 163.4 509.5 166.5 507.7 142.7 552.8 184.9 483.7 170.6 506.7 151.6 520.9 157.9 552.9 156.7 509.6 150.2 548.1 144.1 549.7 183.6 491.8 157.6 529.8 168.8 502.0 147.9 552.1 166.2 520.7 125.5 591.5 155.9 548.2 173.7 496.7 135.1 573.8 167.6 530.0 161.6 527.8 167.9 512.5 162.3 527.1 145.9 551.4 151.6 529.1 158.2 517.0 169.8 512.7 153.9 524.2 182.4 494.9 167.9 529.6 171.6 513.3 188.1 482.8 153.7 542.0 169.0 534.5 130.5 599.6 125.9 566.6 184.7 478.7 156.5 519.9 155.3 509.3 156.2 518.9 134.7 560.5 158.0 532.0 108.9 627.9 154.8 545.7 156.6 518.6 157.1 542.0 150.0 556.2 174.4 507.0 122.3 582.7 99.0 612.4 167.8 495.3 169.4 515.1 152.4 563.4 141.7 565.5 156.6 530.0 135.3 562.1 130.3 562.9 187.8 479.3 138.1 552.0 148.9 537.0 136.0 563.2 173.7 510.5 142.6 548.1 156.5 542.7 159.6 523.0 132.2 581.0 169.3 488.5 159.7 514.0 143.9 551.8 158.8 519.2 152.8 529.2 175.8 500.5 156.7 530.6 156.5 536.9 168.7 509.8 159.0 538.5 143.7 556.0 179.8 498.1 175.9 503.5 194.3 479.5 150.7 556.1 156.0 557.1 134.3 561.4 163.1 523.4 153.1 529.1 152.7 534.1 168.2 505.8 157.4 525.7 156.7 520.5 180.4 508.8 172.2 498.6 133.8 532.2 161.4 527.1 111.3 609.3 169.6 516.4 163.6 503.3 158.4 516.0 161.4 508.9 158.7 527.8 173.5 506.0 160.6 516.3 146.2 556.5 176.1 507.9 148.2 549.9 162.9 524.0 169.7 522.6 175.3 488.2 161.3 523.6 183.0 489.2 169.3 501.6 139.9 559.3 171.3 507.7 153.8 544.1 137.4 564.2 185.2 480.9 171.6 521.3 158.6 527.8 165.9 516.3 186.1 491.6 137.0 579.8 169.5 516.5 128.0 577.7 182.6 493.4 170.8 498.6 148.9 543.6 159.2 539.3 118.0 605.6 190.7 489.9 146.2 548.7 166.3 525.7 135.1 572.2 112.2 607.3 159.5 529.6 158.1 535.7 179.8 482.1 172.4 522.4 166.3 528.8 169.7 522.5 154.5 535.8 172.2 498.2 176.8 483.8 159.7 518.8 183.9 487.6 191.9 476.8 136.3 564.4 163.3 533.9 110.6 613.2 153.8 535.0 164.5 531.8 154.0 543.2 156.9 544.7 106.4 628.7 194.6 486.4 171.9 504.8 164.8 513.0 166.1 530.7 145.7 547.6 168.9 510.9 169.7 520.8 142.1 551.7 165.1 506.5 192.6 486.2 154.7 547.1 144.8 533.2 138.6 567.9 128.9 577.8 150.7 537.3 177.3 496.0 167.7 519.1 147.8 552.1 194.4 476.5 174.2 501.2 95.7 639.0 153.5 537.1 127.6 564.6 92.5 619.8 123.6 591.2 127.3 559.0 169.3 495.4 174.3 507.1 124.7 565.9 146.2 562.9 181.0 503.5 124.0 592.7 134.8 575.9 141.8 557.6 162.1 529.1 174.1 500.0 181.2 488.9 167.6 512.2 142.2 561.5 168.0 518.5 142.7 547.8 150.4 540.3 128.3 548.6 147.4 547.4 180.9 501.3 152.1 551.3 144.6 547.2 144.7 544.9 152.0 537.4 205.9 463.7 154.9 550.7 145.2 548.1 157.9 497.3 181.7 492.9 164.4 514.1 156.4 525.5 123.1 588.7 108.2 604.4 142.0 566.6 152.6 554.2 155.4 536.1 154.4 533.4 151.8 538.6 149.4 543.6 187.5 490.6 136.2 556.9 176.9 487.0 147.6 553.1 168.1 538.4 157.1 529.8 188.0 483.3 143.3 539.2 173.3 532.9 123.3 571.6 163.4 497.6 145.3 562.2 140.9 557.0 91.1 649.5 181.5 483.9 134.6 574.5 173.1 501.8 165.6 497.5 160.1 542.3 128.7 567.3 155.3 529.7 159.8 515.2 164.3 516.5 156.4 563.7 143.8 552.7 163.6 529.6 149.1 540.2 105.0 607.6 148.6 568.4 170.0 515.9 209.3 468.0 173.6 505.3 145.6 524.6 177.4 503.6 165.7 521.1 162.9 512.2 139.3 560.7 186.9 482.1 168.2 516.7 156.6 536.1 164.5 524.6 181.1 485.5 174.2 499.1 197.6 462.7 166.4 515.0 160.0 524.7 152.4 552.4 159.4 527.0 161.6 507.9 151.5 552.3 159.8 552.0 151.1 533.8 132.5 567.8 165.7 519.0 140.1 573.6 153.1 546.9 138.6 555.5 182.0 509.8 161.6 511.5 181.0 498.2 155.3 548.3 168.8 514.2 120.5 584.4 157.9 516.7 142.6 553.7 153.3 523.3 164.3 516.6 162.6 516.1 179.2 501.2 164.7 539.5 163.0 522.2 163.4 504.4 165.0 525.5 142.8 551.6 158.9 534.5 194.4 468.8 173.0 497.3 164.7 532.7 175.9 500.4 167.1 516.6 176.3 494.8 129.9 555.3 152.8 529.5 150.3 527.1 144.6 549.6 167.0 509.8 166.7 526.7 161.8 535.9 172.8 497.0 196.0 478.5 171.3 521.1 170.6 531.6 178.7 501.8 160.7 523.3 135.1 575.2 149.3 557.7 153.5 538.1 149.9 535.8 187.4 484.2 159.5 518.7 167.3 522.6 167.8 522.5 132.1 562.2 140.1 528.4 178.7 503.5 111.6 604.8 130.7 573.0 189.8 480.3 171.5 483.6 168.9 518.6 171.2 511.4 134.4 556.4 168.7 524.2 169.7 499.9 188.2 481.1 196.6 470.7 134.4 576.0 168.2 512.4 151.4 546.4 123.4 588.8 156.0 545.9 148.7 537.4 167.4 510.1 157.0 531.7 146.0 551.4 134.0 562.6 155.0 535.2 158.5 534.7 161.3 510.8 146.8 542.2 190.8 475.7 133.2 560.6 175.2 495.8 158.1 517.4 156.9 521.6 153.7 563.6 171.4 515.4 191.5 479.7 162.4 512.3 166.3 527.5 141.0 539.3 137.8 548.8 150.5 558.1 163.0 514.7 158.3 525.0 142.7 565.5 140.7 549.8 174.7 511.9 146.0 532.7 183.0 512.0 179.1 490.6 150.0 537.1 148.9 562.5 161.6 499.8 168.7 517.9 179.3 523.8 155.8 515.3 179.7 504.2 162.4 512.3 161.7 512.6 155.2 517.9 163.9 530.1 162.3 512.9 147.5 533.8 177.9 499.1 154.6 527.5 146.0 543.5 180.2 519.5 157.9 528.5 166.0 526.7 146.0 552.0 144.5 567.3 158.2 515.5 160.5 522.9 165.6 523.7 147.3 550.2 141.5 551.4 148.5 542.5 144.3 533.6 144.2 551.5 183.7 493.3 173.9 504.8 129.1 576.9 142.8 546.2 157.9 521.6 114.8 619.6 158.2 515.1 127.5 558.2 140.9 550.0 170.1 512.5 175.5 500.3 153.0 531.4 172.7 513.8 152.5 564.2 158.8 534.3 147.5 538.1 156.9 539.2 156.8 525.6 147.9 542.1 147.9 547.7 165.5 512.3 179.5 494.5 154.6 529.5 146.4 566.5 150.5 524.6 176.8 507.6 177.0 523.5 153.4 527.0 177.2 506.0 94.9 634.5 154.4 526.8 131.5 579.8 146.5 553.0 155.6 559.4 131.0 567.8 177.1 496.7 158.8 540.7 165.5 508.9 157.6 535.9 182.8 503.9 151.2 539.6 138.8 561.6 149.0 552.4 134.2 550.4 132.5 569.1 165.5 514.8 152.8 537.7 122.0 597.1 166.9 513.2 154.2 527.3 151.3 534.3 155.9 523.2 131.1 551.1 157.6 506.9 169.9 486.5 155.6 533.2 129.0 599.4 133.7 568.0 187.3 466.2 166.2 520.9 119.7 592.9 159.4 538.2 144.4 529.9 156.1 537.9 130.6 566.7 164.9 503.8 121.6 576.8 133.1 560.4 142.3 555.5 162.3 529.3 157.7 540.5 142.7 554.4 152.9 526.6 160.6 514.9 145.0 550.0 177.1 498.3 183.4 488.9 155.2 535.5 137.1 560.1 126.8 595.9 124.7 558.1 101.6 622.0 175.8 512.1 109.3 609.8 172.6 501.2 155.0 537.2 123.6 584.2 159.2 520.1 133.1 564.4 173.0 509.7 185.1 485.3 152.3 532.6 149.5 543.0 146.6 546.4 104.5 616.7 171.8 513.1 177.4 503.3 157.3 544.3 159.9 513.1 144.2 539.1 169.2 510.5 175.9 510.7 172.9 502.3 129.1 586.1 170.6 513.1 160.0 524.2 173.8 506.8 171.6 511.5 110.4 585.2 161.3 521.2 181.9 488.7 170.2 516.6 163.0 517.2 144.2 545.2 167.8 539.0 145.9 545.7 165.5 514.6 188.4 481.2 151.4 526.2 138.9 578.0 156.3 543.2 162.0 520.0 160.4 516.6 185.1 491.4 104.1 589.7 167.2 510.7 142.2 546.1 119.6 581.7 163.8 530.1 185.1 496.4 160.8 518.3 152.4 535.2 113.2 588.7 151.5 518.0 139.3 553.3 176.3 503.3 118.5 577.7 170.4 509.4 139.4 551.7 134.3 576.9 166.9 507.6 171.2 505.9 142.0 554.4 159.4 541.5 167.8 511.2 148.8 522.2 150.0 527.3 148.4 551.1 146.7 534.8 118.0 594.0 160.3 533.2 160.4 544.3 162.9 523.3 167.0 517.9 150.1 536.2 142.6 562.1 142.7 567.2 145.6 563.3 152.1 541.9 138.0 564.1 157.5 541.2 138.9 545.8 173.4 498.8 150.7 539.6 163.2 519.1 160.6 542.9 130.0 572.9 130.9 554.8 144.8 541.4 161.4 532.1 194.1 466.6 175.5 495.8 149.7 530.4 150.4 558.0 150.4 549.0 164.8 534.3 145.7 538.0 122.5 566.3 164.9 509.6 138.3 556.7 176.0 500.8 153.6 534.6 151.4 537.5 140.4 558.1 182.3 482.9 138.1 542.0 156.8 525.0 165.8 523.0 131.3 572.5 156.0 567.3 184.0 480.9 189.1 475.0 154.0 546.2 179.4 503.8 184.5 491.8 146.7 542.8 184.9 484.2 154.3 522.7 129.3 556.7 145.6 566.4 154.3 526.2 164.9 516.1 124.6 565.7 155.2 548.4 182.7 504.1 168.3 514.1 143.3 544.6 144.7 554.4 164.8 518.2 174.0 535.3 143.7 547.4 171.8 491.6 140.3 553.0 123.5 594.7 179.9 487.6 181.9 498.9 168.4 525.5 150.0 522.8 142.2 559.1 156.9 516.5 165.1 513.6 146.4 538.8 167.9 518.6 126.2 552.9 162.0 505.2 158.8 539.5 171.6 517.5 161.7 527.4 160.6 530.0 183.4 504.0 142.2 555.0 144.2 555.1 139.9 544.1 140.5 563.0 153.8 527.7 153.4 540.2 162.0 520.4 157.8 508.4 132.6 577.3 182.2 521.4 157.1 541.9 144.6 544.6 156.2 506.1 113.6 576.5 173.5 509.4 123.6 588.3 167.1 509.2 155.2 527.6 171.2 516.6 192.1 477.5 152.5 545.0 151.3 538.9 152.7 503.8 154.4 552.5 149.1 547.5 185.4 501.1 103.2 614.5 128.6 573.1 152.3 538.5 171.5 518.1 178.2 498.9 139.3 541.9 160.6 530.0 166.2 499.2 135.1 571.9 159.1 538.3 159.5 546.0 151.1 541.9 106.8 615.5 152.0 548.8 137.3 563.8 99.9 624.4 171.2 527.9 159.2 532.0 172.5 515.5 172.9 499.6 147.6 539.5 180.2 501.1 155.3 530.7 185.0 488.0 175.1 498.8 143.2 527.8 122.6 614.0 150.0 547.6 150.2 550.3 156.1 536.3 162.9 517.9 182.1 474.5 165.3 514.8 109.5 621.0 154.3 548.2 153.3 503.2 171.1 521.4 146.8 554.8 153.6 547.8 137.6 556.9 145.0 542.3 144.7 559.8 158.8 514.0 165.0 529.9 161.9 526.3 155.4 521.8 169.4 492.3 161.6 521.7 155.6 538.6 177.5 498.4 152.5 511.1 147.3 537.9 161.2 506.4 107.7 614.4 142.6 563.1 167.7 521.7 168.1 505.4 162.5 517.7 155.1 545.6 161.4 538.0 156.6 548.2 175.7 501.3 159.8 516.6 177.3 491.1 139.3 550.3 136.6 553.4 174.6 510.8 153.2 545.1 127.6 584.6 143.3 551.2 143.0 551.3 156.6 528.7 149.0 536.0 155.9 541.1 138.2 550.4 183.2 499.7 104.3 610.1 179.0 500.0 163.1 522.9 172.0 520.1 170.7 509.5 171.1 522.2 176.6 486.7 116.9 589.0 164.8 521.4 142.6 558.4 126.9 593.4 165.8 521.8 163.9 521.0 153.3 537.2 142.6 548.6 189.8 478.0 145.3 518.3 144.9 542.2 160.8 525.0 96.6 636.8 158.5 520.5 175.3 494.1 180.8 499.9 155.4 536.9 161.7 526.3 171.8 511.4 181.4 492.7 159.8 539.0 178.2 503.3 188.6 487.7 156.9 533.2 155.6 529.7 151.6 546.6 146.6 556.8 152.5 530.0 186.5 487.0 146.7 556.7 149.0 560.8 133.4 559.4 129.9 557.5 159.0 542.7 149.7 545.7 167.2 528.9 142.0 573.4 174.5 492.4 151.9 520.4 160.8 519.7 123.4 596.4 158.9 544.0 157.7 544.9 142.5 531.4 181.1 482.2 183.2 496.2 158.1 540.4 174.0 492.6 155.4 533.7 167.3 515.1 114.9 601.8 152.3 518.1 157.3 535.5 197.9 475.4 156.6 535.4 143.4 551.5 178.7 494.6 161.0 528.7 155.3 545.2 154.7 534.7 160.5 509.9 162.2 503.5 151.6 519.2 192.3 481.6 161.5 543.7 188.0 489.5 147.2 538.6 143.5 579.6 163.7 515.1 156.7 539.8 126.3 572.1 173.5 525.6 177.1 505.3 162.2 528.3 173.7 490.0 138.3 557.3 186.0 493.8 139.7 560.9 135.1 562.4 140.0 539.9 119.7 592.4 143.7 556.2 143.0 541.6 193.6 476.3 130.9 585.7 132.9 547.8 147.4 530.2 146.5 539.5 135.6 571.6 163.0 554.8 139.6 565.2 198.8 476.4 143.0 574.6 163.7 534.3 163.8 517.5 144.5 542.5 153.2 517.6 187.1 475.6 148.6 547.1 158.9 518.4 152.5 553.7 162.8 532.0 168.7 527.0 191.7 470.9 148.4 551.9 159.6 530.4 170.2 506.8 161.6 535.7 151.2 535.9 134.3 582.4 156.4 539.2 146.1 537.0 182.8 499.9 152.8 518.9 168.5 506.9 160.5 533.3 151.2 544.3 136.6 553.5 152.8 543.2 178.3 502.4 148.2 577.2 105.1 611.3 158.5 547.7 166.0 522.0 172.5 513.9 162.8 529.6 168.4 511.6 155.9 545.7 163.1 527.9 120.6 569.8 169.6 516.5 158.6 521.2 140.0 551.3 160.8 523.2 188.8 482.2 149.5 574.9 163.9 521.0 161.3 521.0 145.2 556.4 168.8 515.9 166.5 522.0 102.4 629.2 180.2 486.5 151.6 551.9 160.5 534.7 179.8 505.6 143.5 548.6 136.5 570.7 161.2 526.4 147.5 529.3 161.8 517.6 171.1 506.1 146.2 550.9 171.0 510.8 164.6 533.0 133.8 593.9 164.7 527.2 160.6 529.8 153.3 543.3 149.7 541.9 109.1 612.9 160.2 527.9 155.2 543.4 131.0 573.8 165.9 533.3 161.3 509.9 190.5 476.0 146.7 556.4 139.2 570.8 167.7 508.1 155.5 531.8 166.0 508.5 161.3 541.8 113.1 596.7 152.8 552.8 191.4 478.9 176.3 491.6 179.5 473.7 130.5 583.8 160.0 523.3 143.3 551.6 161.1 525.5 91.5 620.7 94.9 632.8 175.7 492.5 188.4 479.0 162.4 528.4 163.5 529.8 163.4 514.0 138.3 560.3 152.7 533.0 181.5 501.5 162.3 523.2 158.2 518.2 158.7 521.5 111.7 600.9 167.6 523.1 167.0 499.8 160.6 513.2 163.7 527.5 169.2 521.8 139.1 568.2 177.2 493.3 155.7 537.4 158.2 523.6 135.1 564.6 155.6 511.4 135.2 558.5 147.2 539.3 164.6 517.9 159.9 553.9 120.7 589.0 49.5 710.1 58.5 690.5 56.0 673.1 63.6 679.5 65.8 679.5 68.1 671.0 73.1 670.5 67.8 659.5 82.9 655.6 84.2 654.4 87.7 663.7 79.9 642.9 86.4 643.7 95.2 642.9 100.6 642.9 87.4 622.0 89.5 630.5 89.7 606.7 203.4 419.5 213.1 428.4 214.1 432.7 208.0 435.6 209.3 433.9 211.6 438.2 211.1 439.1 218.5 439.5 214.4 440.3 215.7 449.7 196.8 445.9 203.4 444.6 202.6 443.3 204.2 445.4 206.2 447.1 201.6 448.0 199.1 453.5 192.7 456.5 208.0 459.1" fill="none" marker-start="url(#m)" marker-mid="url(#m)" marker-end="url(#m)"/><path d="M49.6 695.5L218.7 437.3" stroke="#4466dd" stroke-width="1.1"/><path d="M46.20 727.5v5M36.0 713.50h-5M96.50 727.5v5M36.0 628.40h-5M148.45 727.5v5M36.0 543.30h-5M199.05 727.5v5M36.0 458.20h-5" stroke="#666" stroke-width="1.2"/>
<rect x="302.0" y="400.0" width="197.0" height="327.5" fill="#e5e5e5"/><path d="M337.35 400.0V727.5M387.90 400.0V727.5M439.80 400.0V727.5M490.60 400.0V727.5" stroke="#f8f8f8" stroke-width="0.95"/><path d="M302.0 670.95H499.0M302.0 585.85H499.0M302.0 500.75H499.0M302.0 415.65H499.0" stroke="#f8f8f8" stroke-width="1.05"/><path d="M312.20 400.0V727.5M362.50 400.0V727.5M414.45 400.0V727.5M465.05 400.0V727.5" stroke="#fff" stroke-width="1.3"/><path d="M302.0 713.50H499.0M302.0 628.40H499.0M302.0 543.30H499.0M302.0 458.20H499.0" stroke="#fff" stroke-width="1.5"/><path d="M352.8 624.9 389.1 580.2 382.6 594.1 363.9 607.7 415.5 535.6 354.7 635.8 414.8 532.9 319.1 678.4 356.1 607.6 370.1 611.2 392.0 621.2 359.4 628.0 398.0 584.5 374.9 605.1 374.1 592.7 380.7 608.7 373.9 612.4 372.0 604.3 352.2 650.4 357.2 631.5 395.5 549.9 385.9 569.1 381.0 602.0 339.1 654.1 375.0 592.8 355.7 611.4 357.4 629.8 362.8 629.4 392.3 589.1 393.9 562.2 398.2 564.9 378.8 607.6 372.0 584.8 379.8 599.9 372.7 615.5 385.3 575.1 362.3 605.0 353.3 639.1 421.7 546.0 372.8 596.8 356.7 629.9 358.4 607.5 393.3 567.2 373.6 610.6 371.0 643.6 409.1 555.8 335.8 653.7 432.7 493.7 385.8 601.4 370.3 609.8 361.8 598.1 372.4 608.0 421.0 527.7 347.6 634.5 392.9 579.3 399.7 561.2 367.5 619.3 359.6 633.2 419.4 532.6 389.1 587.8 337.3 645.3 373.9 585.9 358.9 605.6 389.4 598.1 381.4 605.5 386.5 604.8 390.0 589.4 419.5 552.0 383.0 585.6 361.1 603.8 397.2 567.4 413.6 577.9 349.9 638.0 403.7 563.8 409.9 539.4 342.7 638.2 369.7 598.7 363.8 613.1 374.5 631.9 361.3 613.1 403.4 551.5 361.0 634.5 382.8 569.2 367.2 582.4 422.0 549.5 360.0 629.5 409.2 570.9 368.8 606.4 394.0 588.1 375.5 578.7 420.0 548.8 361.6 619.6 437.5 505.3 368.3 615.7 390.5 560.8 388.4 584.9 391.0 578.5 420.5 531.1 352.5 656.5 411.5 551.8 380.3 603.2 359.2 619.3 397.2 587.2 432.8 503.8 417.3 537.7 392.3 584.1 375.3 603.2 362.4 639.5 378.6 591.5 376.3 616.0 408.7 547.0 405.4 571.4 382.3 571.1 330.7 663.6 402.9 572.7 357.5 602.5 369.0 612.6 389.8 556.9 366.4 587.0 408.8 565.4 393.8 562.0 353.5 621.7 404.1 561.5 361.5 643.2 382.6 593.3 431.2 531.0 386.2 572.5 400.9 552.0 408.9 572.0 373.3 622.1 390.7 578.8 391.9 585.4 363.6 604.7 405.9 568.5 395.4 557.9 417.5 523.3 377.7 622.9 382.7 604.5 398.8 569.2 374.5 607.6 407.4 534.7 382.9 593.3 331.5 661.6 373.4 624.0 381.7 586.3 423.8 548.4 398.3 579.8 361.5 645.2 383.6 593.9 367.9 609.5 403.1 563.2 405.9 581.6 365.7 612.0 390.0 578.0 376.2 586.4 455.5 510.2 356.4 623.4 351.4 629.6 365.2 616.0 391.5 576.5 352.9 644.7 402.5 577.1 389.9 553.5 391.6 566.4 354.7 617.9 365.0 609.9 365.4 619.1 373.4 613.8 352.8 648.6 420.1 545.2 404.5 585.5 404.7 563.6 396.0 585.4 374.7 607.8 348.2 644.1 354.3 605.9 436.9 490.8 366.0 628.6 369.0 581.4 371.8 594.0 371.2 599.1 391.3 566.1 356.8 658.0 389.4 579.8 379.4 573.1 324.4 676.2 392.2 562.6 395.6 582.7 380.9 607.0 399.2 560.4 390.9 587.3 385.9 595.9 370.1 611.3 362.5 616.1 416.1 537.4 405.7 562.1 442.1 505.9 358.1 625.3 359.2 631.6 414.5 560.8 379.3 603.7 391.7 588.6 415.0 555.7 348.3 628.7 401.1 566.6 391.5 579.5 375.6 612.5 414.0 556.4 384.7 594.1 376.3 609.1 411.3 545.1 370.3 584.3 395.7 561.6 353.0 642.9 362.0 623.9 345.4 632.2 386.5 590.7 355.7 625.8 409.0 573.5 386.6 611.3 427.7 522.5 368.5 619.6 391.4 572.2 423.3 524.6 408.4 568.1 366.8 623.4 399.7 549.3 396.9 575.2 436.9 510.2 387.4 580.8 366.9 614.3 419.3 541.7 367.7 602.1 371.5 608.7 384.9 612.5 393.2 583.6 404.3 570.7 385.5 594.3 361.8 606.0 410.5 587.8 393.8 569.2 438.2 530.1 388.5 596.2 375.8 594.8 373.5 615.5 389.9 566.3 408.8 538.6 347.2 642.8 400.4 573.6 396.4 580.1 361.9 660.2 394.6 587.1 361.6 629.1 386.3 586.4 381.7 585.6 376.6 636.5 396.9 584.6 389.0 575.6 360.6 613.2 412.3 534.7 346.0 647.7 422.6 554.6 378.2 598.8 360.7 610.5 383.8 612.1 339.3 667.5 364.8 631.8 385.4 581.5 409.6 573.0 409.1 556.7 368.7 611.0 386.3 591.4 339.3 641.8 395.8 575.5 374.1 620.6 344.5 654.2 445.2 500.3 381.3 572.0 341.5 636.6 417.0 546.2 386.3 584.9 368.3 622.4 372.7 587.0 329.3 647.5 398.5 600.4 374.6 593.8 378.6 620.8 375.1 602.9 382.9 576.2 350.2 645.0 367.3 611.4 331.3 662.3 359.7 658.5 389.9 556.0 380.6 587.6 397.2 607.1 362.0 600.1 378.1 607.4 375.6 608.9 354.9 635.6 405.3 550.0 423.4 530.4 384.5 602.8 367.2 613.7 368.8 625.4 363.3 602.5 412.8 549.2 397.9 560.6 385.1 606.4 423.9 536.2 383.9 567.1 396.8 585.3 383.9 592.3 400.8 575.8 401.3 577.3 375.4 600.4 408.5 561.3 423.9 547.3 421.8 550.1 425.5 527.0 367.5 583.7 382.6 587.7 367.5 605.8 394.3 585.7 406.6 565.5 373.3 615.4 389.7 583.1 379.1 596.9 391.7 564.8 381.6 576.5 400.0 575.6 384.1 580.7 396.4 576.6 366.1 629.0 363.8 624.6 377.8 594.6 368.3 605.7 378.1 589.5 364.3 626.2 413.4 555.0 369.0 646.1 349.9 623.2 366.8 576.7 374.6 598.4 386.7 615.0 344.2 642.2 396.2 575.3 389.7 567.1 397.5 565.2 368.9 590.5 367.9 595.8 407.3 554.2 445.2 512.6 370.8 615.6 406.7 558.4 361.0 626.0 383.7 576.5 380.9 585.1 369.3 599.2 404.3 596.2 353.1 642.7 386.3 572.4 417.5 543.9 360.0 619.8 410.0 545.4 399.2 578.4 384.2 598.6 387.0 594.1 388.6 600.4 375.2 605.3 385.4 615.2 424.2 506.1 373.3 581.7 382.6 583.1 382.8 589.7 357.8 650.2 432.0 496.3 392.7 565.6 446.7 512.1 383.8 602.0 373.6 601.3 367.7 622.0 338.5 644.0 399.4 550.8 381.8 610.2 364.0 636.5 384.0 599.4 391.0 568.8 388.1 581.9 356.0 625.2 360.5 623.7 369.8 593.5 363.8 629.7 383.9 573.6 417.7 555.7 374.1 609.0 424.3 527.3 410.4 538.7 395.0 573.6 453.7 510.5 372.5 604.6 359.3 655.1 392.5 568.1 396.8 572.2 358.7 624.6 403.0 557.9 366.1 628.9 396.9 598.5 375.9 605.8 403.3 570.9 432.1 549.2 396.7 572.2 400.3 556.7 371.1 587.2 367.5 603.4 415.3 549.2 358.6 658.6 384.1 622.7 384.2 578.7 386.8 567.8 342.1 654.5 346.8 637.5 387.8 577.9 377.9 594.0 421.1 530.0 340.9 656.4 388.3 607.7 371.7 609.3 393.3 578.9 358.4 658.9 346.6 641.8 367.1 577.0 370.0 597.5 388.7 587.8 406.1 548.3 360.7 612.5 332.4 656.1 428.6 534.0 443.1 524.8 380.1 611.3 372.1 597.9 373.3 612.9 372.1 611.2 351.9 618.4 378.0 589.5 388.0 592.3 431.6 544.9 385.2 595.7 340.6 659.4 347.0 630.7 395.8 598.0 417.4 544.9 358.3 618.5 371.4 632.2 414.9 544.1 371.5 603.8 402.5 545.2 426.5 521.3 395.7 564.4 370.4 604.4 405.5 542.4 350.5 642.0 361.5 596.4 394.8 562.0 420.0 564.0 358.2 631.9 400.9 550.4 433.3 506.7 447.5 504.4 397.6 577.4 385.7 578.7 347.6 658.1 431.5 524.0 383.2 573.6 403.3 584.0 431.2 502.5 383.3 567.6 399.0 579.1 383.4 606.7 445.2 504.8 411.2 548.9 345.6 629.1 384.6 596.7 367.6 626.8 389.1 568.2 410.4 565.4 368.8 624.9 399.2 581.8 384.5 581.4 403.2 572.8 412.2 560.2 395.4 563.1 385.0 610.1 348.8 669.9 416.9 542.6 384.1 585.4 374.2 598.1 381.6 602.3 383.6 619.2 394.1 586.9 437.3 530.4 373.8 591.6 367.4 608.1 393.5 552.9 419.2 533.1 374.9 605.4 339.9 629.4 392.1 590.8 431.8 508.4 377.3 584.8 386.6 590.8 358.9 633.5 395.3 575.6 423.4 542.7 381.7 592.4 417.7 539.0 401.8 562.9 385.7 586.9 376.3 588.1 376.9 595.4 382.8 569.9 369.1 642.0 405.8 558.7 375.2 609.8 398.8 555.5 368.3 608.5 412.5 536.4 402.4 533.5 410.6 557.3 356.2 611.8 371.0 595.1 389.3 592.8 398.0 579.7 352.8 620.3 370.8 632.8 371.2 612.5 383.3 598.8 380.4 597.4 379.1 596.7 363.2 622.8 395.7 591.6 398.4 571.2 376.1 613.2 364.8 603.5 364.6 604.6 440.7 528.6 380.3 613.3 429.8 523.1 386.7 593.5 399.1 571.6 372.9 585.4 341.3 648.3 365.6 609.3 364.8 632.4 366.0 632.8 393.2 592.1 385.6 596.7 357.0 618.3 400.3 557.3 403.8 542.7 404.5 575.3 424.7 550.3 387.3 608.5 383.9 570.2 375.3 594.6 401.6 577.6 383.3 594.6 369.6 598.4 369.5 584.2 397.4 559.7 429.9 516.1 413.0 562.1 397.4 594.1 396.6 574.3 377.7 616.0 384.3 596.0 434.6 501.5 395.0 572.6 352.6 645.2 435.4 541.1 389.4 598.0 377.4 590.4 347.6 669.8 418.4 537.5 390.6 590.1 384.6 590.6 372.3 620.5 334.0 643.6 368.1 581.0 372.9 598.1 376.7 580.4 389.5 588.4 419.6 537.3 368.5 610.1 402.7 588.3 397.4 575.0 437.9 514.9 404.4 570.2 348.0 641.6 392.7 603.0 321.8 663.5 405.0 573.3 370.7 604.9 381.5 604.0 404.4 551.1 370.2 607.5 422.1 529.8 409.0 573.3 385.3 580.3 367.1 606.5 400.2 571.3 380.3 604.9 351.6 628.2 369.8 602.4 368.1 611.7 382.3 590.3 382.4 600.8 375.4 615.3 376.9 617.4 346.8 625.6 392.6 574.1 374.5 601.0 373.9 607.9 361.7 622.1 418.8 552.2 370.7 596.5 383.9 587.7 376.8 598.9 363.1 620.6 389.9 593.6 380.5 577.4 376.7 602.0 353.1 618.7 440.8 518.2 368.3 608.5 349.3 621.2 376.8 617.1 377.8 609.2 370.8 627.1 374.6 598.4 382.5 615.0 352.4 638.2 436.8 535.2 340.0 670.1 365.3 585.5 384.9 593.8 405.2 546.7 351.8 617.2 403.0 545.5 352.5 633.5 403.6 579.6 320.3 644.4 378.9 629.6 387.4 610.7 417.6 537.2 384.5 572.1 403.9 553.1 388.7 588.5 352.4 649.7 391.7 577.4 386.2 574.2 383.8 592.0 372.8 585.9 363.2 618.6 377.2 587.5 384.0 599.9 412.6 547.3 362.2 599.4 394.8 558.6 401.8 558.1 370.0 609.6 345.5 648.8 398.6 571.6 372.8 591.0 393.0 567.6 380.8 608.6 400.9 551.6 434.2 499.7 352.6 640.2 372.8 598.6 389.1 596.9 432.8 520.1 388.6 585.6 402.8 561.5 383.8 591.2 368.9 619.3 371.9 600.3 369.9 623.2 409.4 557.2 365.7 615.6 381.8 582.2 434.2 532.5 427.1 550.0 352.5 632.1 366.8 620.4 369.6 635.5 389.4 571.7 384.9 584.3 418.3 546.5 386.0 554.7 372.1 618.2 422.8 536.0 369.7 600.2 437.0 516.0 404.3 570.6 384.6 589.3 399.7 565.4 421.8 528.1 374.7 610.2 372.6 611.3 394.8 587.6 434.5 527.0 358.5 630.8 348.7 645.4 399.0 546.7 407.7 567.4 413.8 558.7 400.9 538.9 388.4 574.2 383.2 627.8 372.6 606.3 388.4 590.9 423.7 556.7 435.3 535.7 393.2 569.7 372.2 601.0 382.6 591.8 341.7 657.3 442.3 492.0 388.8 581.6 367.9 611.5 392.5 578.8 361.8 641.0 355.4 622.9 356.0 608.2 371.5 602.4 334.8 661.4 389.8 568.5 346.9 656.2 360.5 629.5 429.9 523.2 403.7 557.9 394.5 569.6 375.6 623.4 362.9 611.4 399.4 566.2 407.3 570.2 371.1 575.2 331.3 662.9 366.9 614.7 411.4 547.3 399.1 566.6 396.4 570.0 404.7 571.4 396.5 571.3 405.4 562.7 386.4 602.9 387.1 607.3 343.6 614.0 456.0 505.1 340.5 658.1 363.1 608.8 378.9 594.5 371.1 630.6 382.3 585.1 373.4 594.8 433.7 520.9 334.9 660.4 373.3 605.0 459.3 498.4 344.5 658.1 416.4 542.6 356.9 602.6 419.7 528.3 343.4 638.1 394.1 567.4 383.8 584.5 319.3 662.5 433.6 502.0 354.7 644.2 378.1 607.7 383.8 571.1 428.4 540.2 399.5 594.1 378.4 581.4 376.6 599.2 395.7 568.5 367.3 587.1 378.6 609.8 367.3 609.6 360.1 617.6 374.0 606.8 375.5 602.9 343.3 647.2 378.8 590.8 345.8 649.9 350.8 635.2 390.2 597.2 364.1 614.8 381.5 581.7 339.1 664.2 396.5 577.6 390.4 603.4 392.8 555.7 384.9 589.9 353.2 625.2 382.9 551.4 432.9 525.5 371.9 607.6 413.4 561.7 350.1 651.1 365.1 594.5 395.0 572.8 397.6 571.8 400.5 563.4 377.1 608.4 413.9 547.8 365.8 607.3 399.0 557.2 382.5 594.0 396.1 580.4 386.1 585.7 388.9 574.6 420.0 528.7 385.6 593.4 458.8 494.7 408.0 578.1 395.0 583.4 366.6 610.6 393.7 571.5 388.5 599.5 395.0 599.1 420.6 553.3 363.7 597.5 383.7 582.8 360.9 623.5 387.3 546.7 333.4 653.7 377.7 602.5 404.4 559.0 391.7 579.8 395.1 578.3 395.1 564.3 391.5 581.6 359.1 621.6 383.7 582.8 422.1 525.8 406.7 579.4 379.8 607.3 381.4 598.9 366.9 621.6 376.6 602.7 373.5 617.1 362.3 631.3 406.7 577.3 384.9 587.2 398.9 552.5 420.3 554.5 359.9 603.7 352.8 607.4 403.3 590.3 375.9 598.2 395.7 570.4 367.8 639.7 351.0 629.5 405.6 567.4 392.5 577.9 403.4 546.6 390.9 579.0 368.8 605.3 391.8 596.5 362.2 609.3 357.5 615.9 424.1 525.3 400.2 533.3 382.5 593.9 377.2 588.5 426.6 533.9 428.5 521.0 396.4 544.8 366.0 617.8 364.6 629.8 358.7 608.0 384.3 597.3 452.3 497.9 370.2 604.1 398.1 577.2 363.0 615.7 379.9 586.0 373.6 586.3 388.3 598.2 397.2 544.3 433.4 518.6 378.9 606.0 373.0 616.0 445.1 497.0 381.5 570.4 397.3 578.8 420.2 555.8 399.7 551.4 364.0 630.5 385.6 581.1 392.4 570.3 379.8 596.4 369.7 626.6 401.4 558.1 386.7 579.9 382.8 592.3 371.6 586.9 360.9 626.0 340.4 667.1 425.1 563.4 369.4 606.6 375.5 608.9 405.9 553.0 436.0 512.9 378.3 596.1 357.5 637.3 398.2 571.3 406.0 549.5 407.2 573.7 394.5 559.6 380.0 599.4 406.1 553.0 406.2 570.5 371.3 596.1 339.8 649.6 350.7 634.0 400.2 565.1 386.0 565.6 372.7 596.2 366.0 609.6 404.6 578.6 380.6 595.0 392.1 596.1 325.6 662.0 437.5 522.1 385.5 588.4 386.4 598.4 381.9 593.6 388.8 581.0 384.5 568.3 369.2 603.1 387.2 577.4 377.7 611.8 410.9 543.8 389.2 591.5 357.7 637.6 384.6 595.1 379.7 593.3 378.1 604.1 356.6 634.0 393.9 570.5 361.5 631.2 379.0 602.2 387.7 593.6 376.8 600.2 365.4 613.0 399.9 580.6 381.4 581.2 402.3 603.0 394.4 570.5 406.8 545.0 390.3 551.5 361.7 613.0 379.4 589.2 388.8 590.0 350.6 639.4 406.1 574.9 373.4 611.7 345.3 673.6 382.1 620.4 397.2 552.8 381.2 590.4 406.0 545.8 427.1 535.1 379.2 614.4 368.2 607.3 370.5 593.3 381.5 620.0 356.8 630.9 448.0 500.1 391.7 553.1 408.4 555.8 365.5 631.1 381.5 609.6 387.0 601.7 378.3 617.7 392.4 572.1 355.2 631.1 424.0 534.8 375.4 622.2 386.7 560.1 386.6 596.6 434.6 539.6 368.2 617.8 326.0 659.2 414.0 557.6 379.6 599.4 383.2 565.1 450.5 510.9 370.9 599.6 380.9 635.5 416.2 547.1 400.9 577.6 343.9 633.6 382.7 593.2 411.7 565.9 388.4 586.6 386.3 588.7 397.5 578.3 369.8 621.0 411.2 572.2 396.5 592.6 437.8 521.6 339.7 669.4 388.4 578.5 373.2 624.9 380.8 621.6 372.8 624.6 394.3 592.8 359.0 629.7 389.1 577.7 385.8 591.8 393.9 567.6 403.7 566.3 365.1 614.2 382.5 578.4 420.2 541.7 398.7 566.8 398.2 579.3 374.1 618.4 362.0 625.9 416.8 527.5 396.0 573.4 423.5 569.1 445.6 521.5 403.5 560.3 362.5 633.7 425.3 525.5 406.3 558.5 384.7 599.3 437.4 493.5 376.4 605.0 399.1 544.1 386.1 583.3 358.2 616.9 368.2 607.9 393.2 592.4 335.6 658.4 385.3 584.5 376.1 614.1 346.2 627.0 332.2 657.1 366.1 612.6 342.7 645.6 409.2 590.0 369.1 605.8 349.3 625.3 328.2 636.4 427.1 520.9 386.9 587.6 354.4 626.3 379.4 602.3 374.5 605.0 390.5 604.7 400.3 568.1 378.2 569.8 425.4 530.2 332.0 671.8 425.2 540.6 357.4 611.4 416.4 531.2 378.8 615.6 340.5 659.2 380.7 597.1 408.2 550.9 345.2 639.4 380.1 592.4 355.9 614.5 408.3 575.9 371.8 600.1 383.5 597.0 372.9 610.3 404.9 562.4 412.0 555.8 395.1 578.1 396.5 562.6 360.2 595.4 379.4 600.8 362.6 612.9 429.9 537.4 359.6 639.2 365.9 640.7 420.7 560.1 384.2 591.9 397.6 577.8 383.5 575.3 387.0 582.8 395.9 570.4 347.7 644.0 401.5 575.1 384.1 574.3 419.9 539.0 383.9 583.0 352.8 622.1 440.8 523.9 419.1 546.5 418.9 522.9 385.3 579.9 411.9 529.2 398.6 572.6 363.6 609.3 380.3 575.1 422.4 497.6 333.6 647.5 397.1 581.7 386.3 587.8 348.8 645.3 396.6 580.2 444.2 504.6 423.6 543.5 397.4 567.8 426.8 552.4 397.2 571.4 367.4 622.6 423.4 541.3 353.9 610.5 453.9 499.7 393.7 576.3 355.8 618.9 405.8 548.8 387.5 573.8 343.2 648.7 385.3 597.8 394.2 564.5 382.5 575.4 406.8 575.3 419.3 530.5 372.8 605.4 444.8 497.4 398.7 581.0 376.9 587.3 390.4 568.7 346.7 665.1 384.1 571.1 393.3 575.0 400.7 582.7 377.9 586.2 375.9 614.5 372.4 595.6 343.9 624.0 411.0 561.6 424.8 548.6 395.5 596.1 358.5 631.9 390.0 559.9 347.2 652.6 377.5 580.4 374.4 591.7 405.3 567.6 408.7 550.0 386.9 585.6 414.7 547.4 347.8 628.1 356.3 619.1 384.7 596.6 380.4 592.8 365.9 610.9 383.6 594.7 418.2 553.5 377.3 600.6 393.1 579.8 450.2 496.5 402.9 589.8 407.1 599.3 345.5 630.7 368.5 608.5 393.2 591.4 375.2 591.7 368.9 616.8 411.7 564.9 375.5 585.0 335.5 639.8 356.3 630.7 361.8 606.8 378.9 589.5 391.3 599.4 364.7 646.9 446.9 500.0 356.8 633.5 358.4 637.4 410.8 559.1 384.0 587.6 363.9 607.1 365.7 617.2 373.0 615.6 382.5 581.2 375.0 618.1 392.6 595.4 378.5 609.6 381.6 602.6 379.2 593.0 349.1 643.5 366.9 601.5 386.2 602.4 399.9 578.5 397.3 551.3 407.0 565.0 389.1 591.8 415.2 545.8 419.7 527.2 380.2 579.3 431.5 534.8 381.0 617.2 353.3 646.0 394.6 582.9 378.1 585.1 413.5 535.3 406.1 571.8 407.2 573.5 354.0 615.8 385.2 591.0 409.3 559.2 383.4 572.3 366.2 604.8 401.9 584.9 377.8 594.4 377.8 598.8 378.3 586.4 368.8 629.2 357.1 628.5 398.6 582.6 373.2 604.1 373.1 618.1 354.7 619.6 409.2 571.6 379.3 583.7 347.8 623.5 398.4 573.8 387.9 568.4 373.2 587.4 350.9 635.9 361.5 638.6 430.5 533.6 394.8 584.6 397.8 559.2 357.7 614.4 386.7 583.6 385.4 579.5 385.2 577.6 416.8 557.3 362.3 625.0 394.3 594.1 383.9 581.0 371.7 599.9 393.2 567.3 406.1 558.4 367.2 608.6 359.8 630.1 425.6 542.9 419.4 524.4 408.0 585.9 383.0 575.9 390.3 591.5 365.0 602.1 394.4 587.1 360.6 644.7 362.8 605.4 408.5 547.3 370.1 603.0 363.7 635.0 385.5 585.2 413.8 552.4 396.1 578.9 371.5 603.3 381.7 606.9 421.4 522.9 358.3 632.3 397.6 570.8 372.0 600.9 354.6 629.8 351.5 622.6 360.0 621.3 356.9 615.0 355.6 650.9 360.0 615.8 428.8 528.5 383.2 608.5 378.0 598.8 357.2 634.4 388.2 592.5 390.6 601.6 373.0 618.8 379.7 607.0 358.8 625.0 405.7 561.9 381.8 597.4 353.8 642.0 408.1 558.8 373.1 589.7 397.4 564.6 369.6 605.6 401.0 564.1 395.3 578.4 362.5 617.4 390.9 577.0 428.3 525.2 373.1 596.1 371.2 593.3 395.4 561.1 396.6 567.4 405.5 565.7 376.8 614.2 384.3 611.6 407.6 546.5 374.8 590.4 422.7 539.6 389.0 597.3 430.5 522.1 379.8 578.2 405.7 543.7 366.4 601.2 351.0 621.2 382.6 575.7 366.8 633.3 410.8 544.3 378.3 607.1 423.2 531.6 396.3 594.6 388.7 597.8 397.5 585.3 373.7 614.8 344.1 633.2 372.2 619.9 397.7 563.6 375.0 588.9 425.0 556.9 400.8 555.9 341.3 623.2 370.4 620.7 397.8 564.3 393.5 559.2 402.0 574.6 402.6 574.4 362.9 619.8 366.3 615.5 367.7 624.7 438.9 517.9 373.3 616.5 385.8 581.2 365.8 583.6 371.4 585.6 382.3 610.8 391.3 565.3 391.2 593.4 374.0 595.9 388.7 590.2 394.9 557.8 389.6 582.6 392.2 578.4 378.9 597.1 429.5 529.0 370.6 601.1 389.5 547.0 446.6 492.5 427.7 528.6 435.8 518.2 382.4 574.4 401.5 578.4 354.8 641.1 410.4 564.3 400.9 564.3 387.3 582.0 429.2 522.1 353.7 632.9 369.9 618.0 352.2 658.7 402.1 562.0 399.1 580.4 374.9 588.9 358.0 638.9 410.0 555.0 353.8 622.8 360.6 616.4 378.7 587.6 422.3 526.5 443.5 502.4 412.7 541.3 380.1 595.9 387.0 587.8 406.8 526.2 371.8 607.1 349.2 639.3 393.2 602.4 397.0 586.4 404.0 564.0 375.5 611.7 371.7 606.4 359.7 647.7 333.2 641.0 363.6 615.1 403.5 570.9 379.5 602.1 404.3 567.2 366.7 603.5 389.1 592.8 373.7 599.2 405.8 566.4 376.7 617.0 362.1 624.8 411.7 554.4 437.1 506.9 367.9 591.5 371.9 626.9 379.1 605.8 364.2 610.2 406.1 563.1 363.5 647.9 443.1 496.1 436.2 531.6 385.6 607.6 394.5 591.0 372.8 630.6 377.1 610.5 407.8 555.2 336.4 639.0 390.8 590.9 438.6 523.6 393.3 578.2 347.6 649.1 359.5 586.9 434.5 498.1 354.1 622.6 390.8 584.8 368.4 600.9 390.4 571.4 378.6 599.8 391.5 564.1 383.7 554.9 390.0 609.3 397.3 568.9 421.6 526.9 375.6 615.5 434.9 532.6 369.9 603.2 423.2 538.4 370.7 612.5 359.4 637.1 377.4 578.9 347.3 641.9 377.8 587.5 398.8 570.3 385.1 605.9 360.7 620.6 375.5 625.5 393.1 571.9 365.3 614.9 385.8 609.7 354.0 622.9 439.7 493.3 420.9 551.5 429.3 567.0 364.9 639.8 370.1 617.1 330.4 676.9 365.9 589.6 384.1 606.1 389.3 582.3 431.9 544.9 406.9 551.0 390.9 585.6 404.2 548.3 372.0 604.9 390.3 576.4 364.7 606.4 443.1 498.0 366.4 608.5 379.5 599.6 376.8 602.0 351.2 641.6 356.8 600.4 427.1 537.2 376.1 628.8 357.4 620.0 403.3 553.1 408.3 566.8 387.8 587.0 369.0 616.0 373.2 596.8 396.7 555.2 372.5 603.6 403.1 566.5 402.6 552.3 437.3 508.2 385.0 594.8 402.8 566.3 402.5 545.0 391.7 577.6 373.5 598.1 409.0 570.2 383.7 571.8 365.2 621.3 357.8 623.1 389.3 580.4 371.4 617.5 389.6 597.4 357.5 600.6 357.0 624.7 353.9 616.8 379.2 565.2 364.6 624.7 419.1 542.3 426.4 529.9 396.6 595.0 413.9 561.7 403.8 538.3 373.9 602.8 426.5 516.9 358.1 598.4 377.1 603.5 385.8 566.5 376.2 586.3 347.3 642.4 364.0 609.3 375.5 588.4 347.3 640.6 415.0 536.9 400.9 557.4 369.3 644.4 372.7 601.2 380.0 604.9 404.7 553.2 352.2 632.5 354.3 610.4 394.2 581.7 371.1 622.6 375.8 578.3 417.2 550.5 392.2 559.7 404.1 565.6 399.2 583.8 368.3 624.4 386.1 570.0 373.4 598.7 348.1 634.1 397.3 596.1 406.9 558.4 419.1 550.4 366.1 608.8 385.7 588.8 362.4 622.3 384.5 589.3 381.4 599.7 417.0 531.1 354.2 636.9 384.9 595.3 317.8 660.3 376.9 589.7 377.1 597.3 418.2 542.2 413.6 542.3 380.8 595.1 379.4 613.6 366.4 597.6 359.6 624.5 367.1 638.2 378.0 619.2 405.9 571.8 379.1 599.1 419.0 524.1 401.0 572.6 352.9 634.0 348.9 653.3 388.9 569.7 353.9 629.2 418.3 566.2 372.4 596.7 371.3 586.7 359.9 627.0 385.7 590.8 350.3 621.4 391.1 552.3 391.1 598.8 396.1 556.1 388.6 592.4 392.9 619.9 360.3 610.8 450.7 508.8 365.0 588.3 397.0 584.9 350.6 619.6 383.7 606.8 360.0 626.5 391.7 575.1 399.4 611.3 390.5 590.2 348.0 647.2 391.8 583.9 386.1 587.8 410.9 563.3 404.5 537.1 362.0 601.0 376.9 588.6 398.3 572.3 380.1 579.8 368.6 640.8 365.9 612.7 397.3 560.3 405.8 556.4 352.2 643.9 370.3 602.0 418.3 560.8 357.1 626.3 383.8 607.1 348.3 649.5 362.4 636.5 384.5 586.6 402.0 574.3 346.7 653.6 341.6 639.3 334.8 667.9 368.9 617.0 356.0 642.6 387.7 597.8 366.9 594.2 373.3 607.0 392.1 595.0 413.6 543.3 328.9 668.9 377.6 600.2 324.3 666.4 376.1 583.5 389.5 570.1 375.4 621.0 390.2 569.2 375.3 582.1 348.3 650.2 368.0 617.9 335.9 650.2 351.6 617.6 386.1 604.5 365.3 594.2 398.8 555.8 367.0 608.7 420.7 516.4 366.5 634.9 392.5 553.7 387.3 585.3 379.1 580.1 356.0 644.5 402.6 548.5 378.9 592.6 384.3 607.3 346.1 642.9 407.5 532.0 361.7 629.2 382.4 591.0 384.2 578.3 420.1 522.3 377.3 598.3 390.6 577.0 379.5 593.6 350.8 617.0 358.1 643.3 400.9 579.5 383.2 603.7 428.2 511.5 397.4 589.8 440.2 497.7 440.2 536.2 371.1 621.0 384.8 597.6 357.8 607.1 338.7 631.2 368.6 580.7 382.3 629.1 391.7 598.6 368.6 602.7 366.0 638.9 393.1 562.8 341.5 665.9 435.6 524.7 373.4 620.7 382.2 597.3 403.2 537.6 329.8 650.4 349.1 609.0 411.0 569.1 409.2 558.5 369.1 599.7 367.9 596.3 382.1 592.3 376.8 597.3 382.8 597.8 369.1 610.9 401.4 575.4 379.2 583.6 419.7 537.3 385.5 588.7 348.2 630.8 374.8 593.1 382.2 599.1 375.8 608.6 365.8 611.3 349.0 658.9 415.5 556.6 383.4 600.5 398.0 562.5 421.7 556.2 392.5 579.4 404.1 560.1 416.0 563.0 380.9 570.1 386.4 616.9 376.9 612.8 356.0 598.2 387.5 549.9 419.5 539.2 358.4 611.2 434.0 527.3 389.8 582.2 386.8 590.4 365.4 601.3 347.2 631.3 400.9 581.8 371.9 596.8 388.7 619.5 385.7 563.3 400.9 586.3 367.5 625.0 365.4 605.0 422.2 537.1 407.7 548.6 402.6 570.8 358.8 595.8 390.2 612.3 395.1 562.1 373.8 569.1 356.5 611.9 387.6 582.0 354.0 619.5 374.3 603.8 378.7 585.5 395.2 578.4 393.8 570.7 429.7 526.6 358.4 623.0 369.5 619.6 362.2 624.3 416.2 568.1 405.7 568.1 422.9 539.2 395.1 571.6 413.9 552.8 411.3 561.3 359.3 625.0 401.5 573.8 380.0 594.0 402.8 552.7 365.8 620.4 394.6 572.1 370.7 610.7 388.9 585.6 379.3 581.4 351.6 657.0 413.6 554.5 395.4 589.4 352.3 644.9 362.1 629.0 356.1 628.5 382.0 585.4 371.7 619.1 410.2 572.4 355.6 623.0 389.6 564.4 420.1 527.5 363.5 602.7 424.6 536.0 393.0 568.4 380.8 584.5 373.8 627.9 391.6 574.6 426.4 546.4 379.7 574.3 378.3 597.4 392.0 586.8 397.6 565.9 441.3 506.2 377.7 586.9 431.4 513.7 385.7 604.4 383.2 600.7 361.5 621.9 364.2 608.5 404.1 544.2 430.8 531.4 369.9 603.7 425.5 513.3 382.4 583.5 418.9 552.7 337.0 651.4 371.4 597.3 384.4 591.0 375.1 602.6 358.1 630.4 407.4 574.0 381.1 599.8 381.5 606.1 372.7 610.3 397.8 575.8 390.8 560.0 355.8 614.2 386.2 589.6 403.8 553.2 371.9 636.8 356.4 624.5 405.9 544.1 367.6 634.4 427.2 545.9 387.4 594.9 368.1 618.9 401.8 561.2 360.6 610.5 383.8 604.6 436.4 530.0 385.1 575.2 413.6 538.6 353.8 615.8 382.5 587.5 392.6 585.5 383.0 593.7 385.2 603.7 393.9 592.2 380.8 611.2 434.2 519.7 383.7 587.2 369.1 614.6 383.1 590.9 371.8 600.3 425.0 530.1 374.9 608.7 347.3 641.7 377.1 594.5 356.3 620.2 355.4 614.2 413.9 515.1 401.6 557.6 379.5 609.7 405.6 551.9 351.5 635.2 410.2 566.6 371.8 623.0 380.2 600.3 360.7 630.6 369.9 585.1 394.4 579.5 350.4 607.9 378.8 606.7 370.1 609.5 372.3 610.7 389.2 592.5 390.8 576.0 366.7 603.6 378.5 600.6 375.2 602.6 350.7 633.4 374.1 601.0 363.4 624.4 393.9 588.2 339.3 636.8 375.4 616.5 417.1 535.3 392.4 583.9 431.9 521.2 381.8 598.0 383.6 573.5 365.7 612.1 368.3 586.3 404.8 572.9 395.4 581.9 383.2 568.0 388.8 557.5 368.3 623.0 397.4 584.0 399.2 572.2 354.4 615.5 351.3 635.4 393.3 582.5 423.7 529.7 441.0 494.7 410.8 545.3 373.5 616.1 378.6 594.2 401.9 557.1 369.4 597.8 367.7 611.5 331.0 659.0 380.5 615.0 361.9 631.7 379.5 572.8 382.4 594.7 369.4 611.5 414.4 546.0 414.2 556.6 400.2 601.1 364.1 643.2 383.4 593.3 433.6 513.7 453.0 499.8 352.0 622.6 446.0 511.8 375.2 588.3 356.9 618.4 384.1 605.5 410.3 556.7 341.2 638.1 365.3 591.9 360.0 639.0 372.1 612.6 382.3 590.4 359.5 626.9 379.8 596.9 380.0 594.7 338.7 629.1 375.8 585.2 437.6 508.1 360.7 606.9 348.2 642.9 398.6 567.5 380.2 588.5 383.9 605.0 330.1 646.0 393.8 580.1 397.5 597.7 387.0 572.1 401.4 578.5 386.1 606.5 387.8 583.9 369.9 609.4 361.2 603.9 394.5 588.8 386.2 568.4 406.6 547.8 375.2 594.1 389.8 576.7 384.2 578.1 377.3 609.7 401.4 558.4 371.6 599.4 379.4 616.9 366.9 641.4 404.7 562.9 335.6 651.4 355.8 638.9 437.7 498.5 380.5 591.4 404.6 551.1 387.1 588.1 405.5 565.7 370.7 595.3 438.6 512.3 397.8 553.6 377.7 595.2 370.7 614.9 366.5 599.6 353.3 607.2 388.4 588.2 363.5 576.4 320.0 672.2 376.2 601.0 398.9 562.8 381.3 598.4 380.2 590.4 369.9 595.6 351.8 626.7 379.6 594.9 414.5 559.3 390.2 574.6 391.8 582.4 431.3 535.3 367.8 592.5 330.1 636.2 409.5 553.9 416.6 534.5 417.5 525.1 373.0 594.2 420.2 537.0 363.4 614.3 369.7 628.9 381.9 604.3 375.2 594.2 385.4 597.5 380.0 611.4 373.0 603.2 374.5 603.5 388.4 594.4 359.0 613.8 411.9 555.9 391.2 589.7 393.9 582.6 419.4 570.1 399.6 568.4 392.0 582.6 411.5 545.0 353.7 637.8 435.6 503.0 383.3 585.3 382.6 587.2 388.9 590.9 375.0 599.6 423.4 546.5 364.4 622.8 407.9 546.4 382.3 583.9 390.8 587.9 437.0 491.2 368.2 596.8 337.1 641.7 429.9 517.0 421.8 523.8 391.5 582.1 352.1 625.1 384.6 579.9 407.5 572.6 407.6 578.8 401.1 564.3 341.3 654.2 389.8 579.5 363.9 633.2 367.3 604.4 417.7 525.7 375.2 600.6 391.6 562.2 434.4 521.4 389.0 592.5 362.6 624.9 410.0 583.3 354.3 629.3 380.3 593.7 374.3 598.5 397.1 575.8 377.0 601.1 373.3 610.6 397.4 597.3 360.1 632.6 327.6 660.2 368.3 626.9 357.7 608.9 377.0 576.0 407.8 535.5 367.3 614.2 386.3 593.2 378.8 580.8 408.8 565.9 375.7 609.6 403.0 547.6 394.8 592.7 384.3 601.8 410.0 545.9 427.5 533.7 363.0 621.0 434.0 509.8 394.1 565.3 390.7 586.2 399.5 567.9 353.7 619.4 415.6 524.0 377.3 598.1 376.5 608.1 343.4 643.7 359.0 615.0 364.1 609.7 361.0 641.2 427.6 533.3 385.0 599.9 327.0 650.2 424.2 530.5 389.4 588.5 361.7 592.0 361.8 635.6 405.4 568.9 415.7 538.8 380.0 583.3 368.3 617.8 359.1 617.1 422.5 528.2 364.8 596.9 396.8 591.3 350.1 646.6 390.7 588.6 363.6 621.5 403.6 560.2 366.7 634.0 370.9 571.7 374.5 585.5 390.1 573.4 358.1 623.7 395.8 554.2 414.4 550.0 408.1 553.6 394.9 590.7 385.2 586.4 370.2 625.8 339.9 655.8 339.8 638.5 379.2 609.7 381.9 596.0 386.6 608.2 372.4 616.2 381.3 600.7 396.6 569.9 384.4 575.8 438.2 498.1 372.9 610.8 395.5 588.0 368.6 615.5 362.9 626.0 386.5 592.3 432.2 539.8 388.3 587.9 363.3 616.4 422.2 538.4 434.3 528.1 386.5 594.8 389.2 579.9 366.4 610.8 362.2 615.3 390.1 581.0 392.5 583.2 432.5 513.1 343.3 656.2 387.6 560.8 409.6 566.8 404.7 559.0 358.6 602.7 365.6 604.4 380.6 587.3 392.0 586.2 340.5 629.6 449.5 502.8 375.0 597.9 373.4 609.7 393.9 580.0 426.3 541.8 361.5 636.7 369.8 594.9 441.3 521.2 344.7 642.0 369.6 612.9 441.1 516.3 378.5 605.9 390.4 580.9 367.7 611.2 381.6 624.7 390.3 595.4 399.9 572.9 367.6 602.2 437.5 516.6 380.5 580.7 395.9 576.9 349.0 635.9 382.2 596.6 374.7 598.8 442.3 506.3 380.7 591.7 416.8 552.0 405.0 571.6 360.8 611.4 389.0 598.9 391.7 576.7 386.7 580.6 371.6 629.6 386.1 610.0 414.5 555.8 357.3 610.3 363.6 622.2 369.5 618.6 424.6 530.1 380.1 592.1 424.9 542.8 421.4 537.7 360.6 606.3 372.6 609.2 412.8 534.8 408.7 552.1 369.0 589.2 380.4 587.7 336.9 643.0 362.1 626.3 424.5 504.6 390.9 601.2 361.1 611.0 371.4 606.2 357.7 642.3 388.2 595.7 359.9 629.3 419.7 534.1 387.3 589.5 403.4 568.0 399.3 611.5 359.3 639.6 381.4 604.1 388.4 561.1 326.1 670.4 374.9 590.9 397.5 594.6 341.0 658.4 450.1 491.3 365.2 619.2 390.8 589.2 357.1 607.2 379.6 596.3 338.7 660.1 377.1 614.1 387.7 578.4 369.9 601.7 411.8 536.7 376.4 597.3 375.6 599.7 397.0 567.5 394.3 536.3 372.4 602.2 430.6 508.0 388.5 590.4 407.9 573.3 389.5 596.1 355.3 627.4 372.2 611.5 392.4 568.6 398.9 561.8 397.7 571.8 396.8 576.7 370.6 623.2 384.4 590.4 379.9 589.5 411.9 516.6 386.6 577.7 331.4 672.5 370.0 587.1 416.6 537.7 371.3 607.5 397.2 596.9 373.5 600.4 421.9 551.2 392.8 578.8 391.1 601.0 392.1 587.7 373.5 602.2 438.9 503.9 377.4 586.7 386.3 572.9 373.4 607.6 358.7 619.9 381.1 579.9 401.7 577.3 409.7 555.0 362.5 616.9 377.1 601.3 435.1 492.1 394.5 589.9 406.9 556.9 395.1 579.8 413.2 558.9 412.2 546.7 336.0 678.7 395.3 585.7 401.4 565.2 399.1 561.4 388.2 585.2 356.8 628.7 348.5 666.9 399.0 585.5 391.9 591.5 379.3 621.7 410.2 543.5 372.3 614.3 410.1 555.5 356.5 634.8 438.6 509.1 371.4 580.1 371.1 626.1 350.4 633.8 432.2 516.7 395.6 597.9 354.9 646.0 395.8 563.8 369.3 592.6 385.0 572.3 395.9 599.3 423.6 503.8 375.5 609.5 407.1 562.8 372.0 573.8 372.1 616.2 377.4 566.6 383.2 590.0 408.9 578.4 404.5 537.3 388.2 590.9 385.1 604.3 369.4 608.5 385.1 571.9 370.3 601.5 368.2 601.9 340.7 662.5 438.7 519.9 366.5 618.2 384.9 569.3 394.8 573.1 392.4 583.5 417.8 566.1 392.7 598.7 433.4 520.2 337.0 638.3 370.4 598.5 447.2 495.1 435.4 529.5 379.0 589.6 364.4 601.0 354.7 651.8 412.1 513.0 395.2 572.0 326.0 677.4 411.9 531.4 373.2 629.3 352.3 668.1 425.5 545.1 411.9 549.7 397.8 574.2 424.8 527.8 389.8 597.4 389.8 571.2 385.3 574.2 386.7 583.6 380.7 598.3 387.6 588.6 400.4 582.7 375.1 569.7 391.7 584.1 413.7 539.9 360.5 640.4 375.3 606.6 347.0 641.0 317.8 679.3 366.9 610.2 435.6 524.8 364.2 616.9 423.5 536.9 362.2 627.0 385.0 570.9 358.0 615.0 442.9 513.7 420.5 533.3 377.0 589.0 379.0 599.6 404.0 575.4 354.3 644.5 412.4 527.6 384.2 604.5 387.5 590.6 420.4 541.9 389.7 592.6 364.5 614.5 385.3 588.6 354.0 619.9 420.6 546.4 384.2 578.2 363.4 613.9 374.3 580.8 369.5 594.2 401.4 566.7 400.7 585.9 409.1 560.0 362.1 633.3 377.4 568.7 440.4 512.2 371.4 613.2 364.3 630.4 373.0 615.8 420.3 526.9 357.9 630.7 395.0 558.5 378.2 599.3 365.7 616.1 398.9 598.4 362.8 618.6 391.0 603.1 405.7 553.2 391.2 579.0 370.5 621.6 356.8 610.9 371.6 618.4 361.3 614.5 417.2 550.2 383.4 594.7 398.1 586.7 334.2 637.4 373.9 597.6 413.0 571.2 358.4 643.0 377.3 592.1 374.3 609.9 386.5 586.0 372.1 601.6 381.9 596.1 408.5 571.7 370.9 594.2 442.2 500.0 376.1 607.0 334.6 650.6 408.5 579.8 407.6 555.7 354.9 641.8 384.0 580.3 414.9 562.6 342.5 660.8 390.9 594.1 375.5 606.2 342.4 675.8 396.6 561.0 390.3 579.1 383.8 562.6 397.5 578.2 354.2 647.9 378.4 585.9 394.4 583.4 372.8 606.9 399.9 570.5 387.1 580.5 353.2 630.8 348.1 631.5 394.5 588.1 434.3 518.0 412.0 561.4 386.1 582.7 384.4 585.7 385.9 573.0 384.0 607.8 410.1 551.1 399.1 577.3 390.4 577.7 366.5 626.9 331.3 650.0 370.9 606.7 367.1 612.8 376.4 577.0 411.6 538.1 335.0 655.9 386.0 576.3 369.5 615.9 377.5 596.4 344.0 636.7 376.8 573.1 434.1 493.2 367.9 606.1 373.7 596.4 381.1 614.8 380.4 599.9 429.2 542.9 397.9 538.6 383.8 590.4 340.1 660.0 353.6 626.3 372.0 587.4 337.8 648.5 424.2 539.0 413.0 538.2 394.4 572.5 360.7 623.4 420.9 569.4 411.6 556.5 381.5 595.9 410.8 538.6 372.3 609.6 382.5 595.2 438.5 508.4 377.4 583.0 372.5 579.7 372.4 621.7 395.5 585.8 350.6 610.4 414.5 551.5 387.5 596.9 357.3 618.4 391.4 560.6 360.1 617.4 403.6 563.0 338.2 645.7 357.5 630.3 366.7 626.7 408.6 531.1 403.5 572.8 449.5 498.4 435.6 499.5 330.4 675.1 371.0 617.7 372.0 593.8 383.6 591.9 407.8 555.3 410.3 553.2 384.2 561.6 439.2 521.1 332.4 668.6 433.0 512.0 364.7 601.1 367.3 616.0 332.0 662.5 380.6 621.8 447.6 513.7 368.5 612.6 388.9 584.3 392.8 581.1 439.6 509.6 376.9 595.0 348.2 613.9 417.2 550.5 367.1 599.1 372.1 619.8 367.4 614.2 334.6 661.2 404.2 572.6 371.0 609.2 387.5 576.0 378.2 604.3 371.9 630.4 372.8 591.5 435.4 492.8 356.9 618.1 384.0 590.4 404.8 565.8 340.3 640.6 374.6 562.0 346.4 630.9 368.3 620.0 378.5 588.0 414.6 562.0 388.7 568.3 388.0 586.1 362.4 604.0 384.8 592.3 364.7 644.6 381.6 589.7 408.4 565.8 403.7 562.9 349.4 618.8 378.5 615.0 388.9 594.1 387.8 608.9 366.7 613.8 399.5 566.2 408.9 557.4 349.1 627.5 403.0 548.3 382.0 577.7 372.3 646.8 378.3 616.3 386.5 587.3 381.8 605.1 365.6 604.4 416.7 530.6 379.3 608.6 397.8 572.9 398.2 574.5 365.8 600.8 387.4 593.5 395.1 578.3 345.3 631.1 400.5 570.3 346.5 648.6 404.5 543.5 425.7 545.2 387.2 596.1 366.4 573.4 381.7 594.0 350.8 621.4 353.0 643.8 368.6 651.6 398.4 560.0 391.5 582.5 433.7 535.9 387.8 583.1 437.2 517.8 365.0 615.9 382.6 581.4 380.0 606.0 365.3 604.5 349.9 640.6 395.7 566.3 368.5 595.8 396.4 552.7 388.0 570.0 368.4 626.5 374.6 618.9 369.3 594.5 381.0 603.6 361.8 626.5 347.9 645.5 351.3 600.6 389.7 604.1 353.8 629.8 396.9 572.7 352.5 624.8 394.0 582.6 434.8 522.5 337.6 647.7 359.0 618.6 417.4 549.6 346.2 638.1 366.7 607.0 373.2 619.8 413.7 564.3 406.5 542.2 375.5 599.3 405.1 545.8 351.5 642.7 371.6 596.3 368.5 623.9 366.2 603.1 393.3 576.4 404.1 549.3 427.5 548.2 350.7 622.2 404.9 570.7 361.8 630.4 388.1 578.1 384.3 605.0 397.2 567.0 422.6 539.6 362.9 611.4 378.2 596.3 431.3 523.3 399.7 573.4 350.9 640.9 385.5 600.5 379.1 588.4 382.6 595.9 345.0 618.7 385.2 575.0 377.0 593.4 366.6 589.0 401.5 578.1 370.2 633.1 368.9 597.6 398.7 580.9 371.2 629.1 406.2 559.3 381.0 599.6 367.1 603.6 372.0 587.4 388.7 562.0 405.4 548.8 411.3 545.2 383.4 605.6 391.0 564.3 365.3 605.2 430.5 535.6 443.7 510.1 399.7 583.5 345.5 642.9 403.0 571.3 352.9 630.3 372.2 630.1 402.7 550.8 363.9 617.4 391.3 592.8 365.1 617.0 356.7 639.2 390.5 575.3 372.9 607.7 377.4 609.0 389.1 582.0 353.6 638.5 374.9 604.2 377.5 606.5 399.2 551.8 358.0 617.3 382.5 588.3 417.7 538.9 388.6 573.9 349.1 601.3 413.5 551.0 398.9 562.6 423.4 529.3 398.1 554.5 380.9 586.6 399.9 578.2 356.1 623.4 387.0 595.6 384.4 598.0 387.7 589.2 369.6 619.8 395.9 557.3 388.3 590.7 378.1 585.8 409.9 551.1 409.6 562.8 392.6 567.2 389.6 619.7 349.3 648.5 367.8 588.2 376.7 598.8 344.6 647.5 364.0 606.4 364.4 631.9 359.4 644.5 394.0 586.6 363.7 635.8 404.1 571.7 363.9 621.7 352.8 634.1 355.4 633.3 431.0 546.1 344.9 646.6 369.4 635.3 342.8 658.0 357.7 602.8 365.2 609.4 411.4 569.0 405.6 559.9 395.4 576.9 373.2 611.9 366.7 630.9 384.9 587.6 384.7 586.7 344.5 631.9 363.4 611.5 377.8 573.3 374.3 602.4 435.0 555.1 391.5 596.7 398.4 568.4 412.8 574.9 366.2 598.1 384.6 613.0 354.5 637.8 404.8 571.8 393.6 588.2 388.7 567.1 353.4 639.2 371.0 601.5 373.1 614.6 420.7 524.0 392.7 568.0 384.4 563.4 417.5 559.0 364.6 616.8 385.2 582.0 381.3 597.1 375.5 613.0 366.1 636.5 430.7 522.3 395.4 573.1 400.2 570.2 350.5 634.5 383.9 595.9 445.5 509.9 357.2 661.8 400.2 561.7 350.5 635.0 380.2 592.7 423.9 550.7 383.6 603.0 359.2 630.5 376.0 602.6 375.1 609.9 386.9 579.8 413.6 548.0 359.8 617.3 367.7 606.5 347.4 638.6 382.0 607.8 391.6 591.5 433.7 542.1 371.1 633.9 434.0 530.1 365.4 601.6 358.3 629.8 374.8 607.2 393.1 579.3 361.1 626.0 397.0 592.0 355.7 642.4 400.0 549.6 376.3 605.3 372.2 591.2 376.0 590.7 406.5 571.3 363.6 597.0 366.6 606.7 351.9 657.6 376.7 608.8 385.2 580.9 353.4 652.9 419.6 541.4 365.4 597.2 346.1 643.7 345.4 638.1 412.6 555.3 421.0 534.5 351.6 626.2 336.0 657.4 375.8 632.0 404.6 574.7 360.7 627.3 371.9 591.6 423.5 537.3 365.8 641.8 385.9 580.8 354.3 640.2 385.8 593.2 382.0 585.1 424.5 526.0 330.0 625.0 404.2 540.5 368.1 611.2 381.1 583.4 398.9 567.1 364.5 630.7 356.3 629.6 368.8 596.3 373.1 593.0 446.1 496.2 370.3 588.9 352.4 624.9 371.2 593.5 402.3 572.8 368.4 621.6 441.6 504.2 395.4 563.5 357.5 617.7 445.8 495.6 400.7 536.6 349.6 634.1 392.0 570.0 398.1 575.0 399.6 571.1 343.3 632.8 393.6 552.3 384.5 593.5 385.6 602.0 382.8 577.7 400.4 549.2 432.7 525.7 368.1 608.7 378.9 600.2 351.2 652.0 331.2 656.4 369.7 595.6 358.9 630.0 367.7 592.5 361.8 644.3 366.4 600.5 372.0 637.4 395.8 581.3 350.7 646.3 360.2 634.3 383.8 562.4 344.3 642.2 399.7 548.4 391.4 554.0 345.2 634.1 367.8 617.9 365.3 619.0 382.0 605.1 404.2 559.4 362.4 602.6 395.0 591.7 385.6 599.3 395.5 576.3 419.9 520.3 406.8 563.6 366.8 591.1 384.4 605.9 320.2 667.3 405.2 542.2 412.7 563.4 372.6 612.3 395.9 562.0 357.6 627.1 367.8 604.7 352.9 622.6 394.2 561.7 344.4 618.3 400.4 580.8 401.2 566.6 417.8 530.5 365.4 604.9 352.3 644.5 443.8 497.2 348.7 647.4 360.5 600.9 381.9 596.9 388.3 620.5 403.9 600.8 337.4 641.5 403.2 541.7 358.9 617.4 384.2 582.2 416.7 544.4 385.1 589.3 400.9 572.5 355.8 648.7 426.0 533.3 378.0 590.9 386.4 593.2 365.0 610.6 377.9 588.3 387.6 607.6 410.3 551.7 408.1 562.4 377.8 583.5 376.8 588.1 416.8 541.2 381.2 617.6 367.1 601.7 425.5 544.6 382.0 604.2 380.6 602.4 441.7 502.2 367.9 617.9 425.2 507.5 401.2 544.8 363.5 624.3 405.1 561.0 413.9 562.4 369.5 627.2 375.9 620.8 386.9 575.8 403.0 568.3 434.5 528.9 447.6 509.1 365.7 630.1 375.2 604.5 344.7 635.6 411.0 534.3 336.7 645.9 387.0 591.4 376.3 610.7 355.9 591.5 389.0 588.9 377.4 599.6 337.4 674.2 415.5 555.2 363.9 625.4 372.4 602.0 339.2 632.6 405.9 552.9 348.9 647.9 404.6 584.2 356.9 628.2 370.7 601.6 424.0 545.3 389.9 588.6 418.5 539.9 367.7 624.8 381.3 586.0 373.7 614.1 389.6 559.0 387.4 586.6 371.5 614.1 393.1 582.6 371.5 621.0 370.9 602.8 352.2 657.9 379.9 585.1 394.0 579.3 365.2 633.2 378.2 590.5 383.2 587.1 396.5 591.4 402.9 560.1 385.8 591.3 313.7 690.5 315.5 688.8 323.0 686.7 325.5 682.4 328.8 685.0 335.3 683.7 336.3 682.9 337.9 679.9 318.0 679.9 466.8 454.8 465.6 463.3 460.0 465.9 477.3 465.9 447.1 476.5 442.6 481.2 443.6 479.5 448.6 481.6 445.9 485.4 458.7 479.0 466.8 481.6 456.2 486.7 447.4 488.0" fill="none" marker-start="url(#m)" marker-mid="url(#m)" marker-end="url(#m)"/><path d="M314.3 681.6L478.2 470.2" stroke="#4466dd" stroke-width="1.1"/><path d="M312.20 727.5v5M302.0 713.50h-5M362.50 727.5v5M302.0 628.40h-5M414.45 727.5v5M302.0 543.30h-5M465.05 727.5v5M302.0 458.20h-5" stroke="#666" stroke-width="1.2"/>
<rect x="568.0" y="400.0" width="197.0" height="327.5" fill="#e5e5e5"/><path d="M603.35 400.0V727.5M653.90 400.0V727.5M705.80 400.0V727.5M756.60 400.0V727.5" stroke="#f8f8f8" stroke-width="0.95"/><path d="M568.0 670.95H765.0M568.0 585.85H765.0M568.0 500.75H765.0M568.0 415.65H765.0" stroke="#f8f8f8" stroke-width="1.05"/><path d="M578.20 400.0V727.5M628.50 400.0V727.5M680.45 400.0V727.5M731.05 400.0V727.5" stroke="#fff" stroke-width="1.3"/><path d="M568.0 713.50H765.0M568.0 628.40H765.0M568.0 543.30H765.0M568.0 458.20H765.0" stroke="#fff" stroke-width="1.5"/><path d="M727.1 471.2 693.2 526.7 719.6 487.9 722.2 464.0 705.4 511.5 676.4 544.0 702.4 511.4 718.2 482.1 727.5 488.3 720.2 466.6 681.2 575.0 700.7 540.3 664.2 586.2 680.4 542.2 702.7 508.7 699.4 527.8 692.9 504.2 674.3 546.6 669.4 575.9 696.3 539.4 731.1 481.6 693.6 533.8 726.6 475.7 708.1 520.7 669.2 549.9 713.7 501.2 695.4 536.4 668.1 537.1 706.8 488.3 700.8 526.4 697.4 524.4 721.3 485.0 708.9 504.9 703.7 517.9 686.0 542.5 694.6 520.5 697.4 506.9 705.3 531.5 690.3 541.4 718.1 475.8 688.3 533.7 684.0 553.5 678.8 553.3 700.7 512.4 710.5 500.0 696.4 513.4 722.0 488.1 720.9 496.0 668.3 578.6 695.3 527.1 703.5 517.2 701.3 496.1 727.8 463.8 664.1 567.2 673.1 574.4 681.6 571.5 718.7 490.1 686.6 523.5 675.5 551.6 669.6 550.8 689.6 540.5 710.3 484.8 666.5 529.3 702.9 501.9 702.7 508.0 698.9 511.9 705.5 513.8 679.8 549.2 697.9 525.3 701.5 519.6 698.4 519.7 684.4 532.3 698.1 521.6 685.5 528.5 693.6 541.0 737.4 468.6 690.2 532.9 684.0 536.3 707.4 507.4 645.9 581.7 695.5 529.5 656.3 583.9 670.2 559.6 698.8 516.7 677.6 537.1 719.6 467.0 702.2 514.1 708.3 515.2 708.3 501.9 697.2 526.0 700.1 510.0 698.6 501.5 714.0 496.0 728.1 458.2 718.2 494.7 693.0 538.2 714.2 537.2 705.5 511.2 714.0 512.2 676.1 553.8 697.5 522.3 704.9 532.5 710.9 527.4 681.6 526.4 733.2 476.0 723.7 467.7 713.8 527.3 667.0 577.0 688.9 523.7 675.7 532.2 700.6 537.9 678.7 542.1 696.2 500.0 691.9 515.3 654.9 565.4 705.4 512.7 700.8 526.7 685.1 530.0 707.9 501.6 657.3 587.1 696.8 554.8 682.5 556.8 723.7 480.7 677.8 543.4 725.3 493.4 717.0 477.7 661.3 560.4 705.7 503.8 700.2 517.7 684.0 547.2 688.5 553.0 700.2 532.2 716.2 500.2 670.9 553.4 684.1 546.2 657.0 573.8 708.0 507.3 678.2 541.6 676.2 542.9 712.5 505.2 680.9 543.7 686.2 539.2 693.0 543.1 675.7 529.5 698.5 524.3 697.2 530.8 666.6 577.2 704.0 510.1 703.2 522.4 700.1 515.6 698.9 523.1 683.6 534.4 676.4 552.7 724.9 496.9 701.8 517.2 709.4 494.9 672.0 552.0 676.5 549.4 699.1 507.0 683.9 535.9 738.6 459.1 683.2 547.2 706.1 512.9 695.9 528.3 675.3 535.2 712.4 478.0 715.7 482.6 710.0 508.5 691.5 522.8 677.3 517.7 705.8 523.4 691.4 519.0 676.7 544.5 695.1 551.3 689.9 536.8 703.0 503.8 693.2 525.5 678.5 561.3 720.4 492.9 666.6 563.8 712.7 481.3 704.7 498.2 700.7 484.3 724.7 476.7 672.9 543.1 694.3 550.1 680.4 557.8 699.5 527.3 706.8 511.9 693.0 546.2 697.0 525.0 676.3 556.5 697.0 510.2 641.6 586.9 689.3 539.1 681.7 542.1 688.6 516.2 708.2 526.4 700.4 497.4 673.5 584.3 722.6 486.7 707.1 520.0 675.2 551.3 675.4 551.2 682.4 556.6 708.5 501.8 696.9 527.8 696.0 528.6 688.5 533.5 679.9 544.6 685.6 538.0 692.7 528.8 701.6 516.1 707.2 514.8 706.9 522.7 679.4 533.8 690.4 551.8 680.3 542.2 668.9 540.0 709.7 509.2 712.2 503.4 681.4 543.2 724.7 475.4 684.3 535.3 733.5 456.3 692.1 549.9 708.3 513.9 722.5 486.5 707.8 499.8 692.6 520.7 704.3 511.2 682.3 525.8 691.3 542.7 701.4 513.7 721.9 479.6 682.5 560.8 670.2 554.7 693.5 534.5 690.6 517.9 738.9 460.8 693.7 555.8 667.6 558.8 706.8 493.7 700.5 527.1 685.1 539.6 658.6 572.8 700.1 522.9 678.4 563.3 690.3 547.1 714.5 510.8 686.5 518.4 682.7 543.5 676.7 560.3 686.1 544.9 674.0 554.2 738.4 457.9 706.6 513.8 692.2 518.3 689.5 522.4 672.8 549.5 677.2 554.6 679.6 534.4 698.0 539.7 735.5 465.8 669.9 577.4 702.4 538.3 700.3 514.9 697.6 518.0 699.8 510.0 693.0 528.3 684.9 516.0 723.7 473.6 717.1 507.7 700.6 510.4 699.9 539.9 720.7 486.3 683.9 535.9 669.4 564.7 716.8 488.0 705.4 501.5 717.0 498.7 699.3 507.8 675.8 552.7 708.2 502.6 682.2 556.2 662.4 558.0 707.4 517.8 694.9 525.1 673.4 543.2 678.0 540.9 714.1 489.4 683.3 551.9 688.8 518.6 689.1 540.6 702.5 521.4 677.4 530.2 663.8 566.9 673.1 553.6 687.6 538.3 713.2 516.7 695.6 521.4 703.7 500.9 699.8 521.1 687.6 522.0 682.0 548.7 698.1 522.2 653.7 580.3 694.6 529.1 650.7 581.9 700.3 533.6 696.6 528.2 695.4 524.4 711.0 515.0 654.3 583.7 697.3 523.5 700.2 516.9 686.9 506.5 700.7 533.5 692.5 517.4 665.2 564.0 689.9 522.3 720.9 477.7 671.5 563.2 684.3 536.7 725.8 493.0 710.6 506.5 684.1 563.2 700.1 522.6 701.0 518.0 706.3 514.7 679.5 525.1 711.4 510.5 699.0 521.6 662.7 570.5 706.9 527.7 718.7 484.1 701.2 528.2 692.8 535.5 696.1 526.4 692.6 523.6 715.6 478.2 660.0 547.2 666.7 551.1 681.3 530.6 707.8 529.7 684.7 545.6 691.4 530.1 715.3 488.3 705.4 503.2 706.1 503.3 703.1 494.7 704.3 513.0 650.6 581.1 688.9 511.0 701.5 500.0 687.1 537.3 702.3 526.3 715.0 493.2 704.2 518.1 704.2 501.0 709.8 500.2 686.5 507.0 698.8 516.1 672.8 542.7 695.8 513.6 690.3 530.9 715.8 498.2 714.3 505.9 697.7 529.1 665.3 566.8 696.6 521.5 668.2 555.5 710.2 498.2 685.3 551.2 678.7 532.9 715.9 481.1 714.9 497.5 701.5 495.2 721.7 478.4 725.1 496.9 720.2 462.3 712.5 515.1 714.0 490.2 722.2 488.7 700.4 516.5 702.5 529.4 668.4 572.9 738.2 490.9 690.4 533.5 713.0 516.5 678.6 548.0 700.8 518.7 675.0 540.7 712.1 478.4 675.5 566.4 661.2 566.8 713.8 519.2 702.6 511.5 668.2 549.5 713.9 487.3 703.4 513.0 678.3 543.9 714.7 502.0 697.9 536.0 720.3 468.9 692.3 502.5 675.9 552.5 683.4 551.1 714.7 505.4 674.4 556.1 676.6 526.7 713.1 493.3 696.0 517.8 656.1 565.0 672.9 560.9 652.7 583.3 661.2 586.7 666.4 552.2 717.1 507.0 695.4 527.3 702.8 526.9 666.9 560.6 694.7 514.9 704.2 502.0 693.5 525.9 670.0 548.6 668.8 574.0 703.3 512.4 668.0 564.9 698.1 520.8 684.3 548.2 702.0 532.9 696.9 525.1 698.2 525.8 654.6 588.3 692.0 556.4 703.5 494.0 688.1 532.6 686.6 524.5 700.6 479.5 700.5 532.3 707.7 493.7 702.4 523.3 713.0 487.5 680.5 543.8 683.2 532.2 703.8 487.7 706.1 488.1 660.6 564.9 707.1 513.3 684.0 530.9 716.1 506.3 703.9 502.8 679.0 510.2 701.4 523.0 711.2 506.7 718.0 486.0 701.9 521.6 663.6 569.3 686.6 530.9 701.7 499.5 690.4 521.7 701.4 514.5 692.3 535.1 696.7 512.5 688.1 525.7 715.0 476.1 696.0 511.5 681.5 542.0 663.7 544.5 685.5 523.3 662.7 572.3 691.4 517.2 694.6 511.4 694.3 514.7 734.2 480.8 711.5 491.9 695.3 519.0 680.7 549.5 683.3 545.6 694.9 537.6 652.3 571.4 707.2 520.2 717.9 488.5 662.7 559.1 664.8 576.9 704.8 526.6 675.3 554.7 687.5 540.6 717.9 527.8 696.7 511.4 679.6 535.9 693.8 516.9 671.9 547.7 702.1 538.7 696.3 560.3 717.3 493.9 715.5 509.1 708.6 501.4 713.5 508.9 723.8 481.0 687.2 523.6 710.1 512.2 713.9 503.3 714.2 487.1 728.4 495.0 669.5 554.1 723.8 501.4 714.4 520.3 670.0 549.8 705.4 531.0 678.9 514.4 669.8 556.7 715.3 484.4 679.8 535.5 685.6 546.0 699.8 518.5 706.0 525.6 716.8 510.2 682.2 548.0 696.0 527.1 720.3 465.3 719.1 488.7 699.5 511.8 733.3 464.8 692.7 532.9 682.9 532.0 681.3 546.9 721.4 482.8 673.6 560.4 724.5 473.7 656.5 598.2 686.4 527.0 702.6 498.7 713.5 492.8 683.4 549.6 674.3 537.6 707.5 517.7 687.4 529.8 687.4 535.1 700.8 509.6 651.1 570.7 681.6 535.6 721.3 473.1 712.2 506.7 676.4 528.6 700.1 516.2 696.0 509.9 666.2 554.6 660.4 568.5 676.0 548.0 679.4 534.2 689.2 530.6 694.8 509.8 678.2 549.1 693.6 552.5 709.8 506.5 675.0 541.8 692.2 537.9 647.3 593.9 692.5 531.8 706.5 522.1 701.2 522.8 674.3 543.7 706.7 493.5 696.6 526.8 695.5 530.1 672.1 552.9 691.6 516.1 689.4 511.0 734.7 459.4 688.3 516.0 724.3 470.8 676.5 550.3 694.1 516.9 675.7 549.7 707.1 529.1 692.3 546.2 681.5 507.0 711.3 499.4 675.6 555.6 688.2 559.2 708.0 489.4 701.1 504.9 716.7 494.3 701.9 533.7 702.2 512.1 686.9 528.9 715.9 503.2 682.3 536.9 676.6 539.9 689.5 528.6 692.8 526.6 700.2 518.6 704.1 503.3 707.9 533.3 718.3 517.1 725.3 511.0 678.6 559.4 691.1 538.6 672.6 580.5 681.0 557.2 724.5 489.7 688.5 522.9 723.3 497.9 702.2 513.1 656.2 581.0 714.9 496.0 684.3 551.5 666.7 569.8 717.7 492.4 667.3 557.2 695.3 519.9 663.2 551.0 724.3 456.5 671.6 540.5 703.5 500.7 663.4 575.9 695.9 529.8 673.8 538.3 687.5 529.4 703.5 521.1 703.5 493.9 660.0 540.7 697.7 512.9 687.0 522.1 713.0 487.9 688.9 535.4 693.1 514.5 706.4 504.2 721.1 473.8 708.1 491.6 698.2 535.9 688.2 534.1 720.6 493.1 725.5 485.1 679.2 555.7 703.0 516.7 700.1 525.3 682.1 569.0 700.5 502.5 695.0 529.3 693.5 546.5 672.3 554.1 687.3 555.0 709.9 511.7 696.4 545.9 698.3 514.1 700.2 524.5 701.4 497.7 701.3 509.2 698.6 509.1 691.0 515.5 680.0 557.5 691.8 536.7 692.7 551.3 709.9 538.6 657.7 579.6 713.6 505.7 708.3 503.7 686.7 544.6 703.5 537.2 694.7 514.8 710.6 506.4 674.3 551.0 700.8 514.8 701.4 526.5 733.7 491.7 701.3 538.0 664.6 551.0 718.7 514.9 701.0 514.1 724.7 455.8 715.2 521.7 706.5 495.3 710.2 512.7 705.6 514.1 703.0 513.5 723.4 456.2 706.0 515.6 704.8 525.2 682.0 530.3 712.7 503.0 721.0 510.4 715.3 505.8 737.3 458.9 674.9 559.8 668.9 547.8 718.7 507.8 659.5 557.1 725.5 504.7 660.7 569.7 726.9 471.9 711.8 522.4 719.2 497.8 679.6 513.6 717.0 488.0 667.8 561.4 687.2 533.2 708.9 489.9 679.2 566.5 703.6 504.4 711.6 503.6 683.0 543.8 702.1 526.4 705.7 506.3 689.5 540.1 670.1 563.8 674.2 543.5 705.4 542.5 693.0 509.8 682.9 557.0 681.5 543.3 703.0 503.5 688.6 544.5 695.7 503.0 721.0 486.3 699.9 527.3 722.9 481.9 705.8 516.2 706.4 498.0 697.8 526.0 656.2 583.6 724.9 469.0 725.4 512.1 672.9 572.1 660.1 571.1 708.3 520.3 695.2 538.1 669.1 555.4 696.5 515.9 696.6 529.4 702.5 493.8 724.7 472.2 683.5 541.9 698.1 520.9 720.6 479.3 720.4 501.5 689.8 536.2 727.1 483.9 694.1 532.1 715.3 505.6 697.5 521.4 698.8 508.7 671.8 536.4 700.4 524.1 699.7 518.1 695.0 514.7 680.2 552.0 703.0 507.1 686.6 549.3 738.6 458.8 694.9 533.8 675.0 538.6 710.5 498.0 703.7 502.5 698.3 519.3 689.9 535.7 736.2 460.5 694.1 526.6 690.6 535.4 722.3 484.9 701.8 525.6 681.9 544.7 690.9 530.1 684.4 542.1 683.7 530.0 714.5 499.7 695.3 517.4 692.8 528.9 650.1 585.7 693.2 539.7 696.0 519.9 726.9 481.2 725.1 481.8 696.3 533.7 713.4 504.4 730.3 485.0 721.6 504.1 707.4 546.5 719.8 486.2 721.0 476.3 729.9 459.8 707.3 490.7 666.8 564.5 686.3 541.0 668.6 554.0 681.8 539.5 698.5 544.9 710.0 507.8 712.4 490.5 710.9 504.8 681.0 526.7 726.2 492.5 651.5 557.2 685.4 535.1 689.9 533.7 690.1 504.6 682.8 532.2 723.9 472.8 688.4 535.5 707.5 521.0 724.9 471.9 692.0 531.1 691.0 506.9 689.0 538.8 709.4 492.1 675.8 519.3 667.8 560.1 716.8 515.6 673.3 574.8 689.9 534.3 712.7 498.9 671.8 536.5 679.0 519.5 701.7 502.8 704.7 512.3 694.7 527.4 682.1 529.4 679.7 554.7 718.9 478.8 730.2 480.7 693.9 527.3 689.6 531.0 686.3 521.3 712.1 512.8 700.3 523.3 677.8 543.6 699.7 518.4 700.1 518.9 682.3 541.2 679.0 542.5 683.7 531.3 715.5 506.6 696.7 553.0 678.2 534.1 705.3 511.7 673.3 559.8 664.6 585.1 702.2 517.1 683.5 546.8 681.6 536.7 697.3 506.1 720.8 496.1 709.8 498.6 687.0 546.9 672.6 575.5 695.9 547.2 653.8 596.9 704.6 501.4 678.1 545.5 690.2 534.8 705.6 529.6 691.4 551.9 697.3 540.0 708.9 509.0 703.7 519.4 737.7 482.6 697.8 510.6 717.5 481.1 683.3 538.8 690.4 535.8 687.5 541.6 712.8 498.5 680.4 553.0 717.4 482.4 703.7 507.1 695.3 519.9 717.0 492.6 695.6 529.3 709.0 499.2 732.6 469.3 698.6 523.0 693.8 542.1 718.0 487.4 700.7 519.9 673.0 550.5 718.5 494.7 664.2 547.6 691.7 540.6 699.4 532.8 680.1 545.2 690.0 535.2 667.4 538.6 715.2 487.3 715.4 478.8 699.2 504.9 656.9 585.5 698.4 525.7 694.1 526.8 688.0 530.1 696.8 502.7 700.2 510.7 667.4 575.8 721.8 458.6 673.4 544.7 684.5 554.8 681.4 526.6 678.7 537.1 743.7 462.7 688.9 531.9 703.5 508.4 723.1 511.0 709.1 496.2 681.6 536.4 676.3 547.7 725.4 495.9 665.6 557.6 716.1 487.2 682.2 530.1 704.2 535.6 695.1 521.7 702.8 526.4 686.8 530.2 687.6 562.7 702.2 523.5 681.8 572.4 715.5 507.3 672.5 543.2 698.6 530.6 709.6 520.6 682.4 551.9 675.0 558.3 684.4 542.5 699.5 522.5 695.9 524.7 714.5 472.5 710.6 522.8 697.2 508.0 716.8 480.1 688.8 569.7 725.7 462.8 704.6 490.3 712.9 491.9 678.4 563.3 699.7 528.6 688.2 533.4 704.1 489.6 683.3 540.2 714.1 510.1 653.6 566.0 686.3 523.6 724.5 474.7 682.6 535.2 694.9 524.0 696.9 528.1 687.9 544.8 690.6 529.6 713.8 478.2 706.7 475.0 691.8 540.9 698.4 532.3 712.6 505.4 697.2 540.9 710.3 483.5 701.5 521.3 717.5 515.4 686.0 540.5 707.9 494.9 717.5 488.8 711.2 507.4 681.1 546.0 699.0 511.2 695.9 506.3 724.0 471.3 732.4 465.1 698.2 515.9 697.4 533.1 679.5 539.3 722.5 488.0 726.7 475.2 680.8 550.7 690.6 529.1 677.8 549.4 691.9 534.1 704.1 511.7 710.8 520.8 673.2 588.7 690.0 534.1 710.6 494.5 688.6 535.3 709.4 494.4 690.4 547.9 649.8 578.4 680.6 544.4 690.4 563.5 699.0 519.1 699.2 508.8 695.3 531.5 679.6 553.8 711.8 520.3 705.7 499.5 663.1 562.2 723.0 495.3 691.9 521.8 702.7 514.5 680.5 525.4 698.0 501.3 706.3 503.6 705.0 525.9 696.2 507.2 699.0 523.4 678.6 545.7 655.9 575.1 709.9 505.7 683.4 540.3 670.0 565.3 680.6 548.9 664.6 569.4 689.4 551.6 720.4 516.6 691.8 532.3 681.3 544.1 684.9 540.1 721.4 485.6 708.4 502.9 686.1 538.8 701.5 521.6 686.7 541.9 697.3 524.3 708.1 518.4 694.8 536.3 689.9 541.1 719.4 494.6 731.0 477.6 683.6 532.6 680.8 548.2 677.8 555.5 705.6 520.6 651.5 565.7 676.2 542.6 681.9 531.4 725.8 478.6 692.9 520.4 690.5 529.2 726.0 485.5 685.8 547.6 687.6 541.2 714.3 514.6 688.2 537.5 693.4 536.9 692.7 517.9 690.1 514.2 691.9 521.4 669.0 561.6 712.8 494.5 662.1 584.2 707.3 508.4 704.4 536.3 705.1 529.7 691.2 527.7 696.0 518.0 689.7 520.3 694.1 539.4 720.1 477.9 717.5 506.5 698.9 525.6 667.6 559.8 697.3 522.4 692.8 511.8 662.6 574.9 689.1 535.3 710.5 511.3 672.0 554.3 681.0 560.5 710.8 513.0 690.2 551.7 682.5 530.9 715.3 498.7 715.7 472.6 703.2 518.6 662.8 544.7 684.1 537.6 703.3 525.9 698.6 520.8 671.3 546.2 668.8 551.8 696.2 509.3 709.5 507.9 697.2 502.0 688.6 525.2 671.3 556.6 698.5 523.2 654.2 577.3 707.9 515.6 708.4 491.2 707.3 503.4 685.9 545.0 695.7 521.5 703.1 522.4 701.0 516.2 681.1 539.5 714.8 482.4 688.1 530.9 691.1 530.8 727.9 484.4 707.2 511.3 699.5 526.6 700.8 530.3 729.0 487.2 700.0 512.6 704.8 473.5 717.8 506.1 690.5 524.4 717.1 494.5 661.7 568.0 675.7 542.2 702.0 477.5 665.5 526.6 704.8 527.1 695.1 510.8 681.9 545.3 701.5 510.2 676.9 552.5 682.3 523.4 686.8 551.3 690.4 531.7 692.1 530.9 688.3 544.8 714.8 502.5 672.8 541.1 704.9 525.9 674.4 539.9 686.5 528.8 664.7 555.8 660.7 569.2 715.8 502.3 728.6 484.2 682.1 538.3 715.8 480.1 674.5 551.0 704.6 499.8 701.0 524.6 674.2 557.5 685.4 537.3 661.2 568.9 697.2 507.1 726.2 477.6 685.3 540.3 687.4 529.6 699.2 502.4 716.9 481.9 671.4 532.4 721.9 477.5 718.7 514.6 690.5 535.8 709.7 505.5 689.2 533.3 692.3 516.9 694.9 518.1 704.6 509.7 719.9 472.6 697.5 530.4 683.3 538.1 731.4 493.3 689.4 514.4 680.8 562.2 707.6 498.1 686.9 533.1 689.0 530.7 674.9 547.9 731.1 476.3 673.5 523.7 685.0 537.5 699.2 524.5 739.3 456.0 688.1 524.4 693.8 539.1 713.4 492.9 692.8 527.5 670.7 546.0 691.3 530.9 687.2 535.5 676.1 549.0 700.6 530.4 682.8 521.4 682.5 536.4 668.1 555.6 709.9 501.5 735.0 465.0 686.4 540.5 689.2 521.2 673.8 551.4 679.3 557.9 729.9 474.5 702.1 511.2 665.6 552.2 685.9 543.0 657.8 584.8 720.2 481.0 708.1 501.2 693.6 508.3 707.6 500.0 661.5 560.7 687.7 540.4 714.2 494.7 729.8 479.9 689.7 523.5 668.1 564.9 685.2 539.3 713.8 503.8 686.7 542.4 693.8 538.4 666.2 530.5 705.0 518.5 696.8 531.2 666.5 560.1 676.7 552.9 726.2 492.4 695.3 513.0 699.6 525.2 734.0 474.4 694.0 505.1 722.1 484.3 733.4 459.2 693.3 514.2 710.6 517.9 720.8 473.2 684.1 529.9 709.8 499.3 696.7 515.6 724.1 494.0 718.9 500.9 695.3 526.2 717.0 508.1 696.5 496.2 710.6 496.9 683.7 533.3 686.0 513.6 643.8 580.7 669.2 553.5 722.4 489.2 698.8 551.0 670.7 541.4 688.0 528.0 715.1 502.6 676.1 545.0 689.7 536.4 669.1 569.8 682.5 541.8 714.3 508.7 717.3 513.3 705.8 525.3 698.6 537.2 708.3 500.7 692.6 527.2 691.2 534.9 692.9 538.8 713.5 505.1 705.7 486.8 684.8 546.6 691.7 535.5 700.5 526.4 646.9 591.4 711.2 518.3 669.2 532.1 717.0 484.5 690.6 529.0 680.1 546.9 703.6 520.4 686.8 550.0 718.0 503.8 699.6 536.6 714.9 475.3 703.7 518.7 679.9 539.6 713.0 510.4 650.7 583.0 717.7 482.9 721.0 503.7 698.6 536.5 664.6 566.3 658.7 586.0 709.6 514.2 700.6 538.4 694.4 524.5 683.0 547.3 692.1 513.7 705.7 498.0 676.5 548.5 682.7 544.6 691.7 525.1 714.0 478.6 714.4 481.1 666.6 577.8 698.7 524.9 745.4 464.3 692.2 538.1 680.7 518.4 697.6 545.3 712.8 489.1 692.2 514.0 693.6 537.4 694.6 533.9 676.5 556.1 698.6 506.1 678.8 543.1 697.7 513.4 714.9 499.7 670.6 538.5 671.2 537.7 710.1 497.0 719.8 497.4 667.9 547.8 680.9 554.1 724.3 475.3 648.8 591.0 683.7 536.7 713.0 496.0 678.2 559.2 668.5 593.1 688.7 525.4 672.1 558.1 686.2 536.9 663.0 574.6 702.3 515.8 684.2 544.8 673.6 547.8 710.3 518.1 708.2 504.3 725.2 480.2 706.2 486.2 702.9 510.1 685.0 552.4 705.6 531.4 701.2 517.8 700.5 517.5 701.2 513.4 694.5 544.4 691.0 527.4 683.3 533.6 710.5 486.5 698.0 532.1 674.0 561.2 683.0 552.8 709.1 526.0 705.5 524.1 684.4 535.9 718.0 487.4 700.2 526.7 694.4 524.4 691.5 524.0 713.0 524.0 666.4 553.2 716.1 488.6 730.7 455.9 670.3 560.6 708.4 523.4 695.9 530.5 730.8 481.7 720.0 491.6 694.7 529.2 672.7 544.8 701.2 499.9 686.9 548.4 703.5 523.7 685.3 541.9 693.9 529.1 689.9 537.2 677.1 547.6 692.1 509.4 712.5 487.8 700.1 522.2 681.9 543.4 659.4 568.7 660.7 584.0 675.2 564.4 691.7 546.2 721.2 482.7 691.7 552.3 720.7 481.9 674.4 577.2 701.5 506.9 671.2 544.1 686.5 534.3 660.2 567.7 660.5 561.5 689.0 543.6 719.1 489.4 696.8 517.6 672.5 568.5 711.6 493.8 667.4 545.5 729.8 485.0 678.1 547.3 692.6 531.0 673.1 551.9 711.5 491.8 698.7 529.5 699.0 529.4 690.4 536.7 677.1 554.4 689.0 534.9 699.0 535.4 685.2 536.1 693.7 538.5 698.7 531.8 694.7 531.9 719.1 501.3 722.6 503.4 735.3 467.2 717.0 504.5 729.0 476.2 715.0 520.3 704.2 494.7 717.8 473.9 680.4 532.1 708.5 508.6 709.5 511.4 730.6 496.0 701.0 514.2 680.0 560.7 704.3 514.9 674.9 567.0 705.5 493.1 727.2 512.8 715.8 502.8 701.4 508.7 696.5 516.2 708.4 510.0 716.3 514.1 712.1 486.3 729.4 480.5 660.5 567.3 684.4 514.5 696.5 536.9 694.3 512.3 691.5 545.7 689.0 537.8 686.7 528.1 653.7 587.1 702.4 488.8 697.3 506.5 720.8 484.6 663.9 559.8 698.7 531.1 671.5 565.3 661.6 574.2 717.8 473.1 689.9 535.3 670.3 572.4 697.8 507.1 708.9 519.6 693.7 532.1 705.6 532.9 686.1 544.4 693.2 553.3 685.9 531.1 677.4 536.1 679.1 531.7 726.3 472.2 702.8 510.3 705.6 514.9 690.7 523.5 678.6 524.9 739.5 467.8 672.0 553.4 706.1 512.4 689.0 550.2 722.3 501.7 708.7 518.1 706.4 489.6 710.3 481.2 700.8 479.2 710.2 504.6 721.5 473.8 735.3 472.0 684.0 549.7 705.9 505.7 694.8 524.5 664.0 558.9 681.9 542.5 685.6 534.7 716.0 504.6 655.3 575.4 716.8 500.2 690.2 532.4 712.5 495.9 699.3 523.1 696.9 504.1 716.8 517.0 690.0 517.8 675.6 554.1 690.8 521.2 685.4 536.9 713.5 507.1 702.0 515.9 686.5 554.7 713.8 495.6 697.6 503.6 686.1 553.5 708.5 495.1 685.0 533.9 699.5 509.9 691.7 527.7 678.5 530.9 697.2 526.2 680.3 547.0 709.9 514.7 672.5 535.2 663.4 576.0 672.1 566.1 719.0 495.9 722.9 479.2 716.0 507.4 721.9 494.8 712.6 506.6 713.2 503.8 707.9 523.9 660.3 577.3 686.5 549.6 705.9 516.3 711.6 500.8 709.2 488.8 681.4 562.9 695.8 531.3 687.8 535.4 711.0 506.1 682.9 545.8 701.7 542.2 708.0 514.5 678.9 543.0 729.8 502.8 696.8 531.2 696.5 511.5 730.3 472.9 719.5 495.3 687.5 536.2 689.3 539.4 710.8 492.7 700.7 523.5 732.8 485.9 692.7 527.2 704.7 512.3 722.8 504.8 707.1 491.8 707.6 512.6 682.6 549.2 705.1 493.2 704.8 511.9 692.0 543.7 710.3 502.6 716.9 501.0 702.3 498.2 734.5 477.7 708.4 494.4 699.6 510.6 675.1 550.8 678.5 547.7 693.7 530.6 683.3 529.4 709.4 488.9 709.0 517.1 706.0 507.7 719.4 483.9 711.7 488.3 694.6 522.0 672.8 554.2 713.7 472.6 691.3 529.8 677.0 559.7 709.9 509.0 676.9 555.6 708.8 528.9 725.2 498.9 696.5 513.9 682.6 545.8 700.6 512.0 680.8 521.7 702.5 503.1 668.4 560.5 695.7 529.1 696.4 523.3 686.7 538.7 664.9 564.8 718.7 462.9 719.6 495.2 701.8 517.0 681.6 532.8 736.1 473.2 678.2 549.1 691.3 522.8 688.0 532.2 690.3 518.2 698.3 520.5 671.6 563.3 676.4 543.3 714.5 509.2 692.0 530.2 698.1 520.6 697.2 515.5 695.5 525.5 702.0 506.2 675.8 572.1 710.0 497.5 685.5 543.0 707.1 478.7 699.2 531.9 694.5 530.6 707.4 499.2 715.8 495.6 680.0 550.8 696.1 534.1 669.8 539.7 678.5 552.0 720.9 502.6 699.0 537.3 688.5 520.6 689.3 530.9 700.3 527.1 691.2 514.7 696.9 545.7 714.9 500.2 692.2 542.4 714.5 501.1 687.4 546.7 716.4 497.7 705.8 480.9 679.0 551.3 703.1 487.6 690.4 553.1 676.2 543.2 694.3 502.4 653.5 571.8 722.0 481.8 677.8 548.9 707.1 526.4 722.0 498.6 692.1 533.5 726.9 492.6 692.8 545.0 713.5 503.0 691.0 543.6 676.8 550.1 686.3 537.3 670.5 555.3 710.2 507.0 692.5 547.4 670.9 566.8 707.9 516.9 678.1 546.5 671.7 557.3 670.4 558.2 705.8 501.5 710.6 501.6 698.6 510.6 690.0 527.8 702.3 501.4 702.4 509.4 714.0 512.7 665.9 560.2 708.2 501.7 674.9 555.9 665.6 576.1 683.9 530.4 730.8 476.7 702.4 512.0 704.9 497.8 690.7 542.9 706.5 483.8 676.7 545.8 664.3 577.9 648.0 569.2 676.5 530.9 701.6 501.3 699.4 506.5 710.2 465.1 693.4 533.8 698.8 522.6 680.6 544.8 660.1 559.4 693.0 530.0 717.1 491.4 732.8 463.7 672.5 546.2 676.3 556.0 725.7 487.0 703.3 519.0 704.9 542.3 687.8 541.1 700.4 496.0 725.7 480.5 678.5 549.7 658.3 571.2 701.0 507.2 698.9 534.1 722.6 473.2 681.6 543.2 733.1 456.1 723.1 503.0 651.5 563.2 687.5 530.6 670.0 555.5 697.9 511.5 693.2 545.4 716.1 507.6 712.1 515.8 678.2 541.7 710.1 510.4 697.7 505.3 717.8 502.8 691.0 530.6 698.4 484.9 693.4 536.6 702.2 492.0 696.6 530.9 690.0 545.6 699.6 530.3 691.7 533.5 700.0 518.5 693.7 525.2 680.1 527.7 720.9 489.8 694.8 494.9 700.8 509.1 693.2 529.1 693.4 535.7 682.5 521.4 671.6 584.0 691.7 517.0 692.3 522.3 722.7 488.2 715.3 510.3 717.5 492.4 701.7 523.0 704.6 505.0 719.0 477.2 692.0 520.5 703.5 501.1 713.4 501.1 700.4 505.1 692.8 514.8 684.7 540.9 639.7 586.6 677.5 539.5 700.7 512.0 657.4 575.9 724.9 489.5 662.8 575.6 684.2 543.2 699.1 502.4 693.9 541.6 704.9 516.6 692.0 523.1 700.5 520.8 696.4 528.5 672.9 542.9 693.3 516.7 680.7 566.3 679.0 561.8 697.1 534.8 713.8 475.1 708.0 497.8 719.4 494.5 669.9 557.5 698.8 502.9 684.6 542.8 667.7 559.1 693.4 530.4 704.5 518.1 669.5 560.7 710.5 542.2 705.5 517.0 694.2 547.8 684.8 521.7 712.9 524.0 699.8 531.5 678.5 550.8 699.3 506.2 688.0 553.0 702.5 507.1 702.1 487.6 732.1 489.6 704.1 497.2 701.1 523.3 676.7 567.2 699.2 507.0 693.2 532.2 696.9 537.5 700.7 520.3 695.0 519.0 642.3 597.0 681.4 545.4 686.3 534.7 731.2 475.8 721.3 488.5 700.0 521.8 681.3 552.9 676.3 534.5 668.2 560.9 692.6 516.6 678.6 555.0 705.2 509.4 682.3 527.9 705.9 509.6 713.2 496.5 688.9 509.1 710.2 513.8 693.7 534.0 689.0 512.3 704.8 501.3 674.3 561.2 676.6 528.8 680.6 550.0 675.2 544.0 699.6 535.5 703.9 505.0 683.4 562.9 687.1 557.3 698.2 523.0 680.3 543.7 688.2 530.0 647.0 570.9 680.1 542.4 715.3 496.9 644.4 581.1 700.5 504.2 666.8 558.3 672.5 574.1 712.6 499.6 708.6 535.5 698.3 513.4 662.7 564.4 681.9 538.0 702.3 500.2 656.2 579.1 739.0 495.8 680.8 532.5 681.6 561.3 713.5 478.1 709.0 507.0 708.8 473.0 700.1 526.8 713.4 486.1 708.1 491.0 735.5 460.4 673.6 556.2 710.1 491.4 689.1 535.7 668.5 546.9 698.2 541.6 691.7 536.2 725.5 491.4 688.2 509.8 704.5 515.5 685.4 524.9 684.7 538.3 674.9 558.4 700.8 505.6 738.8 458.3 685.5 522.8 719.9 508.2 679.9 547.2 692.0 531.9 689.9 521.9 694.5 520.0 688.9 543.9 688.2 524.9 665.9 556.4 672.0 565.3 692.2 547.4 685.9 535.3 705.3 508.8 671.6 539.2 682.4 536.7 696.0 528.1 702.8 515.6 686.3 525.9 704.3 498.4 704.7 520.0 701.2 524.3 677.2 539.5 651.2 571.4 689.5 532.4 727.2 473.6 683.3 542.1 717.8 524.2 713.0 490.1 702.8 525.2 694.1 505.7 698.7 533.4 693.5 527.7 687.5 540.3 701.3 526.2 663.7 568.0 719.0 491.5 706.1 514.9 701.9 509.7 691.9 531.2 685.1 548.4 698.1 505.0 730.1 474.4 705.6 505.3 695.5 514.2 703.1 500.3 683.6 538.1 723.4 475.8 680.0 560.4 686.0 544.7 678.8 519.1 719.2 471.3 714.2 500.5 694.3 536.8 693.1 530.9 703.3 510.0 703.2 505.2 690.8 545.5 702.8 511.9 712.3 528.8 688.8 532.1 685.6 526.5 689.2 524.2 705.7 495.9 734.6 460.9 688.1 533.2 681.4 540.2 685.1 536.4 672.1 522.7 696.1 498.7 690.3 527.7 699.5 519.4 721.1 497.9 700.7 500.1 694.4 505.3 717.1 482.9 712.4 524.3 715.4 484.9 692.2 530.4 699.2 511.8 679.9 543.8 709.2 512.7 654.5 590.6 667.1 557.6 669.0 567.8 683.2 548.2 739.1 465.9 709.0 503.3 719.1 490.2 713.6 477.9 681.9 549.1 713.2 498.6 673.5 570.5 737.6 460.4 706.1 494.6 686.4 549.5 723.6 475.1 715.8 496.4 714.0 492.8 649.7 590.7 708.4 507.4 687.6 506.5 706.3 517.4 686.2 521.0 696.4 527.1 696.4 511.2 699.2 518.2 708.1 510.8 673.7 555.3 710.7 514.9 729.7 464.9 698.7 515.1 712.6 503.5 706.4 511.9 688.9 533.6 730.9 494.9 713.9 489.4 719.4 490.7 705.1 505.2 668.0 577.0 711.0 512.3 657.4 576.7 669.4 541.5 664.4 580.5 694.0 508.5 709.9 518.8 695.5 512.2 690.1 545.0 694.3 504.2 695.3 525.3 686.0 532.3 675.4 549.7 710.4 501.3 712.0 479.1 692.5 535.0 694.6 518.3 718.3 493.3 678.7 545.9 688.2 537.2 690.0 529.3 686.3 550.3 689.8 532.1 709.3 488.1 710.1 507.7 716.7 502.8 674.4 562.1 690.9 537.5 706.7 520.6 693.3 521.0 707.5 509.0 699.1 518.4 696.3 508.0 702.1 509.1 672.2 555.5 687.0 537.8 699.8 510.2 691.5 525.4 711.0 505.0 694.5 524.9 690.1 510.6 698.9 513.0 723.3 473.5 690.1 540.9 696.4 502.5 689.6 512.3 689.9 541.9 672.6 573.5 703.1 526.2 674.1 558.3 684.9 556.0 687.6 540.4 695.3 523.5 685.8 527.1 708.8 499.2 718.0 483.5 699.5 546.3 686.9 528.7 665.7 577.9 718.3 492.8 691.5 554.0 692.5 525.5 709.8 495.3 703.9 501.0 708.3 516.1 712.6 473.9 684.9 555.9 727.8 477.6 678.9 558.0 650.0 561.5 735.2 481.7 702.6 528.7 682.9 536.4 684.5 542.7 700.6 516.1 696.0 533.1 673.9 554.0 668.2 559.7 695.3 535.5 695.3 511.8 727.6 459.2 693.8 535.5 689.6 521.8 668.1 532.6 668.0 572.0 697.6 513.0 691.3 521.1 709.2 515.4 715.9 503.1 683.0 555.7 728.5 482.1 698.2 511.9 699.9 511.0 703.0 534.5 690.5 517.1 705.6 500.6 696.8 495.6 694.7 506.6 645.7 593.7 694.3 519.2 710.4 516.8 707.7 505.7 689.2 549.6 706.7 496.3 670.7 551.0 710.8 521.1 670.4 565.5 672.8 552.3 705.8 507.5 712.8 480.5 719.1 488.5 691.5 529.2 709.5 508.7 702.3 505.8 721.2 490.2 679.7 561.7 683.7 539.6 652.8 583.7 688.9 539.3 707.4 535.9 673.5 550.0 713.5 505.6 693.7 537.0 703.8 505.7 712.4 501.0 668.4 545.3 709.6 502.6 683.0 556.9 688.1 540.2 692.7 543.9 669.7 540.3 701.0 486.2 661.3 562.8 698.6 495.7 671.5 538.1 702.3 501.0 694.8 523.4 715.1 497.6 701.5 523.0 702.3 518.7 715.9 499.3 686.2 524.7 675.3 549.5 729.3 509.5 687.1 535.6 734.2 463.7 702.2 512.9 699.0 524.0 676.4 556.0 707.7 525.9 695.9 551.0 684.3 542.9 678.4 548.4 718.8 498.2 704.8 496.7 701.4 535.1 696.0 529.4 682.8 531.7 706.2 531.1 672.4 556.4 684.4 535.8 688.4 518.7 701.8 497.7 704.8 477.9 684.3 551.4 707.3 518.2 696.4 507.9 705.4 478.5 672.8 544.7 692.2 530.6 692.6 512.6 701.7 515.1 706.7 519.8 703.7 487.2 721.2 487.6 693.7 550.2 696.5 533.7 702.7 503.7 667.1 540.7 702.3 490.3 693.9 531.2 705.8 520.2 685.0 535.4 676.2 549.5 712.1 512.0 707.9 527.0 699.6 514.9 690.9 544.7 694.3 524.5 709.0 507.6 714.9 472.7 690.5 539.5 712.7 505.8 702.1 534.1 698.5 516.3 703.8 500.1 668.5 573.7 677.1 541.3 639.9 593.4 694.3 514.6 682.3 558.4 685.6 541.2 715.3 504.7 649.6 576.4 687.5 524.1 687.4 531.4 696.5 508.6 666.8 563.3 702.3 514.4 718.9 489.1 712.7 497.7 737.9 459.8 690.1 547.1 691.1 545.4 683.9 560.1 680.6 550.6 685.3 548.8 708.6 514.2 702.3 498.7 684.4 517.4 650.7 572.5 687.9 517.3 700.1 522.8 696.5 532.8 693.6 536.7 694.2 544.8 680.3 558.4 709.6 487.5 699.5 514.5 696.0 493.9 708.0 508.6 712.6 504.4 673.5 551.2 687.8 516.1 719.8 497.7 713.4 499.4 697.2 528.3 708.7 512.5 684.4 558.8 713.6 488.9 705.5 516.8 691.8 542.8 682.8 525.0 725.4 467.6 705.9 513.9 708.3 525.1 711.7 504.1 667.9 548.6 710.7 498.2 703.4 524.0 679.1 559.7 703.7 545.4 673.4 544.0 707.6 504.9 720.4 486.5 672.4 531.0 666.6 545.0 701.3 518.1 693.7 531.9 674.2 548.3 670.8 552.6 658.4 564.7 689.2 534.0 692.1 514.2 685.0 516.1 708.7 526.1 707.2 502.4 692.2 498.5 690.6 546.0 679.2 543.1 705.2 540.1 688.4 511.8 674.6 555.2 698.8 524.9 715.3 496.6 696.8 513.1 703.7 509.4 651.6 587.2 681.1 556.2 685.3 539.0 684.4 540.1 714.2 501.9 730.9 457.3 727.1 481.7 702.5 534.1 697.7 516.7 725.4 487.7 701.1 510.2 674.4 544.9 739.8 479.3 720.0 475.7 729.0 468.6 694.2 523.5 704.0 515.6 687.0 531.6 639.2 591.8 688.9 539.6 712.5 508.3 693.0 538.5 713.9 478.0 695.1 526.6 712.3 513.5 720.0 501.4 666.3 535.6 692.2 534.1 688.7 530.8 698.3 527.5 701.0 496.5 702.3 496.5 721.1 487.3 705.3 527.7 691.5 528.7 709.8 527.8 681.5 558.4 706.2 501.1 668.6 566.2 690.3 522.0 724.7 495.5 650.2 586.6 687.4 521.7 724.0 470.0 695.1 514.8 660.3 573.6 723.0 475.2 688.3 524.0 665.9 560.0 713.4 498.9 695.2 526.3 679.2 546.4 707.5 493.5 712.8 502.3 656.1 591.5 703.7 528.2 670.9 554.0 672.4 570.1 708.6 488.5 704.7 529.7 685.9 562.8 693.7 525.1 711.6 490.3 685.8 531.1 692.3 526.2 692.5 521.7 667.8 554.3 685.2 547.6 676.0 543.1 695.8 553.9 702.9 494.8 691.9 551.0 690.3 528.6 728.2 471.2 678.4 531.7 712.3 518.7 694.1 520.6 740.2 459.4 701.0 550.3 699.1 516.0 705.3 516.1 726.4 470.9 679.7 539.8 695.3 521.3 688.4 545.1 671.6 561.7 703.1 522.1 708.9 503.0 692.6 516.9 720.2 506.8 651.1 595.7 709.5 494.3 730.2 478.2 703.6 522.0 690.0 539.6 696.1 530.6 711.7 505.3 714.5 491.6 683.8 551.4 683.6 565.0 646.0 588.4 711.5 512.8 716.5 499.8 717.0 493.2 698.0 522.8 672.9 548.2 675.7 552.3 688.0 536.3 706.0 518.8 708.9 495.9 716.5 529.4 710.5 497.8 714.7 509.7 714.6 482.4 700.7 532.6 663.8 559.5 697.7 554.4 699.7 518.2 714.6 493.6 667.8 562.4 685.6 553.9 710.7 500.8 681.8 548.1 685.1 533.0 712.4 513.5 705.2 542.4 680.8 547.5 684.1 534.1 701.5 509.3 675.7 535.5 704.1 505.7 711.9 498.3 662.1 569.8 682.1 526.7 694.5 529.7 696.5 529.7 697.4 535.1 675.7 571.7 686.3 534.0 701.6 517.6 711.3 512.0 669.2 574.1 673.3 550.8 679.3 546.1 698.4 505.3 706.2 520.7 674.7 569.3 688.8 502.4 721.3 496.2 681.2 545.9 705.0 498.6 703.3 522.9 720.7 499.9 712.4 488.0 706.7 506.5 676.0 562.2 687.1 551.4 669.3 548.1 699.9 531.0 697.3 505.7 717.6 489.3 714.7 501.4 708.9 524.7 661.7 577.2 680.3 538.6 682.9 550.6 717.3 482.9 712.5 507.2 699.2 521.5 689.2 527.1 687.3 553.7 700.6 519.2 683.4 569.0 720.5 493.3 681.8 541.0 702.1 518.0 699.2 527.4 678.5 530.4 690.1 545.0 711.2 498.2 662.2 582.0 707.9 492.1 699.7 517.4 668.6 553.3 712.2 503.8 704.1 514.3 691.4 542.4 709.7 490.4 688.0 520.8 703.9 526.5 720.9 497.9 716.3 492.3 719.3 486.9 700.4 510.5 663.3 555.6 655.6 563.9 710.6 500.0 683.7 547.6 703.7 527.5 662.5 560.1 705.8 517.2 695.2 529.5 704.5 494.7 722.7 511.5 691.4 541.1 698.7 509.1 705.9 513.6 683.8 531.8 653.2 571.7 690.6 550.0 726.7 463.7 710.0 509.9 676.2 555.0 678.1 564.1 679.1 521.2 682.7 539.1 666.5 583.7 685.0 536.3 697.4 549.5 687.9 534.7 697.4 523.8 710.7 509.2 704.7 504.9 700.9 520.1 700.2 522.0 672.1 548.6 716.9 485.5 688.1 546.7 673.6 550.9 717.0 489.7 704.3 510.2 692.9 544.6 730.8 463.3 670.3 551.3 693.7 513.8 704.7 498.4 684.6 530.4 711.0 523.4 689.5 535.2 688.5 527.9 687.6 527.4 699.2 520.9 691.9 509.1 698.6 535.1 676.0 523.2 708.2 521.4 687.4 542.4 715.6 532.7 682.8 560.4 688.4 536.1 676.9 543.3 675.5 537.6 714.1 498.6 711.6 503.6 690.4 498.3 679.6 541.8 708.4 511.9 705.4 521.2 713.9 506.3 719.6 488.5 688.6 546.4 691.9 532.9 684.6 555.2 713.2 486.7 724.1 501.7 686.3 520.1 697.8 507.3 701.4 512.4 695.4 530.4 703.2 521.5 726.0 477.5 710.2 512.4 710.2 502.4 707.2 535.1 691.2 525.1 702.1 513.1 697.1 507.0 716.3 485.5 694.1 535.3 693.4 511.1 714.2 504.9 703.9 532.1 674.5 519.7 692.7 533.5 715.2 501.1 717.2 507.5 723.9 488.4 703.5 528.4 687.3 532.6 663.3 554.5 687.8 534.4 671.8 555.7 695.1 493.6 711.7 507.0 673.9 529.7 706.8 501.5 691.9 514.4 665.9 563.7 704.1 510.0 685.3 529.0 670.5 560.8 669.6 561.8 712.3 507.3 704.1 523.3 701.7 522.7 654.9 562.9 664.3 560.4 712.5 482.3 681.7 556.1 695.1 520.3 696.9 503.2 694.4 531.4 708.9 506.0 682.3 520.6 691.2 538.3 695.9 511.9 704.3 486.8 667.0 570.2 688.3 548.3 738.1 460.2 675.5 555.9 667.4 558.4 684.9 544.0 677.0 533.9 693.0 535.8 696.4 528.3 686.5 513.1 727.4 477.7 679.9 532.2 704.9 506.5 710.5 504.6 691.2 526.5 690.2 537.7 678.1 533.8 687.9 523.5 683.8 531.5 727.7 502.3 696.9 504.4 702.6 505.1 696.4 519.3 685.0 506.1 688.6 514.1 686.5 547.0 713.1 492.7 700.8 521.8 704.7 517.2 711.8 513.9 687.0 556.1 676.6 569.5 677.8 543.1 706.4 539.7 683.7 529.6 666.5 550.5 704.6 496.9 686.8 540.4 708.9 516.4 685.5 527.5 732.4 484.2 674.4 562.4 696.0 504.6 712.1 516.1 712.1 491.0 674.1 560.2 698.1 527.5 703.9 510.0 686.7 533.7 724.4 487.5 711.2 492.3 713.5 513.6 679.2 525.7 657.5 567.6 686.1 538.1 701.9 515.2 705.2 507.2 706.3 505.7 662.9 556.1 696.0 534.6 683.4 546.8 714.8 491.2 696.8 521.6 678.6 562.7 676.8 540.9 708.9 529.6 712.2 501.0 691.2 524.3 682.8 535.5 730.5 486.8 661.7 570.5 709.6 500.7 694.5 520.5 688.5 518.3 676.4 541.8 738.7 469.6 673.7 549.9 659.8 558.5 722.6 483.9 705.7 488.6 691.7 540.8 719.7 483.5 699.7 527.9 671.7 552.7 713.2 514.1 704.3 515.3 692.4 519.5 691.3 523.9 714.5 498.8 714.7 498.2 719.6 473.3 695.4 555.0 712.5 528.9 698.0 524.1 727.2 463.9 722.3 483.6 711.5 506.9 695.6 511.9 712.2 489.0 661.2 573.2 702.3 528.4 699.9 535.5 685.7 536.6 689.6 537.9 685.6 549.1 694.9 536.9 690.5 524.6 656.0 580.5 672.4 555.3 696.8 541.6 701.4 509.3 700.0 531.3 713.6 538.0 651.6 583.9 706.7 506.9 705.5 517.6 674.7 557.4 685.7 558.5 698.4 510.2 703.8 494.3 716.2 508.7 689.0 557.0 682.1 542.0 701.5 549.7 719.4 482.0 708.6 511.0 692.7 509.6 661.1 560.1 698.6 513.5 705.7 497.8 711.6 480.4 698.3 519.4 667.4 546.4 696.2 518.8 676.7 549.9 679.4 537.6 684.5 536.0 696.2 516.4 679.9 536.4 682.9 538.5 662.3 580.9 694.2 530.3 668.4 568.9 688.8 526.0 702.3 496.9 689.1 521.3 729.5 479.1 695.3 536.1 718.4 480.5 666.9 548.5 685.2 544.0 697.0 532.7 705.8 510.4 696.4 503.3 687.8 536.0 668.7 559.5 705.7 514.4 721.1 484.9 684.0 535.8 687.9 549.2 719.5 507.9 695.7 549.0 699.4 537.0 722.2 504.0 717.7 485.0 673.6 550.5 712.5 499.7 709.9 509.6 704.8 506.0 695.0 532.7 690.1 520.0 727.8 460.5 704.2 510.7 691.6 556.0 715.7 488.4 690.0 557.0 700.1 510.0 673.7 551.6 685.9 558.2 682.2 536.1 684.4 529.5 701.9 501.5 695.8 524.3 675.1 556.5 690.7 538.5 664.0 559.3 673.3 552.0 708.6 516.4 693.2 509.3 724.3 468.2 704.1 520.2 697.8 521.3 717.6 490.5 700.1 501.6 684.0 537.8 713.0 490.0 694.4 544.3 673.3 566.8 699.5 501.7 677.0 522.8 677.7 526.1 689.1 540.7 697.1 534.7 652.3 576.5 693.8 525.4 667.4 559.3 683.9 528.0 694.1 546.3 722.8 476.9 718.7 470.6 718.5 498.2 700.9 505.6 679.7 564.9 718.6 491.9 713.1 503.4 707.5 506.6 697.7 536.4 687.6 532.9 729.7 493.7 713.7 500.5 708.2 497.8 692.5 509.8 710.4 524.2 718.7 485.0 697.7 532.4 659.3 579.9 699.7 503.1 685.3 537.5 693.8 519.0 690.3 524.1 696.8 530.0 705.0 512.0 674.2 542.1 716.2 489.7 691.1 551.9 692.5 543.6 691.0 545.5 693.9 540.9 715.0 503.9 733.7 488.7 723.6 508.7 672.0 550.4 692.2 525.8 694.8 515.7 679.6 553.1 701.7 510.1 674.3 552.1 656.6 565.9 686.0 524.4 716.9 503.8 721.8 506.9 717.8 496.6 677.1 549.8 729.5 488.7 688.5 535.1 718.6 469.9 664.8 571.8 692.0 527.0 744.1 470.2 706.7 519.8 698.7 500.2 681.8 540.3 668.5 551.0 680.9 542.1 691.3 532.1 722.3 478.8 709.6 502.4 693.6 530.3 683.3 554.4 705.1 508.7 690.9 551.1 686.8 515.5 685.8 515.3 688.0 536.7 666.4 545.9 710.0 478.5 697.5 528.5 694.3 521.6 721.0 476.0 693.0 528.8 687.1 529.8 685.9 551.3 654.2 574.3 716.9 511.2 725.4 490.2 671.5 556.0 719.4 475.8 714.2 480.5 686.1 515.6 711.5 512.2 706.7 489.6 678.2 540.7 675.6 571.5 663.3 591.8 701.6 518.1 708.9 488.3 671.4 535.3 723.6 496.2 666.9 559.3 731.7 485.6 665.8 543.8 723.1 463.7 705.2 502.7 689.4 555.7 709.7 500.2 720.0 484.7 710.7 511.6 703.6 495.5 716.9 506.9 715.8 516.0 716.7 488.4 702.8 514.7 705.2 489.9 691.5 512.8 691.5 540.7 695.3 535.4 687.2 526.4 719.7 466.8 693.2 524.0 682.7 544.1 684.4 562.8 671.3 538.7 693.9 540.0 700.9 525.0 681.0 544.8 646.0 577.5 698.4 496.5 707.5 514.2 695.3 525.7 670.0 571.3 701.8 504.1 715.4 481.1 703.7 486.8 696.0 521.0 681.6 555.2 710.7 511.5 723.8 463.5 688.9 547.5 693.4 509.1 712.4 508.5 729.1 459.8 718.8 491.6 665.3 564.1 685.0 522.9 696.4 526.6 699.3 531.8 704.0 507.4 701.9 512.3 675.3 553.6 697.9 536.6 692.7 525.6 682.9 527.2 689.9 546.9 702.0 514.1 707.2 506.8 665.9 540.1 696.3 510.9 708.3 534.1 724.4 476.4 678.5 550.5 697.1 518.7 712.6 494.0 691.5 536.7 669.0 553.5 671.0 552.4 691.4 540.6 673.0 574.9 673.7 566.8 668.0 563.3 694.0 538.9 699.2 536.2 675.7 533.8 675.6 562.1 674.2 549.2 703.0 513.6 681.4 559.1 686.0 545.1 698.8 508.6 699.2 515.6 698.4 545.2 681.0 538.7 689.8 509.0 665.7 543.5 692.0 520.2 697.6 533.4 665.3 570.9 711.4 492.2 698.4 525.3 695.4 531.3 701.5 541.4 690.1 524.3 719.7 470.3 670.1 556.2 697.7 527.2 726.2 469.2 685.4 521.8 718.6 467.0 671.3 551.3 695.0 550.0 707.9 511.0 671.4 572.8 670.8 546.0 694.3 505.9 682.7 539.1 688.6 534.3 683.6 554.2 693.7 535.4 683.2 517.4 709.0 499.9 698.5 537.1 686.1 543.9 593.0 683.7 603.4 648.0 611.6 650.1 610.1 656.1 615.4 659.9 625.7 624.1 629.5 626.7 640.4 626.7 627.5 614.4 628.2 610.5 633.3 615.2 635.4 619.0 634.1 605.4 631.5 601.6 643.7 608.0 655.0 604.1 648.8 602.4 732.8 440.3 736.7 444.2 741.3 448.8 743.8 436.5 746.1 436.5 746.1 445.0 735.9 452.7 740.5 451.8 754.0 465.0 753.3 472.2 746.1 487.1" fill="none" marker-start="url(#m)" marker-mid="url(#m)" marker-end="url(#m)"/><path d="M593.1 655.8L753.7 448.1" stroke="#4466dd" stroke-width="1.1"/><path d="M578.20 727.5v5M568.0 713.50h-5M628.50 727.5v5M568.0 628.40h-5M680.45 727.5v5M568.0 543.30h-5M731.05 727.5v5M568.0 458.20h-5" stroke="#666" stroke-width="1.2"/>
<g filter="url(#gs)"><text font-size="12.8" fill="#777" stroke="#777" stroke-width="0.3" text-anchor="middle" transform="translate(45.60 349.90) scale(1 1.04)">0</text><text font-size="12.8" fill="#777" stroke="#777" stroke-width="0.3" text-anchor="end" transform="translate(26.40 321.10) scale(1 1.04)">0</text><text font-size="12.8" fill="#777" stroke="#777" stroke-width="0.3" text-anchor="middle" transform="translate(95.90 349.90) scale(1 1.04)">2</text><text font-size="12.8" fill="#777" stroke="#777" stroke-width="0.3" text-anchor="end" transform="translate(26.40 236.00) scale(1 1.04)">2</text><text font-size="12.8" fill="#777" stroke="#777" stroke-width="0.3" text-anchor="middle" transform="translate(147.85 349.90) scale(1 1.04)">4</text><text font-size="12.8" fill="#777" stroke="#777" stroke-width="0.3" text-anchor="end" transform="translate(26.40 150.90) scale(1 1.04)">4</text><text font-size="12.8" fill="#777" stroke="#777" stroke-width="0.3" text-anchor="middle" transform="translate(198.45 349.90) scale(1 1.04)">6</text><text font-size="12.8" fill="#777" stroke="#777" stroke-width="0.3" text-anchor="end" transform="translate(26.40 65.80) scale(1 1.04)">6</text><text font-size="15.5" fill="#000" text-anchor="middle" letter-spacing="0.45" transform="translate(134.50 368.60) scale(1 1.08)">BehAvd30</text><text font-size="15.5" fill="#000" text-anchor="middle" letter-spacing="0.55" transform="translate(15.20 165.60) rotate(-90) scale(1 1.08)">BehAvd62</text><text font-size="12.8" fill="#777" stroke="#777" stroke-width="0.3" text-anchor="middle" transform="translate(311.60 349.90) scale(1 1.04)">0</text><text font-size="12.8" fill="#777" stroke="#777" stroke-width="0.3" text-anchor="end" transform="translate(292.40 321.10) scale(1 1.04)">0</text><text font-size="12.8" fill="#777" stroke="#777" stroke-width="0.3" text-anchor="middle" transform="translate(361.90 349.90) scale(1 1.04)">2</text><text font-size="12.8" fill="#777" stroke="#777" stroke-width="0.3" text-anchor="end" transform="translate(292.40 236.00) scale(1 1.04)">2</text><text font-size="12.8" fill="#777" stroke="#777" stroke-width="0.3" text-anchor="middle" transform="translate(413.85 349.90) scale(1 1.04)">4</text><text font-size="12.8" fill="#777" stroke="#777" stroke-width="0.3" text-anchor="end" transform="translate(292.40 150.90) scale(1 1.04)">4</text><text font-size="12.8" fill="#777" stroke="#777" stroke-width="0.3" text-anchor="middle" transform="translate(464.45 349.90) scale(1 1.04)">6</text><text font-size="12.8" fill="#777" stroke="#777" stroke-width="0.3" text-anchor="end" transform="translate(292.40 65.80) scale(1 1.04)">6</text><text font-size="15.5" fill="#000" text-anchor="middle" letter-spacing="0.45" transform="translate(400.50 368.60) scale(1 1.08)">DisAvr30</text><text font-size="15.5" fill="#000" text-anchor="middle" letter-spacing="0.55" transform="translate(281.20 165.60) rotate(-90) scale(1 1.08)">DisAvr62</text><text font-size="12.8" fill="#777" stroke="#777" stroke-width="0.3" text-anchor="middle" transform="translate(577.60 349.90) scale(1 1.04)">0</text><text font-size="12.8" fill="#777" stroke="#777" stroke-width="0.3" text-anchor="end" transform="translate(558.40 321.10) scale(1 1.04)">0</text><text font-size="12.8" fill="#777" stroke="#777" stroke-width="0.3" text-anchor="middle" transform="translate(627.90 349.90) scale(1 1.04)">2</text><text font-size="12.8" fill="#777" stroke="#777" stroke-width="0.3" text-anchor="end" transform="translate(558.40 236.00) scale(1 1.04)">2</text><text font-size="12.8" fill="#777" stroke="#777" stroke-width="0.3" text-anchor="middle" transform="translate(679.85 349.90) scale(1 1.04)">4</text><text font-size="12.8" fill="#777" stroke="#777" stroke-width="0.3" text-anchor="end" transform="translate(558.40 150.90) scale(1 1.04)">4</text><text font-size="12.8" fill="#777" stroke="#777" stroke-width="0.3" text-anchor="middle" transform="translate(730.45 349.90) scale(1 1.04)">6</text><text font-size="12.8" fill="#777" stroke="#777" stroke-width="0.3" text-anchor="end" transform="translate(558.40 65.80) scale(1 1.04)">6</text><text font-size="15.5" fill="#000" text-anchor="middle" letter-spacing="0.45" transform="translate(666.50 368.60) scale(1 1.08)">Procst30</text><text font-size="15.5" fill="#000" text-anchor="middle" letter-spacing="0.55" transform="translate(547.20 165.60) rotate(-90) scale(1 1.08)">Procst62</text><text font-size="12.8" fill="#777" stroke="#777" stroke-width="0.3" text-anchor="middle" transform="translate(45.60 748.80) scale(1 1.04)">0</text><text font-size="12.8" fill="#777" stroke="#777" stroke-width="0.3" text-anchor="end" transform="translate(26.40 719.60) scale(1 1.04)">0</text><text font-size="12.8" fill="#777" stroke="#777" stroke-width="0.3" text-anchor="middle" transform="translate(95.90 748.80) scale(1 1.04)">2</text><text font-size="12.8" fill="#777" stroke="#777" stroke-width="0.3" text-anchor="end" transform="translate(26.40 634.50) scale(1 1.04)">2</text><text font-size="12.8" fill="#777" stroke="#777" stroke-width="0.3" text-anchor="middle" transform="translate(147.85 748.80) scale(1 1.04)">4</text><text font-size="12.8" fill="#777" stroke="#777" stroke-width="0.3" text-anchor="end" transform="translate(26.40 549.40) scale(1 1.04)">4</text><text font-size="12.8" fill="#777" stroke="#777" stroke-width="0.3" text-anchor="middle" transform="translate(198.45 748.80) scale(1 1.04)">6</text><text font-size="12.8" fill="#777" stroke="#777" stroke-width="0.3" text-anchor="end" transform="translate(26.40 464.30) scale(1 1.04)">6</text><text font-size="15.5" fill="#000" text-anchor="middle" letter-spacing="0.45" transform="translate(134.50 766.80) scale(1 1.08)">DstSup30</text><text font-size="15.5" fill="#000" text-anchor="middle" letter-spacing="0.55" transform="translate(15.20 564.05) rotate(-90) scale(1 1.08)">DstSup62</text><text font-size="12.8" fill="#777" stroke="#777" stroke-width="0.3" text-anchor="middle" transform="translate(311.60 748.80) scale(1 1.04)">0</text><text font-size="12.8" fill="#777" stroke="#777" stroke-width="0.3" text-anchor="end" transform="translate(292.40 719.60) scale(1 1.04)">0</text><text font-size="12.8" fill="#777" stroke="#777" stroke-width="0.3" text-anchor="middle" transform="translate(361.90 748.80) scale(1 1.04)">2</text><text font-size="12.8" fill="#777" stroke="#777" stroke-width="0.3" text-anchor="end" transform="translate(292.40 634.50) scale(1 1.04)">2</text><text font-size="12.8" fill="#777" stroke="#777" stroke-width="0.3" text-anchor="middle" transform="translate(413.85 748.80) scale(1 1.04)">4</text><text font-size="12.8" fill="#777" stroke="#777" stroke-width="0.3" text-anchor="end" transform="translate(292.40 549.40) scale(1 1.04)">4</text><text font-size="12.8" fill="#777" stroke="#777" stroke-width="0.3" text-anchor="middle" transform="translate(464.45 748.80) scale(1 1.04)">6</text><text font-size="12.8" fill="#777" stroke="#777" stroke-width="0.3" text-anchor="end" transform="translate(292.40 464.30) scale(1 1.04)">6</text><text font-size="15.5" fill="#000" text-anchor="middle" letter-spacing="0.45" transform="translate(400.50 766.80) scale(1 1.08)">RepDny30</text><text font-size="15.5" fill="#000" text-anchor="middle" letter-spacing="0.55" transform="translate(281.20 564.05) rotate(-90) scale(1 1.08)">RepDny62</text><text font-size="12.8" fill="#777" stroke="#777" stroke-width="0.3" text-anchor="middle" transform="translate(577.60 748.80) scale(1 1.04)">0</text><text font-size="12.8" fill="#777" stroke="#777" stroke-width="0.3" text-anchor="end" transform="translate(558.40 719.60) scale(1 1.04)">0</text><text font-size="12.8" fill="#777" stroke="#777" stroke-width="0.3" text-anchor="middle" transform="translate(627.90 748.80) scale(1 1.04)">2</text><text font-size="12.8" fill="#777" stroke="#777" stroke-width="0.3" text-anchor="end" transform="translate(558.40 634.50) scale(1 1.04)">2</text><text font-size="12.8" fill="#777" stroke="#777" stroke-width="0.3" text-anchor="middle" transform="translate(679.85 748.80) scale(1 1.04)">4</text><text font-size="12.8" fill="#777" stroke="#777" stroke-width="0.3" text-anchor="end" transform="translate(558.40 549.40) scale(1 1.04)">4</text><text font-size="12.8" fill="#777" stroke="#777" stroke-width="0.3" text-anchor="middle" transform="translate(730.45 748.80) scale(1 1.04)">6</text><text font-size="12.8" fill="#777" stroke="#777" stroke-width="0.3" text-anchor="end" transform="translate(558.40 464.30) scale(1 1.04)">6</text><text font-size="15.5" fill="#000" text-anchor="middle" letter-spacing="0.45" transform="translate(666.50 766.80) scale(1 1.08)">DisEndr30</text><text font-size="15.5" fill="#000" text-anchor="middle" letter-spacing="0.55" transform="translate(547.20 564.05) rotate(-90) scale(1 1.08)">DisEndr62</text></g>
</svg></body></html>
